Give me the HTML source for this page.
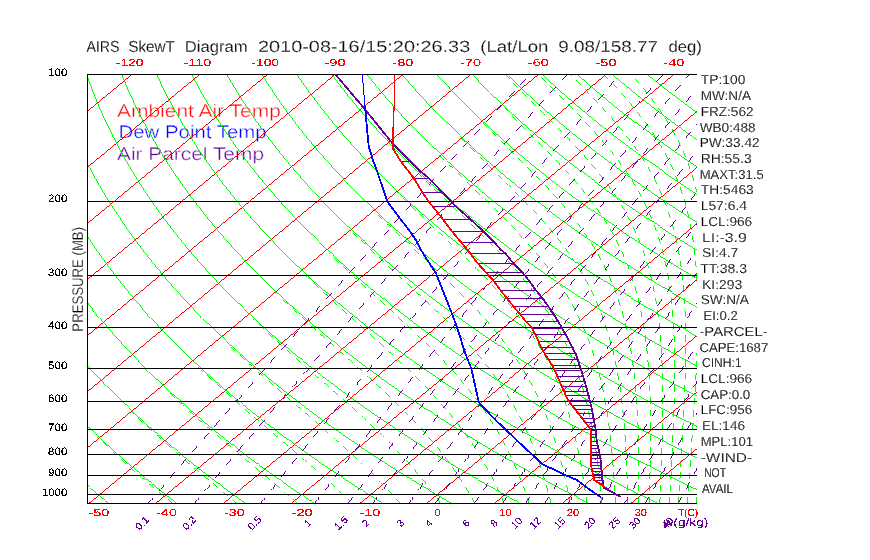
<!DOCTYPE html>
<html><head><meta charset="utf-8"><title>AIRS SkewT Diagram</title>
<style>html,body{margin:0;padding:0;background:#fff}svg{display:block}</style></head>
<body>
<svg width="870" height="560" viewBox="0 0 870 560" shape-rendering="crispEdges" text-rendering="geometricPrecision">
<rect width="870" height="560" fill="#fff"/>
<defs><clipPath id="c"><rect x="87.0" y="74.0" width="610.0" height="430.0"/></clipPath><filter id="t" filterUnits="userSpaceOnUse" x="0" y="0" width="870" height="560" color-interpolation-filters="sRGB"><feComponentTransfer><feFuncA type="discrete" tableValues="0 1"/></feComponentTransfer></filter><filter id="t2" filterUnits="userSpaceOnUse" x="0" y="0" width="870" height="560" color-interpolation-filters="sRGB"><feComponentTransfer><feFuncA type="discrete" tableValues="0 0 0 0 0 0 0 0 1 1 1 1 1 1 1 1 1 1 1 1"/></feComponentTransfer></filter></defs>
<g font-family="'Liberation Sans', sans-serif" shape-rendering="auto" filter="url(#t2)">
<text x="117.0" y="116.8" font-size="18.0" fill="#ff0000" text-anchor="start" textLength="163.8" lengthAdjust="spacingAndGlyphs" stroke="#fff" stroke-width="0.45">Ambient Air Temp</text>
<text x="118.5" y="137.9" font-size="18.0" fill="#0000ff" text-anchor="start" textLength="148.1" lengthAdjust="spacingAndGlyphs" stroke="#fff" stroke-width="0.45">Dew Point Temp</text>
<text x="117.0" y="159.9" font-size="18.0" fill="#64009a" text-anchor="start" textLength="147.0" lengthAdjust="spacingAndGlyphs" stroke="#fff" stroke-width="0.45">Air Parcel Temp</text>
</g>
<g clip-path="url(#c)" fill="none" stroke-width="0.75" filter="url(#t)">
<g stroke="#00ff00">
<path d="M108.7 503.8 L106.7 502.1 L104.6 500.3 L102.5 498.5 L100.4 496.7 L98.3 494.9 L96.1 493.1 L94.0 491.2 L91.8 489.3 L89.7 487.5 L87.5 485.5 L85.4 483.6 L83.2 481.7 L81.0 479.7 L78.8 477.7 L76.6 475.7 L74.4 473.6 L72.1 471.6 L69.9 469.5 L67.7 467.4 L65.4 465.3 L63.1 463.1 L60.9 460.9 L58.6 458.7 L56.3 456.5 L53.9 454.2 L51.6 451.9 L49.3 449.6 L47.0 447.2 L44.6 444.8 L42.2 442.4 L39.9 440.0 L37.5 437.5 L35.1 435.0 L32.7 432.4 L30.2 429.8 L27.8 427.2 L25.3 424.6 L22.9 421.9 L20.4 419.1 L17.9 416.3 L15.4 413.5 L12.9 410.6 L10.4 407.7 L7.9 404.7 L5.3 401.7 L2.7 398.7 L0.2 395.5 L-2.4 392.4 L-5.0 389.1 L-7.6 385.9 L-10.3 382.5 L-12.9 379.1 L-15.5 375.6 L-18.2 372.1 L-20.9 368.5 L-23.6 364.8 L-26.3 361.0 L-29.0 357.2 L-31.7 353.3 L-34.5 349.2 L-37.2 345.2 L-40.0 341.0 L-42.8 336.7 L-45.6 332.3 L-48.4 327.8 L-51.2 323.1 L-54.0 318.4 L-56.9 313.5 L-59.7 308.5 L-62.5 303.4 L-65.4 298.1 L-68.3 292.7 L-71.1 287.1 L-74.0 281.3 L-76.9 275.3 L-79.7 269.1 L-82.6 262.7 L-85.5 256.1 L-88.3 249.2 L-91.1 242.0 L-93.9 234.6 L-96.7 226.8 L-99.5 218.7 L-102.2 210.2 L-104.8 201.3 L-107.4 192.0 L-110.0 182.1 L-112.4 171.7 L-114.7 160.6 L-116.8 148.9 L-118.8 136.3 L-120.5 122.8 L-122.0 108.2 L-123.1 92.3 L-123.7 74.9"/>
<path d="M177.4 503.8 L175.2 502.1 L172.9 500.3 L170.6 498.5 L168.3 496.7 L166.0 494.9 L163.7 493.1 L161.4 491.2 L159.0 489.3 L156.7 487.5 L154.3 485.5 L151.9 483.6 L149.5 481.7 L147.2 479.7 L144.7 477.7 L142.3 475.7 L139.9 473.6 L137.5 471.6 L135.0 469.5 L132.5 467.4 L130.1 465.3 L127.6 463.1 L125.1 460.9 L122.6 458.7 L120.0 456.5 L117.5 454.2 L115.0 451.9 L112.4 449.6 L109.8 447.2 L107.2 444.8 L104.6 442.4 L102.0 440.0 L99.4 437.5 L96.7 435.0 L94.1 432.4 L91.4 429.8 L88.7 427.2 L86.0 424.6 L83.3 421.9 L80.6 419.1 L77.8 416.3 L75.1 413.5 L72.3 410.6 L69.5 407.7 L66.7 404.7 L63.9 401.7 L61.0 398.7 L58.2 395.5 L55.3 392.4 L52.4 389.1 L49.5 385.9 L46.6 382.5 L43.6 379.1 L40.7 375.6 L37.7 372.1 L34.7 368.5 L31.7 364.8 L28.6 361.0 L25.6 357.2 L22.5 353.3 L19.4 349.2 L16.3 345.2 L13.2 341.0 L10.1 336.7 L6.9 332.3 L3.7 327.8 L0.6 323.1 L-2.6 318.4 L-5.9 313.5 L-9.1 308.5 L-12.4 303.4 L-15.6 298.1 L-18.9 292.7 L-22.2 287.1 L-25.5 281.3 L-28.9 275.3 L-32.2 269.1 L-35.5 262.7 L-38.9 256.1 L-42.2 249.2 L-45.6 242.0 L-48.9 234.6 L-52.2 226.8 L-55.5 218.7 L-58.8 210.2 L-62.1 201.3 L-65.3 192.0 L-68.5 182.1 L-71.6 171.7 L-74.6 160.6 L-77.4 148.9 L-80.2 136.3 L-82.7 122.8 L-85.0 108.2 L-87.0 92.3 L-88.6 74.9"/>
<path d="M246.1 503.8 L243.7 502.1 L241.2 500.3 L238.7 498.5 L236.3 496.7 L233.8 494.9 L231.2 493.1 L228.7 491.2 L226.2 489.3 L223.6 487.5 L221.1 485.5 L218.5 483.6 L215.9 481.7 L213.3 479.7 L210.7 477.7 L208.1 475.7 L205.4 473.6 L202.8 471.6 L200.1 469.5 L197.4 467.4 L194.7 465.3 L192.0 463.1 L189.3 460.9 L186.6 458.7 L183.8 456.5 L181.1 454.2 L178.3 451.9 L175.5 449.6 L172.7 447.2 L169.9 444.8 L167.0 442.4 L164.2 440.0 L161.3 437.5 L158.4 435.0 L155.5 432.4 L152.6 429.8 L149.6 427.2 L146.7 424.6 L143.7 421.9 L140.7 419.1 L137.7 416.3 L134.7 413.5 L131.6 410.6 L128.6 407.7 L125.5 404.7 L122.4 401.7 L119.3 398.7 L116.1 395.5 L113.0 392.4 L109.8 389.1 L106.6 385.9 L103.4 382.5 L100.1 379.1 L96.8 375.6 L93.6 372.1 L90.2 368.5 L86.9 364.8 L83.6 361.0 L80.2 357.2 L76.8 353.3 L73.4 349.2 L69.9 345.2 L66.4 341.0 L62.9 336.7 L59.4 332.3 L55.9 327.8 L52.3 323.1 L48.7 318.4 L45.1 313.5 L41.5 308.5 L37.8 303.4 L34.1 298.1 L30.4 292.7 L26.7 287.1 L22.9 281.3 L19.2 275.3 L15.4 269.1 L11.5 262.7 L7.7 256.1 L3.9 249.2 L0.0 242.0 L-3.9 234.6 L-7.7 226.8 L-11.6 218.7 L-15.5 210.2 L-19.3 201.3 L-23.2 192.0 L-27.0 182.1 L-30.7 171.7 L-34.4 160.6 L-38.1 148.9 L-41.6 136.3 L-44.9 122.8 L-48.1 108.2 L-51.0 92.3 L-53.6 74.9"/>
<path d="M314.9 503.8 L312.2 502.1 L309.5 500.3 L306.9 498.5 L304.2 496.7 L301.5 494.9 L298.8 493.1 L296.1 491.2 L293.3 489.3 L290.6 487.5 L287.8 485.5 L285.1 483.6 L282.3 481.7 L279.5 479.7 L276.6 477.7 L273.8 475.7 L271.0 473.6 L268.1 471.6 L265.2 469.5 L262.3 467.4 L259.4 465.3 L256.5 463.1 L253.6 460.9 L250.6 458.7 L247.6 456.5 L244.6 454.2 L241.6 451.9 L238.6 449.6 L235.6 447.2 L232.5 444.8 L229.4 442.4 L226.3 440.0 L223.2 437.5 L220.1 435.0 L216.9 432.4 L213.8 429.8 L210.6 427.2 L207.4 424.6 L204.1 421.9 L200.9 419.1 L197.6 416.3 L194.3 413.5 L191.0 410.6 L187.7 407.7 L184.3 404.7 L180.9 401.7 L177.5 398.7 L174.1 395.5 L170.7 392.4 L167.2 389.1 L163.7 385.9 L160.2 382.5 L156.6 379.1 L153.0 375.6 L149.4 372.1 L145.8 368.5 L142.2 364.8 L138.5 361.0 L134.8 357.2 L131.0 353.3 L127.3 349.2 L123.5 345.2 L119.7 341.0 L115.8 336.7 L111.9 332.3 L108.0 327.8 L104.1 323.1 L100.1 318.4 L96.1 313.5 L92.1 308.5 L88.0 303.4 L83.9 298.1 L79.8 292.7 L75.6 287.1 L71.4 281.3 L67.2 275.3 L62.9 269.1 L58.6 262.7 L54.3 256.1 L50.0 249.2 L45.6 242.0 L41.2 234.6 L36.8 226.8 L32.3 218.7 L27.9 210.2 L23.4 201.3 L19.0 192.0 L14.5 182.1 L10.1 171.7 L5.7 160.6 L1.3 148.9 L-3.0 136.3 L-7.1 122.8 L-11.1 108.2 L-15.0 92.3 L-18.5 74.9"/>
<path d="M383.6 503.8 L380.7 502.1 L377.9 500.3 L375.0 498.5 L372.1 496.7 L369.3 494.9 L366.3 493.1 L363.4 491.2 L360.5 489.3 L357.6 487.5 L354.6 485.5 L351.6 483.6 L348.6 481.7 L345.6 479.7 L342.6 477.7 L339.5 475.7 L336.5 473.6 L333.4 471.6 L330.3 469.5 L327.2 467.4 L324.1 465.3 L320.9 463.1 L317.8 460.9 L314.6 458.7 L311.4 456.5 L308.2 454.2 L305.0 451.9 L301.7 449.6 L298.4 447.2 L295.1 444.8 L291.8 442.4 L288.5 440.0 L285.1 437.5 L281.8 435.0 L278.4 432.4 L274.9 429.8 L271.5 427.2 L268.0 424.6 L264.6 421.9 L261.0 419.1 L257.5 416.3 L254.0 413.5 L250.4 410.6 L246.8 407.7 L243.1 404.7 L239.5 401.7 L235.8 398.7 L232.1 395.5 L228.3 392.4 L224.6 389.1 L220.8 385.9 L217.0 382.5 L213.1 379.1 L209.2 375.6 L205.3 372.1 L201.4 368.5 L197.4 364.8 L193.4 361.0 L189.4 357.2 L185.3 353.3 L181.2 349.2 L177.1 345.2 L172.9 341.0 L168.7 336.7 L164.4 332.3 L160.1 327.8 L155.8 323.1 L151.5 318.4 L147.1 313.5 L142.6 308.5 L138.2 303.4 L133.6 298.1 L129.1 292.7 L124.5 287.1 L119.9 281.3 L115.2 275.3 L110.5 269.1 L105.7 262.7 L100.9 256.1 L96.0 249.2 L91.2 242.0 L86.2 234.6 L81.3 226.8 L76.3 218.7 L71.2 210.2 L66.2 201.3 L61.1 192.0 L56.0 182.1 L50.9 171.7 L45.8 160.6 L40.7 148.9 L35.7 136.3 L30.7 122.8 L25.8 108.2 L21.1 92.3 L16.6 74.9"/>
<path d="M452.3 503.8 L449.2 502.1 L446.2 500.3 L443.1 498.5 L440.1 496.7 L437.0 494.9 L433.9 493.1 L430.8 491.2 L427.7 489.3 L424.5 487.5 L421.4 485.5 L418.2 483.6 L415.0 481.7 L411.8 479.7 L408.5 477.7 L405.3 475.7 L402.0 473.6 L398.7 471.6 L395.4 469.5 L392.1 467.4 L388.8 465.3 L385.4 463.1 L382.0 460.9 L378.6 458.7 L375.2 456.5 L371.8 454.2 L368.3 451.9 L364.8 449.6 L361.3 447.2 L357.8 444.8 L354.2 442.4 L350.7 440.0 L347.1 437.5 L343.4 435.0 L339.8 432.4 L336.1 429.8 L332.4 427.2 L328.7 424.6 L325.0 421.9 L321.2 419.1 L317.4 416.3 L313.6 413.5 L309.7 410.6 L305.9 407.7 L302.0 404.7 L298.0 401.7 L294.1 398.7 L290.1 395.5 L286.0 392.4 L282.0 389.1 L277.9 385.9 L273.8 382.5 L269.6 379.1 L265.4 375.6 L261.2 372.1 L256.9 368.5 L252.7 364.8 L248.3 361.0 L244.0 357.2 L239.6 353.3 L235.1 349.2 L230.6 345.2 L226.1 341.0 L221.5 336.7 L216.9 332.3 L212.3 327.8 L207.6 323.1 L202.8 318.4 L198.1 313.5 L193.2 308.5 L188.3 303.4 L183.4 298.1 L178.4 292.7 L173.4 287.1 L168.3 281.3 L163.2 275.3 L158.0 269.1 L152.8 262.7 L147.5 256.1 L142.1 249.2 L136.7 242.0 L131.3 234.6 L125.8 226.8 L120.2 218.7 L114.6 210.2 L108.9 201.3 L103.2 192.0 L97.5 182.1 L91.7 171.7 L85.9 160.6 L80.1 148.9 L74.3 136.3 L68.5 122.8 L62.7 108.2 L57.1 92.3 L51.6 74.9"/>
<path d="M521.0 503.8 L517.7 502.1 L514.5 500.3 L511.3 498.5 L508.0 496.7 L504.8 494.9 L501.5 493.1 L498.2 491.2 L494.8 489.3 L491.5 487.5 L488.1 485.5 L484.7 483.6 L481.3 481.7 L477.9 479.7 L474.5 477.7 L471.0 475.7 L467.5 473.6 L464.0 471.6 L460.5 469.5 L457.0 467.4 L453.4 465.3 L449.9 463.1 L446.3 460.9 L442.6 458.7 L439.0 456.5 L435.3 454.2 L431.6 451.9 L427.9 449.6 L424.2 447.2 L420.4 444.8 L416.6 442.4 L412.8 440.0 L409.0 437.5 L405.1 435.0 L401.2 432.4 L397.3 429.8 L393.4 427.2 L389.4 424.6 L385.4 421.9 L381.4 419.1 L377.3 416.3 L373.2 413.5 L369.1 410.6 L364.9 407.7 L360.8 404.7 L356.6 401.7 L352.3 398.7 L348.0 395.5 L343.7 392.4 L339.4 389.1 L335.0 385.9 L330.6 382.5 L326.1 379.1 L321.6 375.6 L317.1 372.1 L312.5 368.5 L307.9 364.8 L303.2 361.0 L298.5 357.2 L293.8 353.3 L289.0 349.2 L284.2 345.2 L279.3 341.0 L274.4 336.7 L269.4 332.3 L264.4 327.8 L259.3 323.1 L254.2 318.4 L249.0 313.5 L243.8 308.5 L238.5 303.4 L233.2 298.1 L227.8 292.7 L222.3 287.1 L216.8 281.3 L211.2 275.3 L205.6 269.1 L199.8 262.7 L194.1 256.1 L188.2 249.2 L182.3 242.0 L176.3 234.6 L170.3 226.8 L164.1 218.7 L158.0 210.2 L151.7 201.3 L145.4 192.0 L139.0 182.1 L132.5 171.7 L126.0 160.6 L119.5 148.9 L112.9 136.3 L106.3 122.8 L99.7 108.2 L93.2 92.3 L86.7 74.9"/>
<path d="M589.7 503.8 L586.3 502.1 L582.8 500.3 L579.4 498.5 L576.0 496.7 L572.5 494.9 L569.0 493.1 L565.5 491.2 L562.0 489.3 L558.4 487.5 L554.9 485.5 L551.3 483.6 L547.7 481.7 L544.1 479.7 L540.4 477.7 L536.8 475.7 L533.1 473.6 L529.4 471.6 L525.6 469.5 L521.9 467.4 L518.1 465.3 L514.3 463.1 L510.5 460.9 L506.6 458.7 L502.8 456.5 L498.9 454.2 L495.0 451.9 L491.0 449.6 L487.0 447.2 L483.0 444.8 L479.0 442.4 L475.0 440.0 L470.9 437.5 L466.8 435.0 L462.6 432.4 L458.5 429.8 L454.3 427.2 L450.1 424.6 L445.8 421.9 L441.5 419.1 L437.2 416.3 L432.8 413.5 L428.5 410.6 L424.0 407.7 L419.6 404.7 L415.1 401.7 L410.6 398.7 L406.0 395.5 L401.4 392.4 L396.8 389.1 L392.1 385.9 L387.4 382.5 L382.6 379.1 L377.8 375.6 L373.0 372.1 L368.1 368.5 L363.1 364.8 L358.2 361.0 L353.1 357.2 L348.1 353.3 L342.9 349.2 L337.8 345.2 L332.5 341.0 L327.3 336.7 L321.9 332.3 L316.5 327.8 L311.1 323.1 L305.6 318.4 L300.0 313.5 L294.4 308.5 L288.7 303.4 L282.9 298.1 L277.1 292.7 L271.2 287.1 L265.3 281.3 L259.2 275.3 L253.1 269.1 L246.9 262.7 L240.7 256.1 L234.3 249.2 L227.9 242.0 L221.4 234.6 L214.8 226.8 L208.1 218.7 L201.3 210.2 L194.5 201.3 L187.5 192.0 L180.5 182.1 L173.3 171.7 L166.1 160.6 L158.8 148.9 L151.5 136.3 L144.1 122.8 L136.6 108.2 L129.2 92.3 L121.8 74.9"/>
<path d="M658.4 503.8 L654.8 502.1 L651.2 500.3 L647.6 498.5 L643.9 496.7 L640.3 494.9 L636.6 493.1 L632.9 491.2 L629.1 489.3 L625.4 487.5 L621.6 485.5 L617.9 483.6 L614.1 481.7 L610.2 479.7 L606.4 477.7 L602.5 475.7 L598.6 473.6 L594.7 471.6 L590.7 469.5 L586.8 467.4 L582.8 465.3 L578.8 463.1 L574.7 460.9 L570.7 458.7 L566.6 456.5 L562.4 454.2 L558.3 451.9 L554.1 449.6 L549.9 447.2 L545.7 444.8 L541.4 442.4 L537.1 440.0 L532.8 437.5 L528.5 435.0 L524.1 432.4 L519.7 429.8 L515.2 427.2 L510.7 424.6 L506.2 421.9 L501.7 419.1 L497.1 416.3 L492.5 413.5 L487.8 410.6 L483.1 407.7 L478.4 404.7 L473.6 401.7 L468.8 398.7 L464.0 395.5 L459.1 392.4 L454.2 389.1 L449.2 385.9 L444.2 382.5 L439.1 379.1 L434.0 375.6 L428.8 372.1 L423.6 368.5 L418.4 364.8 L413.1 361.0 L407.7 357.2 L402.3 353.3 L396.9 349.2 L391.3 345.2 L385.8 341.0 L380.1 336.7 L374.4 332.3 L368.7 327.8 L362.8 323.1 L357.0 318.4 L351.0 313.5 L345.0 308.5 L338.9 303.4 L332.7 298.1 L326.5 292.7 L320.1 287.1 L313.7 281.3 L307.2 275.3 L300.7 269.1 L294.0 262.7 L287.2 256.1 L280.4 249.2 L273.5 242.0 L266.4 234.6 L259.3 226.8 L252.0 218.7 L244.7 210.2 L237.2 201.3 L229.6 192.0 L221.9 182.1 L214.2 171.7 L206.2 160.6 L198.2 148.9 L190.1 136.3 L181.9 122.8 L173.6 108.2 L165.2 92.3 L156.9 74.9"/>
<path d="M727.1 503.8 L723.3 502.1 L719.5 500.3 L715.7 498.5 L711.9 496.7 L708.0 494.9 L704.1 493.1 L700.2 491.2 L696.3 489.3 L692.4 487.5 L688.4 485.5 L684.4 483.6 L680.4 481.7 L676.4 479.7 L672.3 477.7 L668.2 475.7 L664.1 473.6 L660.0 471.6 L655.8 469.5 L651.7 467.4 L647.5 465.3 L643.2 463.1 L639.0 460.9 L634.7 458.7 L630.3 456.5 L626.0 454.2 L621.6 451.9 L617.2 449.6 L612.8 447.2 L608.3 444.8 L603.8 442.4 L599.3 440.0 L594.7 437.5 L590.1 435.0 L585.5 432.4 L580.8 429.8 L576.1 427.2 L571.4 424.6 L566.6 421.9 L561.8 419.1 L557.0 416.3 L552.1 413.5 L547.2 410.6 L542.2 407.7 L537.2 404.7 L532.2 401.7 L527.1 398.7 L522.0 395.5 L516.8 392.4 L511.6 389.1 L506.3 385.9 L501.0 382.5 L495.6 379.1 L490.2 375.6 L484.7 372.1 L479.2 368.5 L473.6 364.8 L468.0 361.0 L462.3 357.2 L456.6 353.3 L450.8 349.2 L444.9 345.2 L439.0 341.0 L433.0 336.7 L426.9 332.3 L420.8 327.8 L414.6 323.1 L408.3 318.4 L402.0 313.5 L395.6 308.5 L389.1 303.4 L382.5 298.1 L375.8 292.7 L369.0 287.1 L362.2 281.3 L355.2 275.3 L348.2 269.1 L341.1 262.7 L333.8 256.1 L326.5 249.2 L319.0 242.0 L311.5 234.6 L303.8 226.8 L296.0 218.7 L288.0 210.2 L280.0 201.3 L271.8 192.0 L263.4 182.1 L255.0 171.7 L246.4 160.6 L237.6 148.9 L228.7 136.3 L219.7 122.8 L210.5 108.2 L201.3 92.3 L191.9 74.9"/>
<path d="M795.8 503.8 L791.8 502.1 L787.8 500.3 L783.8 498.5 L779.8 496.7 L775.8 494.9 L771.7 493.1 L767.6 491.2 L763.5 489.3 L759.3 487.5 L755.2 485.5 L751.0 483.6 L746.8 481.7 L742.5 479.7 L738.3 477.7 L734.0 475.7 L729.7 473.6 L725.3 471.6 L721.0 469.5 L716.6 467.4 L712.1 465.3 L707.7 463.1 L703.2 460.9 L698.7 458.7 L694.1 456.5 L689.6 454.2 L685.0 451.9 L680.3 449.6 L675.7 447.2 L671.0 444.8 L666.2 442.4 L661.5 440.0 L656.6 437.5 L651.8 435.0 L646.9 432.4 L642.0 429.8 L637.1 427.2 L632.1 424.6 L627.1 421.9 L622.0 419.1 L616.9 416.3 L611.7 413.5 L606.6 410.6 L601.3 407.7 L596.0 404.7 L590.7 401.7 L585.4 398.7 L579.9 395.5 L574.5 392.4 L569.0 389.1 L563.4 385.9 L557.8 382.5 L552.1 379.1 L546.4 375.6 L540.6 372.1 L534.8 368.5 L528.9 364.8 L522.9 361.0 L516.9 357.2 L510.8 353.3 L504.7 349.2 L498.5 345.2 L492.2 341.0 L485.9 336.7 L479.4 332.3 L472.9 327.8 L466.4 323.1 L459.7 318.4 L453.0 313.5 L446.1 308.5 L439.2 303.4 L432.2 298.1 L425.1 292.7 L417.9 287.1 L410.7 281.3 L403.3 275.3 L395.8 269.1 L388.2 262.7 L380.4 256.1 L372.6 249.2 L364.6 242.0 L356.5 234.6 L348.3 226.8 L339.9 218.7 L331.4 210.2 L322.7 201.3 L313.9 192.0 L304.9 182.1 L295.8 171.7 L286.5 160.6 L277.0 148.9 L267.3 136.3 L257.5 122.8 L247.5 108.2 L237.3 92.3 L227.0 74.9"/>
<path d="M864.5 503.8 L860.3 502.1 L856.2 500.3 L852.0 498.5 L847.7 496.7 L843.5 494.9 L839.2 493.1 L834.9 491.2 L830.6 489.3 L826.3 487.5 L821.9 485.5 L817.5 483.6 L813.1 481.7 L808.7 479.7 L804.2 477.7 L799.7 475.7 L795.2 473.6 L790.6 471.6 L786.1 469.5 L781.4 467.4 L776.8 465.3 L772.1 463.1 L767.4 460.9 L762.7 458.7 L757.9 456.5 L753.1 454.2 L748.3 451.9 L743.4 449.6 L738.5 447.2 L733.6 444.8 L728.6 442.4 L723.6 440.0 L718.6 437.5 L713.5 435.0 L708.4 432.4 L703.2 429.8 L698.0 427.2 L692.8 424.6 L687.5 421.9 L682.2 419.1 L676.8 416.3 L671.4 413.5 L665.9 410.6 L660.4 407.7 L654.9 404.7 L649.3 401.7 L643.6 398.7 L637.9 395.5 L632.2 392.4 L626.4 389.1 L620.5 385.9 L614.6 382.5 L608.6 379.1 L602.6 375.6 L596.5 372.1 L590.3 368.5 L584.1 364.8 L577.9 361.0 L571.5 357.2 L565.1 353.3 L558.6 349.2 L552.1 345.2 L545.4 341.0 L538.7 336.7 L531.9 332.3 L525.1 327.8 L518.1 323.1 L511.1 318.4 L503.9 313.5 L496.7 308.5 L489.4 303.4 L482.0 298.1 L474.5 292.7 L466.9 287.1 L459.1 281.3 L451.3 275.3 L443.3 269.1 L435.2 262.7 L427.0 256.1 L418.7 249.2 L410.2 242.0 L401.6 234.6 L392.8 226.8 L383.8 218.7 L374.7 210.2 L365.5 201.3 L356.0 192.0 L346.4 182.1 L336.6 171.7 L326.6 160.6 L316.4 148.9 L305.9 136.3 L295.3 122.8 L284.4 108.2 L273.3 92.3 L262.1 74.9"/>
<path d="M933.2 503.8 L928.8 502.1 L924.5 500.3 L920.1 498.5 L915.7 496.7 L911.3 494.9 L906.8 493.1 L902.3 491.2 L897.8 489.3 L893.3 487.5 L888.7 485.5 L884.1 483.6 L879.5 481.7 L874.8 479.7 L870.2 477.7 L865.5 475.7 L860.7 473.6 L856.0 471.6 L851.2 469.5 L846.3 467.4 L841.5 465.3 L836.6 463.1 L831.7 460.9 L826.7 458.7 L821.7 456.5 L816.7 454.2 L811.6 451.9 L806.5 449.6 L801.4 447.2 L796.2 444.8 L791.0 442.4 L785.8 440.0 L780.5 437.5 L775.2 435.0 L769.8 432.4 L764.4 429.8 L758.9 427.2 L753.4 424.6 L747.9 421.9 L742.3 419.1 L736.7 416.3 L731.0 413.5 L725.3 410.6 L719.5 407.7 L713.7 404.7 L707.8 401.7 L701.9 398.7 L695.9 395.5 L689.9 392.4 L683.8 389.1 L677.6 385.9 L671.4 382.5 L665.1 379.1 L658.8 375.6 L652.4 372.1 L645.9 368.5 L639.4 364.8 L632.8 361.0 L626.1 357.2 L619.4 353.3 L612.5 349.2 L605.6 345.2 L598.6 341.0 L591.6 336.7 L584.4 332.3 L577.2 327.8 L569.9 323.1 L562.4 318.4 L554.9 313.5 L547.3 308.5 L539.6 303.4 L531.8 298.1 L523.8 292.7 L515.8 287.1 L507.6 281.3 L499.3 275.3 L490.9 269.1 L482.3 262.7 L473.6 256.1 L464.8 249.2 L455.8 242.0 L446.6 234.6 L437.3 226.8 L427.8 218.7 L418.1 210.2 L408.2 201.3 L398.2 192.0 L387.9 182.1 L377.4 171.7 L366.7 160.6 L355.7 148.9 L344.5 136.3 L333.1 122.8 L321.4 108.2 L309.4 92.3 L297.1 74.9"/>
<path d="M1001.9 503.8 L997.3 502.1 L992.8 500.3 L988.2 498.5 L983.6 496.7 L979.0 494.9 L974.3 493.1 L969.7 491.2 L965.0 489.3 L960.2 487.5 L955.5 485.5 L950.7 483.6 L945.8 481.7 L941.0 479.7 L936.1 477.7 L931.2 475.7 L926.3 473.6 L921.3 471.6 L916.3 469.5 L911.2 467.4 L906.1 465.3 L901.0 463.1 L895.9 460.9 L890.7 458.7 L885.5 456.5 L880.2 454.2 L875.0 451.9 L869.6 449.6 L864.3 447.2 L858.9 444.8 L853.4 442.4 L847.9 440.0 L842.4 437.5 L836.8 435.0 L831.2 432.4 L825.6 429.8 L819.9 427.2 L814.1 424.6 L808.3 421.9 L802.5 419.1 L796.6 416.3 L790.6 413.5 L784.6 410.6 L778.6 407.7 L772.5 404.7 L766.3 401.7 L760.1 398.7 L753.9 395.5 L747.5 392.4 L741.2 389.1 L734.7 385.9 L728.2 382.5 L721.6 379.1 L715.0 375.6 L708.3 372.1 L701.5 368.5 L694.6 364.8 L687.7 361.0 L680.7 357.2 L673.6 353.3 L666.4 349.2 L659.2 345.2 L651.9 341.0 L644.4 336.7 L636.9 332.3 L629.3 327.8 L621.6 323.1 L613.8 318.4 L605.9 313.5 L597.9 308.5 L589.8 303.4 L581.5 298.1 L573.2 292.7 L564.7 287.1 L556.1 281.3 L547.3 275.3 L538.4 269.1 L529.4 262.7 L520.2 256.1 L510.8 249.2 L501.3 242.0 L491.6 234.6 L481.8 226.8 L471.7 218.7 L461.5 210.2 L451.0 201.3 L440.3 192.0 L429.4 182.1 L418.2 171.7 L406.8 160.6 L395.1 148.9 L383.1 136.3 L370.9 122.8 L358.3 108.2 L345.4 92.3 L332.2 74.9"/>
<path d="M1070.6 503.8 L1065.9 502.1 L1061.1 500.3 L1056.4 498.5 L1051.6 496.7 L1046.8 494.9 L1041.9 493.1 L1037.0 491.2 L1032.1 489.3 L1027.2 487.5 L1022.2 485.5 L1017.2 483.6 L1012.2 481.7 L1007.1 479.7 L1002.1 477.7 L996.9 475.7 L991.8 473.6 L986.6 471.6 L981.4 469.5 L976.1 467.4 L970.8 465.3 L965.5 463.1 L960.1 460.9 L954.7 458.7 L949.3 456.5 L943.8 454.2 L938.3 451.9 L932.7 449.6 L927.1 447.2 L921.5 444.8 L915.8 442.4 L910.1 440.0 L904.3 437.5 L898.5 435.0 L892.6 432.4 L886.7 429.8 L880.8 427.2 L874.8 424.6 L868.7 421.9 L862.6 419.1 L856.5 416.3 L850.3 413.5 L844.0 410.6 L837.7 407.7 L831.3 404.7 L824.9 401.7 L818.4 398.7 L811.8 395.5 L805.2 392.4 L798.6 389.1 L791.8 385.9 L785.0 382.5 L778.1 379.1 L771.2 375.6 L764.1 372.1 L757.0 368.5 L749.9 364.8 L742.6 361.0 L735.3 357.2 L727.9 353.3 L720.4 349.2 L712.8 345.2 L705.1 341.0 L697.3 336.7 L689.4 332.3 L681.5 327.8 L673.4 323.1 L665.2 318.4 L656.9 313.5 L648.5 308.5 L639.9 303.4 L631.3 298.1 L622.5 292.7 L613.6 287.1 L604.5 281.3 L595.3 275.3 L586.0 269.1 L576.5 262.7 L566.8 256.1 L556.9 249.2 L546.9 242.0 L536.7 234.6 L526.3 226.8 L515.7 218.7 L504.8 210.2 L493.7 201.3 L482.4 192.0 L470.9 182.1 L459.0 171.7 L446.9 160.6 L434.5 148.9 L421.8 136.3 L408.7 122.8 L395.3 108.2 L381.4 92.3 L367.3 74.9"/>
<path d="M1139.3 503.8 L1134.4 502.1 L1129.5 500.3 L1124.5 498.5 L1119.5 496.7 L1114.5 494.9 L1109.5 493.1 L1104.4 491.2 L1099.3 489.3 L1094.2 487.5 L1089.0 485.5 L1083.8 483.6 L1078.6 481.7 L1073.3 479.7 L1068.0 477.7 L1062.7 475.7 L1057.3 473.6 L1051.9 471.6 L1046.5 469.5 L1041.0 467.4 L1035.5 465.3 L1029.9 463.1 L1024.4 460.9 L1018.7 458.7 L1013.1 456.5 L1007.4 454.2 L1001.6 451.9 L995.8 449.6 L990.0 447.2 L984.1 444.8 L978.2 442.4 L972.2 440.0 L966.2 437.5 L960.2 435.0 L954.1 432.4 L947.9 429.8 L941.7 427.2 L935.5 424.6 L929.2 421.9 L922.8 419.1 L916.4 416.3 L909.9 413.5 L903.4 410.6 L896.8 407.7 L890.1 404.7 L883.4 401.7 L876.7 398.7 L869.8 395.5 L862.9 392.4 L855.9 389.1 L848.9 385.9 L841.8 382.5 L834.6 379.1 L827.4 375.6 L820.0 372.1 L812.6 368.5 L805.1 364.8 L797.5 361.0 L789.9 357.2 L782.1 353.3 L774.3 349.2 L766.3 345.2 L758.3 341.0 L750.2 336.7 L741.9 332.3 L733.6 327.8 L725.1 323.1 L716.6 318.4 L707.9 313.5 L699.1 308.5 L690.1 303.4 L681.0 298.1 L671.8 292.7 L662.5 287.1 L653.0 281.3 L643.3 275.3 L633.5 269.1 L623.5 262.7 L613.4 256.1 L603.0 249.2 L592.5 242.0 L581.7 234.6 L570.8 226.8 L559.6 218.7 L548.2 210.2 L536.5 201.3 L524.6 192.0 L512.4 182.1 L499.9 171.7 L487.0 160.6 L473.9 148.9 L460.4 136.3 L446.5 122.8 L432.2 108.2 L417.5 92.3 L402.3 74.9"/>
<path d="M1208.0 503.8 L1202.9 502.1 L1197.8 500.3 L1192.6 498.5 L1187.5 496.7 L1182.3 494.9 L1177.0 493.1 L1171.7 491.2 L1166.4 489.3 L1161.1 487.5 L1155.8 485.5 L1150.4 483.6 L1144.9 481.7 L1139.5 479.7 L1134.0 477.7 L1128.4 475.7 L1122.8 473.6 L1117.2 471.6 L1111.6 469.5 L1105.9 467.4 L1100.2 465.3 L1094.4 463.1 L1088.6 460.9 L1082.7 458.7 L1076.9 456.5 L1070.9 454.2 L1065.0 451.9 L1058.9 449.6 L1052.9 447.2 L1046.8 444.8 L1040.6 442.4 L1034.4 440.0 L1028.2 437.5 L1021.9 435.0 L1015.5 432.4 L1009.1 429.8 L1002.6 427.2 L996.1 424.6 L989.6 421.9 L982.9 419.1 L976.3 416.3 L969.5 413.5 L962.7 410.6 L955.9 407.7 L949.0 404.7 L942.0 401.7 L934.9 398.7 L927.8 395.5 L920.6 392.4 L913.3 389.1 L906.0 385.9 L898.6 382.5 L891.1 379.1 L883.6 375.6 L875.9 372.1 L868.2 368.5 L860.4 364.8 L852.5 361.0 L844.5 357.2 L836.4 353.3 L828.2 349.2 L819.9 345.2 L811.5 341.0 L803.0 336.7 L794.4 332.3 L785.7 327.8 L776.9 323.1 L767.9 318.4 L758.9 313.5 L749.6 308.5 L740.3 303.4 L730.8 298.1 L721.2 292.7 L711.4 287.1 L701.5 281.3 L691.3 275.3 L681.1 269.1 L670.6 262.7 L660.0 256.1 L649.1 249.2 L638.1 242.0 L626.8 234.6 L615.3 226.8 L603.5 218.7 L591.5 210.2 L579.3 201.3 L566.7 192.0 L553.8 182.1 L540.7 171.7 L527.1 160.6 L513.3 148.9 L499.0 136.3 L484.3 122.8 L469.1 108.2 L453.5 92.3 L437.4 74.9"/>
<path d="M1276.7 503.8 L1271.4 502.1 L1266.1 500.3 L1260.8 498.5 L1255.4 496.7 L1250.0 494.9 L1244.6 493.1 L1239.1 491.2 L1233.6 489.3 L1228.1 487.5 L1222.5 485.5 L1216.9 483.6 L1211.3 481.7 L1205.6 479.7 L1199.9 477.7 L1194.2 475.7 L1188.4 473.6 L1182.5 471.6 L1176.7 469.5 L1170.8 467.4 L1164.8 465.3 L1158.9 463.1 L1152.8 460.9 L1146.8 458.7 L1140.6 456.5 L1134.5 454.2 L1128.3 451.9 L1122.0 449.6 L1115.7 447.2 L1109.4 444.8 L1103.0 442.4 L1096.6 440.0 L1090.1 437.5 L1083.5 435.0 L1076.9 432.4 L1070.3 429.8 L1063.6 427.2 L1056.8 424.6 L1050.0 421.9 L1043.1 419.1 L1036.2 416.3 L1029.2 413.5 L1022.1 410.6 L1015.0 407.7 L1007.8 404.7 L1000.5 401.7 L993.2 398.7 L985.8 395.5 L978.3 392.4 L970.7 389.1 L963.1 385.9 L955.4 382.5 L947.6 379.1 L939.7 375.6 L931.8 372.1 L923.7 368.5 L915.6 364.8 L907.4 361.0 L899.1 357.2 L890.6 353.3 L882.1 349.2 L873.5 345.2 L864.7 341.0 L855.9 336.7 L846.9 332.3 L837.9 327.8 L828.6 323.1 L819.3 318.4 L809.8 313.5 L800.2 308.5 L790.5 303.4 L780.6 298.1 L770.5 292.7 L760.3 287.1 L749.9 281.3 L739.4 275.3 L728.6 269.1 L717.7 262.7 L706.5 256.1 L695.2 249.2 L683.6 242.0 L671.8 234.6 L659.8 226.8 L647.5 218.7 L634.9 210.2 L622.0 201.3 L608.8 192.0 L595.3 182.1 L581.5 171.7 L567.3 160.6 L552.6 148.9 L537.6 136.3 L522.1 122.8 L506.1 108.2 L489.6 92.3 L472.5 74.9"/>
<path d="M1345.4 503.8 L1339.9 502.1 L1334.4 500.3 L1328.9 498.5 L1323.3 496.7 L1317.8 494.9 L1312.1 493.1 L1306.5 491.2 L1300.8 489.3 L1295.0 487.5 L1289.3 485.5 L1283.5 483.6 L1277.6 481.7 L1271.8 479.7 L1265.8 477.7 L1259.9 475.7 L1253.9 473.6 L1247.9 471.6 L1241.8 469.5 L1235.7 467.4 L1229.5 465.3 L1223.3 463.1 L1217.1 460.9 L1210.8 458.7 L1204.4 456.5 L1198.1 454.2 L1191.6 451.9 L1185.1 449.6 L1178.6 447.2 L1172.0 444.8 L1165.4 442.4 L1158.7 440.0 L1152.0 437.5 L1145.2 435.0 L1138.4 432.4 L1131.5 429.8 L1124.5 427.2 L1117.5 424.6 L1110.4 421.9 L1103.3 419.1 L1096.1 416.3 L1088.8 413.5 L1081.5 410.6 L1074.1 407.7 L1066.6 404.7 L1059.0 401.7 L1051.4 398.7 L1043.7 395.5 L1036.0 392.4 L1028.1 389.1 L1020.2 385.9 L1012.2 382.5 L1004.1 379.1 L995.9 375.6 L987.7 372.1 L979.3 368.5 L970.9 364.8 L962.3 361.0 L953.7 357.2 L944.9 353.3 L936.0 349.2 L927.1 345.2 L918.0 341.0 L908.8 336.7 L899.4 332.3 L890.0 327.8 L880.4 323.1 L870.7 318.4 L860.8 313.5 L850.8 308.5 L840.7 303.4 L830.3 298.1 L819.9 292.7 L809.2 287.1 L798.4 281.3 L787.4 275.3 L776.2 269.1 L764.8 262.7 L753.1 256.1 L741.3 249.2 L729.2 242.0 L716.9 234.6 L704.3 226.8 L691.4 218.7 L678.2 210.2 L664.8 201.3 L651.0 192.0 L636.8 182.1 L622.3 171.7 L607.4 160.6 L592.0 148.9 L576.2 136.3 L559.9 122.8 L543.0 108.2 L525.6 92.3 L507.5 74.9"/>
<path d="M1414.1 503.8 L1408.4 502.1 L1402.8 500.3 L1397.0 498.5 L1391.3 496.7 L1385.5 494.9 L1379.7 493.1 L1373.8 491.2 L1367.9 489.3 L1362.0 487.5 L1356.0 485.5 L1350.0 483.6 L1344.0 481.7 L1337.9 479.7 L1331.8 477.7 L1325.6 475.7 L1319.4 473.6 L1313.2 471.6 L1306.9 469.5 L1300.6 467.4 L1294.2 465.3 L1287.8 463.1 L1281.3 460.9 L1274.8 458.7 L1268.2 456.5 L1261.6 454.2 L1255.0 451.9 L1248.2 449.6 L1241.5 447.2 L1234.7 444.8 L1227.8 442.4 L1220.9 440.0 L1213.9 437.5 L1206.9 435.0 L1199.8 432.4 L1192.6 429.8 L1185.4 427.2 L1178.2 424.6 L1170.8 421.9 L1163.4 419.1 L1156.0 416.3 L1148.4 413.5 L1140.8 410.6 L1133.2 407.7 L1125.4 404.7 L1117.6 401.7 L1109.7 398.7 L1101.7 395.5 L1093.7 392.4 L1085.5 389.1 L1077.3 385.9 L1069.0 382.5 L1060.6 379.1 L1052.1 375.6 L1043.6 372.1 L1034.9 368.5 L1026.1 364.8 L1017.2 361.0 L1008.2 357.2 L999.2 353.3 L989.9 349.2 L980.6 345.2 L971.2 341.0 L961.6 336.7 L951.9 332.3 L942.1 327.8 L932.2 323.1 L922.0 318.4 L911.8 313.5 L901.4 308.5 L890.8 303.4 L880.1 298.1 L869.2 292.7 L858.1 287.1 L846.9 281.3 L835.4 275.3 L823.7 269.1 L811.8 262.7 L799.7 256.1 L787.4 249.2 L774.8 242.0 L761.9 234.6 L748.8 226.8 L735.3 218.7 L721.6 210.2 L707.5 201.3 L693.1 192.0 L678.3 182.1 L663.1 171.7 L647.5 160.6 L631.4 148.9 L614.8 136.3 L597.7 122.8 L580.0 108.2 L561.6 92.3 L542.6 74.9"/>
<path d="M1482.8 503.8 L1476.9 502.1 L1471.1 500.3 L1465.2 498.5 L1459.2 496.7 L1453.3 494.9 L1447.2 493.1 L1441.2 491.2 L1435.1 489.3 L1429.0 487.5 L1422.8 485.5 L1416.6 483.6 L1410.4 481.7 L1404.1 479.7 L1397.7 477.7 L1391.4 475.7 L1385.0 473.6 L1378.5 471.6 L1372.0 469.5 L1365.5 467.4 L1358.9 465.3 L1352.2 463.1 L1345.5 460.9 L1338.8 458.7 L1332.0 456.5 L1325.2 454.2 L1318.3 451.9 L1311.4 449.6 L1304.4 447.2 L1297.3 444.8 L1290.2 442.4 L1283.0 440.0 L1275.8 437.5 L1268.6 435.0 L1261.2 432.4 L1253.8 429.8 L1246.4 427.2 L1238.8 424.6 L1231.2 421.9 L1223.6 419.1 L1215.9 416.3 L1208.1 413.5 L1200.2 410.6 L1192.2 407.7 L1184.2 404.7 L1176.1 401.7 L1168.0 398.7 L1159.7 395.5 L1151.4 392.4 L1142.9 389.1 L1134.4 385.9 L1125.8 382.5 L1117.1 379.1 L1108.3 375.6 L1099.4 372.1 L1090.4 368.5 L1081.4 364.8 L1072.1 361.0 L1062.8 357.2 L1053.4 353.3 L1043.9 349.2 L1034.2 345.2 L1024.4 341.0 L1014.5 336.7 L1004.4 332.3 L994.2 327.8 L983.9 323.1 L973.4 318.4 L962.8 313.5 L952.0 308.5 L941.0 303.4 L929.9 298.1 L918.5 292.7 L907.0 287.1 L895.3 281.3 L883.4 275.3 L871.3 269.1 L858.9 262.7 L846.3 256.1 L833.5 249.2 L820.3 242.0 L807.0 234.6 L793.3 226.8 L779.3 218.7 L765.0 210.2 L750.3 201.3 L735.2 192.0 L719.8 182.1 L703.9 171.7 L687.6 160.6 L670.8 148.9 L653.4 136.3 L635.5 122.8 L616.9 108.2 L597.7 92.3 L577.7 74.9"/>
<path d="M1551.5 503.8 L1545.5 502.1 L1539.4 500.3 L1533.3 498.5 L1527.2 496.7 L1521.0 494.9 L1514.8 493.1 L1508.5 491.2 L1502.3 489.3 L1495.9 487.5 L1489.6 485.5 L1483.2 483.6 L1476.7 481.7 L1470.2 479.7 L1463.7 477.7 L1457.1 475.7 L1450.5 473.6 L1443.8 471.6 L1437.1 469.5 L1430.3 467.4 L1423.5 465.3 L1416.7 463.1 L1409.8 460.9 L1402.8 458.7 L1395.8 456.5 L1388.7 454.2 L1381.6 451.9 L1374.5 449.6 L1367.2 447.2 L1359.9 444.8 L1352.6 442.4 L1345.2 440.0 L1337.7 437.5 L1330.2 435.0 L1322.6 432.4 L1315.0 429.8 L1307.3 427.2 L1299.5 424.6 L1291.7 421.9 L1283.7 419.1 L1275.8 416.3 L1267.7 413.5 L1259.6 410.6 L1251.3 407.7 L1243.0 404.7 L1234.7 401.7 L1226.2 398.7 L1217.7 395.5 L1209.0 392.4 L1200.3 389.1 L1191.5 385.9 L1182.6 382.5 L1173.6 379.1 L1164.5 375.6 L1155.3 372.1 L1146.0 368.5 L1136.6 364.8 L1127.1 361.0 L1117.4 357.2 L1107.7 353.3 L1097.8 349.2 L1087.8 345.2 L1077.6 341.0 L1067.4 336.7 L1056.9 332.3 L1046.4 327.8 L1035.7 323.1 L1024.8 318.4 L1013.8 313.5 L1002.6 308.5 L991.2 303.4 L979.6 298.1 L967.9 292.7 L955.9 287.1 L943.8 281.3 L931.4 275.3 L918.8 269.1 L906.0 262.7 L892.9 256.1 L879.5 249.2 L865.9 242.0 L852.0 234.6 L837.8 226.8 L823.2 218.7 L808.3 210.2 L793.0 201.3 L777.4 192.0 L761.3 182.1 L744.7 171.7 L727.7 160.6 L710.2 148.9 L692.0 136.3 L673.3 122.8 L653.9 108.2 L633.7 92.3 L612.7 74.9"/>
<path d="M1620.2 503.8 L1614.0 502.1 L1607.7 500.3 L1601.4 498.5 L1595.1 496.7 L1588.8 494.9 L1582.3 493.1 L1575.9 491.2 L1569.4 489.3 L1562.9 487.5 L1556.3 485.5 L1549.7 483.6 L1543.1 481.7 L1536.4 479.7 L1529.6 477.7 L1522.8 475.7 L1516.0 473.6 L1509.1 471.6 L1502.2 469.5 L1495.2 467.4 L1488.2 465.3 L1481.1 463.1 L1474.0 460.9 L1466.8 458.7 L1459.6 456.5 L1452.3 454.2 L1445.0 451.9 L1437.6 449.6 L1430.1 447.2 L1422.6 444.8 L1415.0 442.4 L1407.4 440.0 L1399.7 437.5 L1391.9 435.0 L1384.1 432.4 L1376.2 429.8 L1368.2 427.2 L1360.2 424.6 L1352.1 421.9 L1343.9 419.1 L1335.7 416.3 L1327.3 413.5 L1318.9 410.6 L1310.4 407.7 L1301.9 404.7 L1293.2 401.7 L1284.5 398.7 L1275.7 395.5 L1266.7 392.4 L1257.7 389.1 L1248.6 385.9 L1239.4 382.5 L1230.1 379.1 L1220.7 375.6 L1211.2 372.1 L1201.6 368.5 L1191.8 364.8 L1182.0 361.0 L1172.0 357.2 L1161.9 353.3 L1151.7 349.2 L1141.3 345.2 L1130.9 341.0 L1120.2 336.7 L1109.4 332.3 L1098.5 327.8 L1087.4 323.1 L1076.2 318.4 L1064.7 313.5 L1053.1 308.5 L1041.4 303.4 L1029.4 298.1 L1017.2 292.7 L1004.8 287.1 L992.3 281.3 L979.4 275.3 L966.4 269.1 L953.1 262.7 L939.5 256.1 L925.6 249.2 L911.5 242.0 L897.0 234.6 L882.3 226.8 L867.2 218.7 L851.7 210.2 L835.8 201.3 L819.5 192.0 L802.8 182.1 L785.6 171.7 L767.8 160.6 L749.5 148.9 L730.6 136.3 L711.1 122.8 L690.8 108.2 L669.7 92.3 L647.8 74.9"/>
</g>
<g stroke="#00ff00" stroke-dasharray="6.5 6">
<path d="M173.1 503.8 L172.6 503.4 L172.1 502.9 L171.5 502.5 L171.0 502.1 L170.5 501.6 L170.0 501.2 L169.4 500.7 L168.9 500.3 L168.3 499.8 L167.8 499.4 L167.3 499.0 L166.7 498.5 L166.2 498.1 L165.7 497.6 L165.1 497.2 L164.6 496.7 L164.0 496.3 L163.5 495.8 L162.9 495.4 L162.4 494.9 L161.8 494.4 L161.3 494.0 L160.8 493.5 L160.2 493.1 L159.7 492.6 L159.1 492.1 L158.5 491.7 L158.0 491.2 L157.4 490.7 L156.9 490.3 L156.3 489.8 L155.8 489.3 L155.2 488.9 L154.7 488.4 L154.1 487.9 L153.5 487.5 L153.0 487.0 L152.4 486.5 L151.8 486.0 L151.3 485.5 L150.7 485.1 L150.1 484.6 L149.6 484.1 L149.0 483.6 L148.4 483.1 L147.9 482.6 L147.3 482.2 L146.7 481.7 L146.2 481.2 L145.6 480.7 L145.0 480.2 L144.4 479.7 L143.9 479.2 L143.3 478.7 L142.7 478.2 L142.1 477.7 L141.5 477.2 L141.0 476.7 L140.4 476.2 L139.8 475.7 L139.2 475.2 L138.6 474.7 L138.0 474.2 L137.4 473.6 L136.9 473.1 L136.3 472.6 L135.7 472.1 L135.1 471.6 L134.5 471.1 L133.9 470.5 L133.3 470.0 L132.7 469.5 L132.1 469.0 L131.5 468.4 L130.9 467.9 L130.3 467.4 L129.7 466.9 L129.1 466.3 L128.5 465.8 L127.9 465.3 L127.3 464.7 L126.7 464.2 L126.1 463.6 L125.5 463.1 L124.9 462.6 L124.3 462.0 L123.7 461.5 L123.1 460.9 L122.5 460.4 L121.8 459.8 L121.2 459.3 L120.6 458.7 L120.0 458.1 L119.4 457.6 L118.8 457.0 L118.1 456.5 L117.5 455.9 L116.9 455.3 L116.3 454.8 L115.7 454.2 L115.0 453.6 L114.4 453.1 L113.8 452.5 L113.2 451.9 L112.5 451.3 L111.9 450.7 L111.3 450.2 L110.7 449.6 L110.0 449.0 L109.4 448.4 L108.8 447.8 L108.1 447.2 L107.5 446.6 L106.9 446.0 L106.2 445.4 L105.6 444.8 L105.0 444.2 L104.3 443.6 L103.7 443.0 L103.0 442.4 L102.4 441.8 L101.7 441.2 L101.1 440.6 L100.5 440.0 L99.8 439.4 L99.2 438.7 L98.5 438.1 L97.9 437.5 L97.2 436.9"/>
<path d="M237.7 503.8 L237.1 503.4 L236.6 502.9 L236.1 502.5 L235.6 502.1 L235.0 501.6 L234.5 501.2 L233.9 500.7 L233.4 500.3 L232.9 499.8 L232.3 499.4 L231.8 499.0 L231.2 498.5 L230.7 498.1 L230.1 497.6 L229.6 497.2 L229.0 496.7 L228.5 496.3 L227.9 495.8 L227.4 495.4 L226.8 494.9 L226.3 494.4 L225.7 494.0 L225.2 493.5 L224.6 493.1 L224.0 492.6 L223.5 492.1 L222.9 491.7 L222.4 491.2 L221.8 490.7 L221.2 490.3 L220.7 489.8 L220.1 489.3 L219.5 488.9 L218.9 488.4 L218.4 487.9 L217.8 487.5 L217.2 487.0 L216.6 486.5 L216.1 486.0 L215.5 485.5 L214.9 485.1 L214.3 484.6 L213.7 484.1 L213.1 483.6 L212.5 483.1 L212.0 482.6 L211.4 482.2 L210.8 481.7 L210.2 481.2 L209.6 480.7 L209.0 480.2 L208.4 479.7 L207.8 479.2 L207.2 478.7 L206.6 478.2 L206.0 477.7 L205.4 477.2 L204.8 476.7 L204.2 476.2 L203.6 475.7 L203.0 475.2 L202.4 474.7 L201.7 474.2 L201.1 473.6 L200.5 473.1 L199.9 472.6 L199.3 472.1 L198.7 471.6 L198.0 471.1 L197.4 470.5 L196.8 470.0 L196.2 469.5 L195.6 469.0 L194.9 468.4 L194.3 467.9 L193.7 467.4 L193.0 466.9 L192.4 466.3 L191.8 465.8 L191.1 465.3 L190.5 464.7 L189.9 464.2 L189.2 463.6 L188.6 463.1 L188.0 462.6 L187.3 462.0 L186.7 461.5 L186.0 460.9 L185.4 460.4 L184.7 459.8 L184.1 459.3 L183.4 458.7 L182.8 458.1 L182.1 457.6 L181.5 457.0 L180.8 456.5 L180.2 455.9 L179.5 455.3 L178.8 454.8 L178.2 454.2 L177.5 453.6 L176.9 453.1 L176.2 452.5 L175.5 451.9 L174.9 451.3 L174.2 450.7 L173.5 450.2 L172.9 449.6 L172.2 449.0 L171.5 448.4 L170.8 447.8 L170.2 447.2 L169.5 446.6 L168.8 446.0 L168.1 445.4 L167.4 444.8 L166.8 444.2 L166.1 443.6 L165.4 443.0 L164.7 442.4 L164.0 441.8 L163.3 441.2 L162.6 440.6 L161.9 440.0 L161.2 439.4 L160.5 438.7 L159.9 438.1 L159.2 437.5 L158.5 436.9 L157.8 436.2 L157.1 435.6 L156.4 435.0 L155.6 434.3 L154.9 433.7 L154.2 433.1 L153.5 432.4 L152.8 431.8 L152.1 431.1 L151.4 430.5 L150.7 429.8 L150.0 429.2 L149.3 428.5 L148.5 427.9 L147.8 427.2 L147.1 426.6 L146.4 425.9 L145.7 425.2 L144.9 424.6 L144.2 423.9 L143.5 423.2 L142.8 422.5 L142.0 421.9 L141.3 421.2 L140.6 420.5 L139.8 419.8 L139.1 419.1 L138.4 418.4 L137.6 417.7 L136.9 417.0 L136.1 416.3 L135.4 415.6 L134.7 414.9 L133.9 414.2 L133.2 413.5 L132.4 412.8"/>
<path d="M298.1 503.8 L297.6 503.4 L297.1 502.9 L296.6 502.5 L296.1 502.1 L295.6 501.6 L295.1 501.2 L294.6 500.7 L294.1 500.3 L293.5 499.8 L293.0 499.4 L292.5 499.0 L292.0 498.5 L291.5 498.1 L290.9 497.6 L290.4 497.2 L289.9 496.7 L289.4 496.3 L288.8 495.8 L288.3 495.4 L287.8 494.9 L287.2 494.4 L286.7 494.0 L286.2 493.5 L285.6 493.1 L285.1 492.6 L284.5 492.1 L284.0 491.7 L283.5 491.2 L282.9 490.7 L282.4 490.3 L281.8 489.8 L281.2 489.3 L280.7 488.9 L280.1 488.4 L279.6 487.9 L279.0 487.5 L278.5 487.0 L277.9 486.5 L277.3 486.0 L276.8 485.5 L276.2 485.1 L275.6 484.6 L275.0 484.1 L274.5 483.6 L273.9 483.1 L273.3 482.6 L272.7 482.2 L272.1 481.7 L271.6 481.2 L271.0 480.7 L270.4 480.2 L269.8 479.7 L269.2 479.2 L268.6 478.7 L268.0 478.2 L267.4 477.7 L266.8 477.2 L266.2 476.7 L265.6 476.2 L265.0 475.7 L264.4 475.2 L263.8 474.7 L263.2 474.2 L262.6 473.6 L262.0 473.1 L261.3 472.6 L260.7 472.1 L260.1 471.6 L259.5 471.1 L258.9 470.5 L258.2 470.0 L257.6 469.5 L257.0 469.0 L256.3 468.4 L255.7 467.9 L255.1 467.4 L254.4 466.9 L253.8 466.3 L253.2 465.8 L252.5 465.3 L251.9 464.7 L251.2 464.2 L250.6 463.6 L249.9 463.1 L249.3 462.6 L248.6 462.0 L248.0 461.5 L247.3 460.9 L246.7 460.4 L246.0 459.8 L245.3 459.3 L244.7 458.7 L244.0 458.1 L243.4 457.6 L242.7 457.0 L242.0 456.5 L241.3 455.9 L240.7 455.3 L240.0 454.8 L239.3 454.2 L238.6 453.6 L237.9 453.1 L237.3 452.5 L236.6 451.9 L235.9 451.3 L235.2 450.7 L234.5 450.2 L233.8 449.6 L233.1 449.0 L232.4 448.4 L231.7 447.8 L231.0 447.2 L230.3 446.6 L229.6 446.0 L228.9 445.4 L228.2 444.8 L227.5 444.2 L226.8 443.6 L226.1 443.0 L225.4 442.4 L224.6 441.8 L223.9 441.2 L223.2 440.6 L222.5 440.0 L221.7 439.4 L221.0 438.7 L220.3 438.1 L219.6 437.5 L218.8 436.9 L218.1 436.2 L217.4 435.6 L216.6 435.0 L215.9 434.3 L215.1 433.7 L214.4 433.1 L213.7 432.4 L212.9 431.8 L212.2 431.1 L211.4 430.5 L210.7 429.8 L209.9 429.2 L209.2 428.5 L208.4 427.9 L207.6 427.2 L206.9 426.6 L206.1 425.9 L205.3 425.2 L204.6 424.6 L203.8 423.9 L203.0 423.2 L202.3 422.5 L201.5 421.9 L200.7 421.2 L199.9 420.5 L199.2 419.8 L198.4 419.1 L197.6 418.4 L196.8 417.7 L196.0 417.0 L195.2 416.3 L194.5 415.6 L193.7 414.9 L192.9 414.2 L192.1 413.5 L191.3 412.8 L190.5 412.1 L189.7 411.3 L188.9 410.6 L188.1 409.9 L187.3 409.2 L186.5 408.4 L185.6 407.7 L184.8 407.0 L184.0 406.2 L183.2 405.5 L182.4 404.7 L181.6 404.0 L180.7 403.2 L179.9 402.5 L179.1 401.7 L178.3 401.0 L177.4 400.2 L176.6 399.4 L175.8 398.7 L175.0 397.9 L174.1 397.1 L173.3 396.3 L172.4 395.5 L171.6 394.8 L170.8 394.0 L169.9 393.2 L169.1 392.4 L168.2 391.6 L167.4 390.8 L166.5 390.0 L165.7 389.1"/>
<path d="M352.6 503.8 L352.2 503.4 L351.7 502.9 L351.3 502.5 L350.8 502.1 L350.4 501.6 L349.9 501.2 L349.5 500.7 L349.0 500.3 L348.5 499.8 L348.1 499.4 L347.6 499.0 L347.2 498.5 L346.7 498.1 L346.2 497.6 L345.8 497.2 L345.3 496.7 L344.8 496.3 L344.3 495.8 L343.9 495.4 L343.4 494.9 L342.9 494.4 L342.4 494.0 L341.9 493.5 L341.4 493.1 L340.9 492.6 L340.5 492.1 L340.0 491.7 L339.5 491.2 L339.0 490.7 L338.5 490.3 L338.0 489.8 L337.5 489.3 L336.9 488.9 L336.4 488.4 L335.9 487.9 L335.4 487.5 L334.9 487.0 L334.4 486.5 L333.9 486.0 L333.3 485.5 L332.8 485.1 L332.3 484.6 L331.8 484.1 L331.2 483.6 L330.7 483.1 L330.2 482.6 L329.6 482.2 L329.1 481.7 L328.5 481.2 L328.0 480.7 L327.4 480.2 L326.9 479.7 L326.3 479.2 L325.8 478.7 L325.2 478.2 L324.7 477.7 L324.1 477.2 L323.6 476.7 L323.0 476.2 L322.4 475.7 L321.9 475.2 L321.3 474.7 L320.7 474.2 L320.1 473.6 L319.6 473.1 L319.0 472.6 L318.4 472.1 L317.8 471.6 L317.2 471.1 L316.6 470.5 L316.0 470.0 L315.4 469.5 L314.8 469.0 L314.2 468.4 L313.6 467.9 L313.0 467.4 L312.4 466.9 L311.8 466.3 L311.2 465.8 L310.6 465.3 L310.0 464.7 L309.3 464.2 L308.7 463.6 L308.1 463.1 L307.5 462.6 L306.8 462.0 L306.2 461.5 L305.6 460.9 L304.9 460.4 L304.3 459.8 L303.7 459.3 L303.0 458.7 L302.4 458.1 L301.7 457.6 L301.1 457.0 L300.4 456.5 L299.8 455.9 L299.1 455.3 L298.4 454.8 L297.8 454.2 L297.1 453.6 L296.4 453.1 L295.8 452.5 L295.1 451.9 L294.4 451.3 L293.7 450.7 L293.0 450.2 L292.4 449.6 L291.7 449.0 L291.0 448.4 L290.3 447.8 L289.6 447.2 L288.9 446.6 L288.2 446.0 L287.5 445.4 L286.8 444.8 L286.1 444.2 L285.4 443.6 L284.7 443.0 L284.0 442.4 L283.2 441.8 L282.5 441.2 L281.8 440.6 L281.1 440.0 L280.3 439.4 L279.6 438.7 L278.9 438.1 L278.1 437.5 L277.4 436.9 L276.7 436.2 L275.9 435.6 L275.2 435.0 L274.4 434.3 L273.7 433.7 L272.9 433.1 L272.2 432.4 L271.4 431.8 L270.7 431.1 L269.9 430.5 L269.1 429.8 L268.4 429.2 L267.6 428.5 L266.8 427.9 L266.0 427.2 L265.3 426.6 L264.5 425.9 L263.7 425.2 L262.9 424.6 L262.1 423.9 L261.3 423.2 L260.5 422.5 L259.7 421.9 L258.9 421.2 L258.1 420.5 L257.3 419.8 L256.5 419.1 L255.7 418.4 L254.9 417.7 L254.1 417.0 L253.3 416.3 L252.5 415.6 L251.6 414.9 L250.8 414.2 L250.0 413.5 L249.2 412.8 L248.3 412.1 L247.5 411.3 L246.7 410.6 L245.8 409.9 L245.0 409.2 L244.1 408.4 L243.3 407.7 L242.4 407.0 L241.6 406.2 L240.7 405.5 L239.9 404.7 L239.0 404.0 L238.2 403.2 L237.3 402.5 L236.4 401.7 L235.6 401.0 L234.7 400.2 L233.8 399.4 L232.9 398.7 L232.1 397.9 L231.2 397.1 L230.3 396.3 L229.4 395.5 L228.5 394.8 L227.6 394.0 L226.7 393.2 L225.9 392.4 L225.0 391.6 L224.1 390.8 L223.2 390.0 L222.2 389.1 L221.3 388.3 L220.4 387.5 L219.5 386.7 L218.6 385.9 L217.7 385.0 L216.8 384.2 L215.8 383.3 L214.9 382.5 L214.0 381.7 L213.1 380.8 L212.1 380.0 L211.2 379.1 L210.3 378.2 L209.3 377.4 L208.4 376.5 L207.4 375.6 L206.5 374.7 L205.5 373.9 L204.6 373.0 L203.6 372.1 L202.7 371.2 L201.7 370.3 L200.7 369.4 L199.8 368.5 L198.8 367.6 L197.8 366.6 L196.9 365.7 L195.9 364.8"/>
<path d="M400.1 503.8 L399.7 503.4 L399.4 502.9 L399.0 502.5 L398.6 502.1 L398.2 501.6 L397.8 501.2 L397.5 500.7 L397.1 500.3 L396.7 499.8 L396.3 499.4 L395.9 499.0 L395.5 498.5 L395.1 498.1 L394.7 497.6 L394.3 497.2 L393.9 496.7 L393.5 496.3 L393.1 495.8 L392.7 495.4 L392.3 494.9 L391.9 494.4 L391.5 494.0 L391.1 493.5 L390.7 493.1 L390.3 492.6 L389.8 492.1 L389.4 491.7 L389.0 491.2 L388.6 490.7 L388.1 490.3 L387.7 489.8 L387.3 489.3 L386.8 488.9 L386.4 488.4 L386.0 487.9 L385.5 487.5 L385.1 487.0 L384.6 486.5 L384.2 486.0 L383.7 485.5 L383.3 485.1 L382.8 484.6 L382.4 484.1 L381.9 483.6 L381.4 483.1 L381.0 482.6 L380.5 482.2 L380.0 481.7 L379.6 481.2 L379.1 480.7 L378.6 480.2 L378.1 479.7 L377.6 479.2 L377.2 478.7 L376.7 478.2 L376.2 477.7 L375.7 477.2 L375.2 476.7 L374.7 476.2 L374.2 475.7 L373.7 475.2 L373.2 474.7 L372.7 474.2 L372.2 473.6 L371.7 473.1 L371.1 472.6 L370.6 472.1 L370.1 471.6 L369.6 471.1 L369.1 470.5 L368.5 470.0 L368.0 469.5 L367.5 469.0 L366.9 468.4 L366.4 467.9 L365.8 467.4 L365.3 466.9 L364.7 466.3 L364.2 465.8 L363.6 465.3 L363.1 464.7 L362.5 464.2 L362.0 463.6 L361.4 463.1 L360.8 462.6 L360.3 462.0 L359.7 461.5 L359.1 460.9 L358.5 460.4 L357.9 459.8 L357.4 459.3 L356.8 458.7 L356.2 458.1 L355.6 457.6 L355.0 457.0 L354.4 456.5 L353.8 455.9 L353.2 455.3 L352.6 454.8 L352.0 454.2 L351.3 453.6 L350.7 453.1 L350.1 452.5 L349.5 451.9 L348.8 451.3 L348.2 450.7 L347.6 450.2 L346.9 449.6 L346.3 449.0 L345.7 448.4 L345.0 447.8 L344.4 447.2 L343.7 446.6 L343.0 446.0 L342.4 445.4 L341.7 444.8 L341.1 444.2 L340.4 443.6 L339.7 443.0 L339.0 442.4 L338.4 441.8 L337.7 441.2 L337.0 440.6 L336.3 440.0 L335.6 439.4 L334.9 438.7 L334.2 438.1 L333.5 437.5 L332.8 436.9 L332.1 436.2 L331.4 435.6 L330.7 435.0 L330.0 434.3 L329.2 433.7 L328.5 433.1 L327.8 432.4 L327.1 431.8 L326.3 431.1 L325.6 430.5 L324.8 429.8 L324.1 429.2 L323.3 428.5 L322.6 427.9 L321.8 427.2 L321.1 426.6 L320.3 425.9 L319.5 425.2 L318.8 424.6 L318.0 423.9 L317.2 423.2 L316.4 422.5 L315.7 421.9 L314.9 421.2 L314.1 420.5 L313.3 419.8 L312.5 419.1 L311.7 418.4 L310.9 417.7 L310.1 417.0 L309.3 416.3 L308.5 415.6 L307.6 414.9 L306.8 414.2 L306.0 413.5 L305.2 412.8 L304.3 412.1 L303.5 411.3 L302.7 410.6 L301.8 409.9 L301.0 409.2 L300.1 408.4 L299.3 407.7 L298.4 407.0 L297.6 406.2 L296.7 405.5 L295.8 404.7 L295.0 404.0 L294.1 403.2 L293.2 402.5 L292.3 401.7 L291.5 401.0 L290.6 400.2 L289.7 399.4 L288.8 398.7 L287.9 397.9 L287.0 397.1 L286.1 396.3 L285.2 395.5 L284.3 394.8 L283.4 394.0 L282.4 393.2 L281.5 392.4 L280.6 391.6 L279.7 390.8 L278.7 390.0 L277.8 389.1 L276.9 388.3 L275.9 387.5 L275.0 386.7 L274.0 385.9 L273.1 385.0 L272.1 384.2 L271.2 383.3 L270.2 382.5 L269.2 381.7 L268.3 380.8 L267.3 380.0 L266.3 379.1 L265.3 378.2 L264.4 377.4 L263.4 376.5 L262.4 375.6 L261.4 374.7 L260.4 373.9 L259.4 373.0 L258.4 372.1 L257.4 371.2 L256.4 370.3 L255.4 369.4 L254.4 368.5 L253.3 367.6 L252.3 366.6 L251.3 365.7 L250.3 364.8 L249.2 363.8 L248.2 362.9 L247.2 362.0 L246.1 361.0 L245.1 360.1 L244.0 359.1 L243.0 358.1 L241.9 357.2 L240.9 356.2 L239.8 355.2 L238.7 354.2 L237.7 353.3 L236.6 352.3 L235.5 351.3 L234.4 350.3 L233.4 349.2 L232.3 348.2 L231.2 347.2 L230.1 346.2 L229.0 345.2 L227.9 344.1 L226.8 343.1 L225.7 342.0"/>
<path d="M440.7 503.8 L440.4 503.4 L440.1 502.9 L439.8 502.5 L439.5 502.1 L439.1 501.6 L438.8 501.2 L438.5 500.7 L438.2 500.3 L437.9 499.8 L437.6 499.4 L437.3 499.0 L437.0 498.5 L436.6 498.1 L436.3 497.6 L436.0 497.2 L435.7 496.7 L435.4 496.3 L435.0 495.8 L434.7 495.4 L434.4 494.9 L434.0 494.4 L433.7 494.0 L433.4 493.5 L433.0 493.1 L432.7 492.6 L432.3 492.1 L432.0 491.7 L431.6 491.2 L431.3 490.7 L430.9 490.3 L430.6 489.8 L430.2 489.3 L429.9 488.9 L429.5 488.4 L429.2 487.9 L428.8 487.5 L428.4 487.0 L428.1 486.5 L427.7 486.0 L427.3 485.5 L427.0 485.1 L426.6 484.6 L426.2 484.1 L425.8 483.6 L425.4 483.1 L425.1 482.6 L424.7 482.2 L424.3 481.7 L423.9 481.2 L423.5 480.7 L423.1 480.2 L422.7 479.7 L422.3 479.2 L421.9 478.7 L421.5 478.2 L421.1 477.7 L420.7 477.2 L420.3 476.7 L419.8 476.2 L419.4 475.7 L419.0 475.2 L418.6 474.7 L418.2 474.2 L417.7 473.6 L417.3 473.1 L416.9 472.6 L416.4 472.1 L416.0 471.6 L415.5 471.1 L415.1 470.5 L414.7 470.0 L414.2 469.5 L413.8 469.0 L413.3 468.4 L412.8 467.9 L412.4 467.4 L411.9 466.9 L411.5 466.3 L411.0 465.8 L410.5 465.3 L410.0 464.7 L409.6 464.2 L409.1 463.6 L408.6 463.1 L408.1 462.6 L407.6 462.0 L407.1 461.5 L406.6 460.9 L406.1 460.4 L405.6 459.8 L405.1 459.3 L404.6 458.7 L404.1 458.1 L403.6 457.6 L403.1 457.0 L402.6 456.5 L402.1 455.9 L401.5 455.3 L401.0 454.8 L400.5 454.2 L399.9 453.6 L399.4 453.1 L398.9 452.5 L398.3 451.9 L397.8 451.3 L397.2 450.7 L396.7 450.2 L396.1 449.6 L395.5 449.0 L395.0 448.4 L394.4 447.8 L393.8 447.2 L393.2 446.6 L392.7 446.0 L392.1 445.4 L391.5 444.8 L390.9 444.2 L390.3 443.6 L389.7 443.0 L389.1 442.4 L388.5 441.8 L387.9 441.2 L387.3 440.6 L386.7 440.0 L386.1 439.4 L385.4 438.7 L384.8 438.1 L384.2 437.5 L383.5 436.9 L382.9 436.2 L382.3 435.6 L381.6 435.0 L381.0 434.3 L380.3 433.7 L379.6 433.1 L379.0 432.4 L378.3 431.8 L377.6 431.1 L377.0 430.5 L376.3 429.8 L375.6 429.2 L374.9 428.5 L374.2 427.9 L373.5 427.2 L372.8 426.6 L372.1 425.9 L371.4 425.2 L370.7 424.6 L370.0 423.9 L369.3 423.2 L368.6 422.5 L367.8 421.9 L367.1 421.2 L366.4 420.5 L365.6 419.8 L364.9 419.1 L364.1 418.4 L363.4 417.7 L362.6 417.0 L361.8 416.3 L361.1 415.6 L360.3 414.9 L359.5 414.2 L358.7 413.5 L358.0 412.8 L357.2 412.1 L356.4 411.3 L355.6 410.6 L354.8 409.9 L354.0 409.2 L353.2 408.4 L352.3 407.7 L351.5 407.0 L350.7 406.2 L349.9 405.5 L349.0 404.7 L348.2 404.0 L347.4 403.2 L346.5 402.5 L345.7 401.7 L344.8 401.0 L343.9 400.2 L343.1 399.4 L342.2 398.7 L341.3 397.9 L340.4 397.1 L339.6 396.3 L338.7 395.5 L337.8 394.8 L336.9 394.0 L336.0 393.2 L335.1 392.4 L334.2 391.6 L333.2 390.8 L332.3 390.0 L331.4 389.1 L330.5 388.3 L329.5 387.5 L328.6 386.7 L327.6 385.9 L326.7 385.0 L325.7 384.2 L324.8 383.3 L323.8 382.5 L322.8 381.7 L321.9 380.8 L320.9 380.0 L319.9 379.1 L318.9 378.2 L317.9 377.4 L316.9 376.5 L315.9 375.6 L314.9 374.7 L313.9 373.9 L312.9 373.0 L311.9 372.1 L310.9 371.2 L309.8 370.3 L308.8 369.4 L307.8 368.5 L306.7 367.6 L305.7 366.6 L304.6 365.7 L303.6 364.8 L302.5 363.8 L301.5 362.9 L300.4 362.0 L299.3 361.0 L298.2 360.1 L297.1 359.1 L296.1 358.1 L295.0 357.2 L293.9 356.2 L292.8 355.2 L291.7 354.2 L290.6 353.3 L289.4 352.3 L288.3 351.3 L287.2 350.3 L286.1 349.2 L284.9 348.2 L283.8 347.2 L282.7 346.2 L281.5 345.2 L280.4 344.1 L279.2 343.1 L278.1 342.0 L276.9 341.0 L275.7 339.9 L274.5 338.8 L273.4 337.7 L272.2 336.7 L271.0 335.6 L269.8 334.5 L268.6 333.4 L267.4 332.3 L266.2 331.2 L265.0 330.0 L263.8 328.9 L262.6 327.8 L261.4 326.6 L260.1 325.5 L258.9 324.3 L257.7 323.1 L256.4 322.0 L255.2 320.8 L254.0 319.6 L252.7 318.4"/>
<path d="M475.0 503.8 L474.8 503.4 L474.6 502.9 L474.3 502.5 L474.1 502.1 L473.8 501.6 L473.6 501.2 L473.4 500.7 L473.1 500.3 L472.9 499.8 L472.6 499.4 L472.4 499.0 L472.1 498.5 L471.9 498.1 L471.6 497.6 L471.4 497.2 L471.1 496.7 L470.9 496.3 L470.6 495.8 L470.3 495.4 L470.1 494.9 L469.8 494.4 L469.5 494.0 L469.3 493.5 L469.0 493.1 L468.7 492.6 L468.5 492.1 L468.2 491.7 L467.9 491.2 L467.6 490.7 L467.4 490.3 L467.1 489.8 L466.8 489.3 L466.5 488.9 L466.2 488.4 L465.9 487.9 L465.7 487.5 L465.4 487.0 L465.1 486.5 L464.8 486.0 L464.5 485.5 L464.2 485.1 L463.9 484.6 L463.6 484.1 L463.3 483.6 L463.0 483.1 L462.7 482.6 L462.4 482.2 L462.0 481.7 L461.7 481.2 L461.4 480.7 L461.1 480.2 L460.8 479.7 L460.5 479.2 L460.1 478.7 L459.8 478.2 L459.5 477.7 L459.2 477.2 L458.8 476.7 L458.5 476.2 L458.2 475.7 L457.8 475.2 L457.5 474.7 L457.1 474.2 L456.8 473.6 L456.4 473.1 L456.1 472.6 L455.7 472.1 L455.4 471.6 L455.0 471.1 L454.7 470.5 L454.3 470.0 L453.9 469.5 L453.6 469.0 L453.2 468.4 L452.8 467.9 L452.5 467.4 L452.1 466.9 L451.7 466.3 L451.3 465.8 L451.0 465.3 L450.6 464.7 L450.2 464.2 L449.8 463.6 L449.4 463.1 L449.0 462.6 L448.6 462.0 L448.2 461.5 L447.8 460.9 L447.4 460.4 L447.0 459.8 L446.6 459.3 L446.1 458.7 L445.7 458.1 L445.3 457.6 L444.9 457.0 L444.4 456.5 L444.0 455.9 L443.6 455.3 L443.1 454.8 L442.7 454.2 L442.3 453.6 L441.8 453.1 L441.4 452.5 L440.9 451.9 L440.5 451.3 L440.0 450.7 L439.5 450.2 L439.1 449.6 L438.6 449.0 L438.1 448.4 L437.7 447.8 L437.2 447.2 L436.7 446.6 L436.2 446.0 L435.7 445.4 L435.2 444.8 L434.7 444.2 L434.2 443.6 L433.7 443.0 L433.2 442.4 L432.7 441.8 L432.2 441.2 L431.7 440.6 L431.2 440.0 L430.6 439.4 L430.1 438.7 L429.6 438.1 L429.0 437.5 L428.5 436.9 L427.9 436.2 L427.4 435.6 L426.8 435.0 L426.3 434.3 L425.7 433.7 L425.2 433.1 L424.6 432.4 L424.0 431.8 L423.4 431.1 L422.9 430.5 L422.3 429.8 L421.7 429.2 L421.1 428.5 L420.5 427.9 L419.9 427.2 L419.3 426.6 L418.7 425.9 L418.1 425.2 L417.4 424.6 L416.8 423.9 L416.2 423.2 L415.5 422.5 L414.9 421.9 L414.3 421.2 L413.6 420.5 L413.0 419.8 L412.3 419.1 L411.6 418.4 L411.0 417.7 L410.3 417.0 L409.6 416.3 L408.9 415.6 L408.3 414.9 L407.6 414.2 L406.9 413.5 L406.2 412.8 L405.5 412.1 L404.7 411.3 L404.0 410.6 L403.3 409.9 L402.6 409.2 L401.8 408.4 L401.1 407.7 L400.4 407.0 L399.6 406.2 L398.9 405.5 L398.1 404.7 L397.3 404.0 L396.6 403.2 L395.8 402.5 L395.0 401.7 L394.2 401.0 L393.4 400.2 L392.6 399.4 L391.8 398.7 L391.0 397.9 L390.2 397.1 L389.4 396.3 L388.6 395.5 L387.7 394.8 L386.9 394.0 L386.1 393.2 L385.2 392.4 L384.4 391.6 L383.5 390.8 L382.6 390.0 L381.8 389.1 L380.9 388.3 L380.0 387.5 L379.1 386.7 L378.2 385.9 L377.3 385.0 L376.4 384.2 L375.5 383.3 L374.6 382.5 L373.7 381.7 L372.7 380.8 L371.8 380.0 L370.8 379.1 L369.9 378.2 L368.9 377.4 L368.0 376.5 L367.0 375.6 L366.0 374.7 L365.1 373.9 L364.1 373.0 L363.1 372.1 L362.1 371.2 L361.1 370.3 L360.1 369.4 L359.1 368.5 L358.0 367.6 L357.0 366.6 L356.0 365.7 L354.9 364.8 L353.9 363.8 L352.8 362.9 L351.8 362.0 L350.7 361.0 L349.6 360.1 L348.6 359.1 L347.5 358.1 L346.4 357.2 L345.3 356.2 L344.2 355.2 L343.1 354.2 L342.0 353.3 L340.8 352.3 L339.7 351.3 L338.6 350.3 L337.4 349.2 L336.3 348.2 L335.1 347.2 L334.0 346.2 L332.8 345.2 L331.6 344.1 L330.5 343.1 L329.3 342.0 L328.1 341.0 L326.9 339.9 L325.7 338.8 L324.5 337.7 L323.3 336.7 L322.1 335.6 L320.8 334.5 L319.6 333.4 L318.4 332.3 L317.1 331.2 L315.9 330.0 L314.6 328.9 L313.4 327.8 L312.1 326.6 L310.8 325.5 L309.5 324.3 L308.3 323.1 L307.0 322.0 L305.7 320.8 L304.4 319.6 L303.1 318.4 L301.8 317.2 L300.4 316.0 L299.1 314.8 L297.8 313.5 L296.4 312.3 L295.1 311.1 L293.8 309.8 L292.4 308.5 L291.0 307.3 L289.7 306.0 L288.3 304.7 L286.9 303.4 L285.5 302.1 L284.2 300.8 L282.8 299.5 L281.4 298.1 L280.0 296.8"/>
<path d="M504.3 503.8 L504.1 503.4 L503.9 502.9 L503.7 502.5 L503.5 502.1 L503.3 501.6 L503.2 501.2 L503.0 500.7 L502.8 500.3 L502.6 499.8 L502.4 499.4 L502.2 499.0 L502.0 498.5 L501.8 498.1 L501.6 497.6 L501.4 497.2 L501.2 496.7 L501.0 496.3 L500.8 495.8 L500.6 495.4 L500.4 494.9 L500.2 494.4 L500.0 494.0 L499.8 493.5 L499.6 493.1 L499.4 492.6 L499.2 492.1 L499.0 491.7 L498.7 491.2 L498.5 490.7 L498.3 490.3 L498.1 489.8 L497.9 489.3 L497.7 488.9 L497.4 488.4 L497.2 487.9 L497.0 487.5 L496.8 487.0 L496.5 486.5 L496.3 486.0 L496.1 485.5 L495.8 485.1 L495.6 484.6 L495.4 484.1 L495.1 483.6 L494.9 483.1 L494.6 482.6 L494.4 482.2 L494.2 481.7 L493.9 481.2 L493.7 480.7 L493.4 480.2 L493.2 479.7 L492.9 479.2 L492.7 478.7 L492.4 478.2 L492.2 477.7 L491.9 477.2 L491.6 476.7 L491.4 476.2 L491.1 475.7 L490.8 475.2 L490.6 474.7 L490.3 474.2 L490.0 473.6 L489.8 473.1 L489.5 472.6 L489.2 472.1 L488.9 471.6 L488.7 471.1 L488.4 470.5 L488.1 470.0 L487.8 469.5 L487.5 469.0 L487.2 468.4 L486.9 467.9 L486.6 467.4 L486.3 466.9 L486.0 466.3 L485.7 465.8 L485.4 465.3 L485.1 464.7 L484.8 464.2 L484.5 463.6 L484.2 463.1 L483.9 462.6 L483.6 462.0 L483.3 461.5 L482.9 460.9 L482.6 460.4 L482.3 459.8 L482.0 459.3 L481.6 458.7 L481.3 458.1 L481.0 457.6 L480.6 457.0 L480.3 456.5 L479.9 455.9 L479.6 455.3 L479.2 454.8 L478.9 454.2 L478.5 453.6 L478.2 453.1 L477.8 452.5 L477.5 451.9 L477.1 451.3 L476.7 450.7 L476.3 450.2 L476.0 449.6 L475.6 449.0 L475.2 448.4 L474.8 447.8 L474.5 447.2 L474.1 446.6 L473.7 446.0 L473.3 445.4 L472.9 444.8 L472.5 444.2 L472.1 443.6 L471.7 443.0 L471.3 442.4 L470.8 441.8 L470.4 441.2 L470.0 440.6 L469.6 440.0 L469.2 439.4 L468.7 438.7 L468.3 438.1 L467.9 437.5 L467.4 436.9 L467.0 436.2 L466.5 435.6 L466.1 435.0 L465.6 434.3 L465.2 433.7 L464.7 433.1 L464.2 432.4 L463.8 431.8 L463.3 431.1 L462.8 430.5 L462.3 429.8 L461.8 429.2 L461.3 428.5 L460.9 427.9 L460.4 427.2 L459.8 426.6 L459.3 425.9 L458.8 425.2 L458.3 424.6 L457.8 423.9 L457.3 423.2 L456.7 422.5 L456.2 421.9 L455.7 421.2 L455.1 420.5 L454.6 419.8 L454.0 419.1 L453.5 418.4 L452.9 417.7 L452.4 417.0 L451.8 416.3 L451.2 415.6 L450.6 414.9 L450.0 414.2 L449.5 413.5 L448.9 412.8 L448.3 412.1 L447.7 411.3 L447.0 410.6 L446.4 409.9 L445.8 409.2 L445.2 408.4 L444.6 407.7 L443.9 407.0 L443.3 406.2 L442.6 405.5 L442.0 404.7 L441.3 404.0 L440.7 403.2 L440.0 402.5 L439.3 401.7 L438.6 401.0 L437.9 400.2 L437.2 399.4 L436.5 398.7 L435.8 397.9 L435.1 397.1 L434.4 396.3 L433.7 395.5 L433.0 394.8 L432.2 394.0 L431.5 393.2 L430.7 392.4 L430.0 391.6 L429.2 390.8 L428.4 390.0 L427.7 389.1 L426.9 388.3 L426.1 387.5 L425.3 386.7 L424.5 385.9 L423.7 385.0 L422.9 384.2 L422.1 383.3 L421.2 382.5 L420.4 381.7 L419.6 380.8 L418.7 380.0 L417.8 379.1 L417.0 378.2 L416.1 377.4 L415.2 376.5 L414.3 375.6 L413.5 374.7 L412.6 373.9 L411.6 373.0 L410.7 372.1 L409.8 371.2 L408.9 370.3 L407.9 369.4 L407.0 368.5 L406.0 367.6 L405.1 366.6 L404.1 365.7 L403.1 364.8 L402.2 363.8 L401.2 362.9 L400.2 362.0 L399.2 361.0 L398.2 360.1 L397.1 359.1 L396.1 358.1 L395.1 357.2 L394.0 356.2 L393.0 355.2 L391.9 354.2 L390.8 353.3 L389.8 352.3 L388.7 351.3 L387.6 350.3 L386.5 349.2 L385.4 348.2 L384.2 347.2 L383.1 346.2 L382.0 345.2 L380.8 344.1 L379.7 343.1 L378.5 342.0 L377.4 341.0 L376.2 339.9 L375.0 338.8 L373.8 337.7 L372.6 336.7 L371.4 335.6 L370.2 334.5 L369.0 333.4 L367.7 332.3 L366.5 331.2 L365.2 330.0 L364.0 328.9 L362.7 327.8 L361.5 326.6 L360.2 325.5 L358.9 324.3 L357.6 323.1 L356.3 322.0 L355.0 320.8 L353.7 319.6 L352.3 318.4 L351.0 317.2 L349.6 316.0 L348.3 314.8 L346.9 313.5 L345.6 312.3 L344.2 311.1 L342.8 309.8 L341.4 308.5 L340.0 307.3 L338.6 306.0 L337.2 304.7 L335.8 303.4 L334.3 302.1 L332.9 300.8 L331.4 299.5 L330.0 298.1 L328.5 296.8 L327.1 295.4 L325.6 294.1 L324.1 292.7 L322.6 291.3 L321.1 289.9 L319.6 288.5 L318.1 287.1 L316.6 285.6 L315.0 284.2 L313.5 282.7 L311.9 281.3 L310.4 279.8 L308.8 278.3 L307.3 276.8 L305.7 275.3"/>
<path d="M529.3 503.8 L529.2 503.4 L529.1 502.9 L528.9 502.5 L528.8 502.1 L528.6 501.6 L528.5 501.2 L528.3 500.7 L528.2 500.3 L528.1 499.8 L527.9 499.4 L527.8 499.0 L527.6 498.5 L527.5 498.1 L527.3 497.6 L527.2 497.2 L527.0 496.7 L526.9 496.3 L526.7 495.8 L526.5 495.4 L526.4 494.9 L526.2 494.4 L526.1 494.0 L525.9 493.5 L525.8 493.1 L525.6 492.6 L525.4 492.1 L525.3 491.7 L525.1 491.2 L524.9 490.7 L524.8 490.3 L524.6 489.8 L524.4 489.3 L524.3 488.9 L524.1 488.4 L523.9 487.9 L523.8 487.5 L523.6 487.0 L523.4 486.5 L523.2 486.0 L523.0 485.5 L522.9 485.1 L522.7 484.6 L522.5 484.1 L522.3 483.6 L522.1 483.1 L522.0 482.6 L521.8 482.2 L521.6 481.7 L521.4 481.2 L521.2 480.7 L521.0 480.2 L520.8 479.7 L520.6 479.2 L520.4 478.7 L520.2 478.2 L520.0 477.7 L519.8 477.2 L519.6 476.7 L519.4 476.2 L519.2 475.7 L519.0 475.2 L518.8 474.7 L518.6 474.2 L518.4 473.6 L518.2 473.1 L518.0 472.6 L517.8 472.1 L517.6 471.6 L517.3 471.1 L517.1 470.5 L516.9 470.0 L516.7 469.5 L516.5 469.0 L516.2 468.4 L516.0 467.9 L515.8 467.4 L515.6 466.9 L515.3 466.3 L515.1 465.8 L514.9 465.3 L514.6 464.7 L514.4 464.2 L514.1 463.6 L513.9 463.1 L513.7 462.6 L513.4 462.0 L513.2 461.5 L512.9 460.9 L512.7 460.4 L512.4 459.8 L512.1 459.3 L511.9 458.7 L511.6 458.1 L511.4 457.6 L511.1 457.0 L510.8 456.5 L510.6 455.9 L510.3 455.3 L510.0 454.8 L509.8 454.2 L509.5 453.6 L509.2 453.1 L508.9 452.5 L508.6 451.9 L508.4 451.3 L508.1 450.7 L507.8 450.2 L507.5 449.6 L507.2 449.0 L506.9 448.4 L506.6 447.8 L506.3 447.2 L506.0 446.6 L505.7 446.0 L505.4 445.4 L505.1 444.8 L504.7 444.2 L504.4 443.6 L504.1 443.0 L503.8 442.4 L503.5 441.8 L503.1 441.2 L502.8 440.6 L502.5 440.0 L502.1 439.4 L501.8 438.7 L501.4 438.1 L501.1 437.5 L500.8 436.9 L500.4 436.2 L500.0 435.6 L499.7 435.0 L499.3 434.3 L499.0 433.7 L498.6 433.1 L498.2 432.4 L497.9 431.8 L497.5 431.1 L497.1 430.5 L496.7 429.8 L496.3 429.2 L495.9 428.5 L495.5 427.9 L495.1 427.2 L494.7 426.6 L494.3 425.9 L493.9 425.2 L493.5 424.6 L493.1 423.9 L492.7 423.2 L492.3 422.5 L491.8 421.9 L491.4 421.2 L491.0 420.5 L490.5 419.8 L490.1 419.1 L489.6 418.4 L489.2 417.7 L488.7 417.0 L488.3 416.3 L487.8 415.6 L487.3 414.9 L486.8 414.2 L486.4 413.5 L485.9 412.8 L485.4 412.1 L484.9 411.3 L484.4 410.6 L483.9 409.9 L483.4 409.2 L482.9 408.4 L482.4 407.7 L481.8 407.0 L481.3 406.2 L480.8 405.5 L480.3 404.7 L479.7 404.0 L479.2 403.2 L478.6 402.5 L478.0 401.7 L477.5 401.0 L476.9 400.2 L476.3 399.4 L475.8 398.7 L475.2 397.9 L474.6 397.1 L474.0 396.3 L473.4 395.5 L472.8 394.8 L472.2 394.0 L471.5 393.2 L470.9 392.4 L470.3 391.6 L469.6 390.8 L469.0 390.0 L468.3 389.1 L467.7 388.3 L467.0 387.5 L466.3 386.7 L465.6 385.9 L465.0 385.0 L464.3 384.2 L463.6 383.3 L462.9 382.5 L462.1 381.7 L461.4 380.8 L460.7 380.0 L460.0 379.1 L459.2 378.2 L458.5 377.4 L457.7 376.5 L456.9 375.6 L456.2 374.7 L455.4 373.9 L454.6 373.0 L453.8 372.1 L453.0 371.2 L452.2 370.3 L451.3 369.4 L450.5 368.5 L449.7 367.6 L448.8 366.6 L448.0 365.7 L447.1 364.8 L446.2 363.8 L445.3 362.9 L444.5 362.0 L443.6 361.0 L442.6 360.1 L441.7 359.1 L440.8 358.1 L439.9 357.2 L438.9 356.2 L438.0 355.2 L437.0 354.2 L436.0 353.3 L435.0 352.3 L434.1 351.3 L433.1 350.3 L432.0 349.2 L431.0 348.2 L430.0 347.2 L429.0 346.2 L427.9 345.2 L426.8 344.1 L425.8 343.1 L424.7 342.0 L423.6 341.0 L422.5 339.9 L421.4 338.8 L420.3 337.7 L419.1 336.7 L418.0 335.6 L416.9 334.5 L415.7 333.4 L414.5 332.3 L413.3 331.2 L412.1 330.0 L410.9 328.9 L409.7 327.8 L408.5 326.6 L407.3 325.5 L406.0 324.3 L404.8 323.1 L403.5 322.0 L402.2 320.8 L400.9 319.6 L399.6 318.4 L398.3 317.2 L397.0 316.0 L395.7 314.8 L394.3 313.5 L393.0 312.3 L391.6 311.1 L390.3 309.8 L388.9 308.5 L387.5 307.3 L386.1 306.0 L384.7 304.7 L383.2 303.4 L381.8 302.1 L380.4 300.8 L378.9 299.5 L377.4 298.1 L375.9 296.8 L374.5 295.4 L373.0 294.1 L371.4 292.7 L369.9 291.3 L368.4 289.9 L366.9 288.5 L365.3 287.1 L363.7 285.6 L362.2 284.2 L360.6 282.7 L359.0 281.3 L357.4 279.8 L355.8 278.3 L354.2 276.8 L352.5 275.3 L350.9 273.8 L349.2 272.2 L347.6 270.7 L345.9 269.1 L344.2 267.5 L342.5 265.9 L340.8 264.3 L339.1 262.7 L337.4 261.1 L335.7 259.4 L333.9 257.8 L332.2 256.1 L330.4 254.4 L328.7 252.7"/>
<path d="M551.0 503.8 L550.9 503.4 L550.8 502.9 L550.7 502.5 L550.6 502.1 L550.5 501.6 L550.4 501.2 L550.3 500.7 L550.2 500.3 L550.1 499.8 L550.0 499.4 L549.9 499.0 L549.7 498.5 L549.6 498.1 L549.5 497.6 L549.4 497.2 L549.3 496.7 L549.2 496.3 L549.1 495.8 L548.9 495.4 L548.8 494.9 L548.7 494.4 L548.6 494.0 L548.5 493.5 L548.4 493.1 L548.2 492.6 L548.1 492.1 L548.0 491.7 L547.9 491.2 L547.7 490.7 L547.6 490.3 L547.5 489.8 L547.4 489.3 L547.2 488.9 L547.1 488.4 L547.0 487.9 L546.8 487.5 L546.7 487.0 L546.6 486.5 L546.4 486.0 L546.3 485.5 L546.2 485.1 L546.0 484.6 L545.9 484.1 L545.8 483.6 L545.6 483.1 L545.5 482.6 L545.3 482.2 L545.2 481.7 L545.1 481.2 L544.9 480.7 L544.8 480.2 L544.6 479.7 L544.5 479.2 L544.3 478.7 L544.2 478.2 L544.0 477.7 L543.9 477.2 L543.7 476.7 L543.6 476.2 L543.4 475.7 L543.3 475.2 L543.1 474.7 L543.0 474.2 L542.8 473.6 L542.6 473.1 L542.5 472.6 L542.3 472.1 L542.2 471.6 L542.0 471.1 L541.8 470.5 L541.7 470.0 L541.5 469.5 L541.3 469.0 L541.1 468.4 L541.0 467.9 L540.8 467.4 L540.6 466.9 L540.4 466.3 L540.3 465.8 L540.1 465.3 L539.9 464.7 L539.7 464.2 L539.5 463.6 L539.4 463.1 L539.2 462.6 L539.0 462.0 L538.8 461.5 L538.6 460.9 L538.4 460.4 L538.2 459.8 L538.0 459.3 L537.8 458.7 L537.6 458.1 L537.4 457.6 L537.2 457.0 L537.0 456.5 L536.8 455.9 L536.6 455.3 L536.4 454.8 L536.2 454.2 L536.0 453.6 L535.8 453.1 L535.6 452.5 L535.3 451.9 L535.1 451.3 L534.9 450.7 L534.7 450.2 L534.5 449.6 L534.2 449.0 L534.0 448.4 L533.8 447.8 L533.5 447.2 L533.3 446.6 L533.1 446.0 L532.8 445.4 L532.6 444.8 L532.4 444.2 L532.1 443.6 L531.9 443.0 L531.6 442.4 L531.4 441.8 L531.1 441.2 L530.9 440.6 L530.6 440.0 L530.3 439.4 L530.1 438.7 L529.8 438.1 L529.5 437.5 L529.3 436.9 L529.0 436.2 L528.7 435.6 L528.5 435.0 L528.2 434.3 L527.9 433.7 L527.6 433.1 L527.3 432.4 L527.0 431.8 L526.7 431.1 L526.4 430.5 L526.1 429.8 L525.8 429.2 L525.5 428.5 L525.2 427.9 L524.9 427.2 L524.6 426.6 L524.3 425.9 L524.0 425.2 L523.7 424.6 L523.3 423.9 L523.0 423.2 L522.7 422.5 L522.3 421.9 L522.0 421.2 L521.7 420.5 L521.3 419.8 L521.0 419.1 L520.6 418.4 L520.3 417.7 L519.9 417.0 L519.5 416.3 L519.2 415.6 L518.8 414.9 L518.4 414.2 L518.1 413.5 L517.7 412.8 L517.3 412.1 L516.9 411.3 L516.5 410.6 L516.1 409.9 L515.7 409.2 L515.3 408.4 L514.9 407.7 L514.5 407.0 L514.1 406.2 L513.6 405.5 L513.2 404.7 L512.8 404.0 L512.3 403.2 L511.9 402.5 L511.5 401.7 L511.0 401.0 L510.6 400.2 L510.1 399.4 L509.6 398.7 L509.2 397.9 L508.7 397.1 L508.2 396.3 L507.7 395.5 L507.2 394.8 L506.7 394.0 L506.2 393.2 L505.7 392.4 L505.2 391.6 L504.7 390.8 L504.2 390.0 L503.6 389.1 L503.1 388.3 L502.6 387.5 L502.0 386.7 L501.5 385.9 L500.9 385.0 L500.3 384.2 L499.8 383.3 L499.2 382.5 L498.6 381.7 L498.0 380.8 L497.4 380.0 L496.8 379.1 L496.2 378.2 L495.6 377.4 L494.9 376.5 L494.3 375.6 L493.7 374.7 L493.0 373.9 L492.4 373.0 L491.7 372.1 L491.0 371.2 L490.3 370.3 L489.7 369.4 L489.0 368.5 L488.3 367.6 L487.5 366.6 L486.8 365.7 L486.1 364.8 L485.4 363.8 L484.6 362.9 L483.8 362.0 L483.1 361.0 L482.3 360.1 L481.5 359.1 L480.7 358.1 L479.9 357.2 L479.1 356.2 L478.3 355.2 L477.5 354.2 L476.6 353.3 L475.8 352.3 L474.9 351.3 L474.1 350.3 L473.2 349.2 L472.3 348.2 L471.4 347.2 L470.5 346.2 L469.6 345.2 L468.6 344.1 L467.7 343.1 L466.7 342.0 L465.8 341.0 L464.8 339.9 L463.8 338.8 L462.8 337.7 L461.8 336.7 L460.8 335.6 L459.7 334.5 L458.7 333.4 L457.6 332.3 L456.6 331.2 L455.5 330.0 L454.4 328.9 L453.3 327.8 L452.2 326.6 L451.0 325.5 L449.9 324.3 L448.7 323.1 L447.6 322.0 L446.4 320.8 L445.2 319.6 L444.0 318.4 L442.8 317.2 L441.5 316.0 L440.3 314.8 L439.0 313.5 L437.8 312.3 L436.5 311.1 L435.2 309.8 L433.9 308.5 L432.5 307.3 L431.2 306.0 L429.8 304.7 L428.5 303.4 L427.1 302.1 L425.7 300.8 L424.3 299.5 L422.9 298.1 L421.4 296.8 L420.0 295.4 L418.5 294.1 L417.0 292.7 L415.5 291.3 L414.0 289.9 L412.5 288.5 L411.0 287.1 L409.4 285.6 L407.9 284.2 L406.3 282.7 L404.7 281.3 L403.1 279.8 L401.5 278.3 L399.9 276.8 L398.2 275.3 L396.6 273.8 L394.9 272.2 L393.2 270.7 L391.5 269.1 L389.8 267.5 L388.1 265.9 L386.4 264.3 L384.6 262.7 L382.9 261.1 L381.1 259.4 L379.3 257.8 L377.5 256.1 L375.7 254.4 L373.8 252.7 L372.0 250.9 L370.2 249.2 L368.3 247.4 L366.4 245.6 L364.5 243.8 L362.6 242.0 L360.7 240.2 L358.8 238.3 L356.8 236.5 L354.9 234.6 L352.9 232.7"/>
<path d="M570.1 503.8 L570.0 503.4 L569.9 502.9 L569.8 502.5 L569.7 502.1 L569.7 501.6 L569.6 501.2 L569.5 500.7 L569.4 500.3 L569.4 499.8 L569.3 499.4 L569.2 499.0 L569.1 498.5 L569.0 498.1 L568.9 497.6 L568.9 497.2 L568.8 496.7 L568.7 496.3 L568.6 495.8 L568.5 495.4 L568.4 494.9 L568.3 494.4 L568.3 494.0 L568.2 493.5 L568.1 493.1 L568.0 492.6 L567.9 492.1 L567.8 491.7 L567.7 491.2 L567.6 490.7 L567.5 490.3 L567.4 489.8 L567.3 489.3 L567.2 488.9 L567.2 488.4 L567.1 487.9 L567.0 487.5 L566.9 487.0 L566.8 486.5 L566.7 486.0 L566.6 485.5 L566.5 485.1 L566.4 484.6 L566.3 484.1 L566.2 483.6 L566.1 483.1 L566.0 482.6 L565.9 482.2 L565.8 481.7 L565.6 481.2 L565.5 480.7 L565.4 480.2 L565.3 479.7 L565.2 479.2 L565.1 478.7 L565.0 478.2 L564.9 477.7 L564.8 477.2 L564.7 476.7 L564.5 476.2 L564.4 475.7 L564.3 475.2 L564.2 474.7 L564.1 474.2 L564.0 473.6 L563.8 473.1 L563.7 472.6 L563.6 472.1 L563.5 471.6 L563.4 471.1 L563.2 470.5 L563.1 470.0 L563.0 469.5 L562.9 469.0 L562.7 468.4 L562.6 467.9 L562.5 467.4 L562.4 466.9 L562.2 466.3 L562.1 465.8 L562.0 465.3 L561.8 464.7 L561.7 464.2 L561.5 463.6 L561.4 463.1 L561.3 462.6 L561.1 462.0 L561.0 461.5 L560.8 460.9 L560.7 460.4 L560.6 459.8 L560.4 459.3 L560.3 458.7 L560.1 458.1 L560.0 457.6 L559.8 457.0 L559.7 456.5 L559.5 455.9 L559.4 455.3 L559.2 454.8 L559.0 454.2 L558.9 453.6 L558.7 453.1 L558.6 452.5 L558.4 451.9 L558.2 451.3 L558.1 450.7 L557.9 450.2 L557.7 449.6 L557.6 449.0 L557.4 448.4 L557.2 447.8 L557.0 447.2 L556.9 446.6 L556.7 446.0 L556.5 445.4 L556.3 444.8 L556.2 444.2 L556.0 443.6 L555.8 443.0 L555.6 442.4 L555.4 441.8 L555.2 441.2 L555.0 440.6 L554.8 440.0 L554.6 439.4 L554.4 438.7 L554.2 438.1 L554.0 437.5 L553.8 436.9 L553.6 436.2 L553.4 435.6 L553.2 435.0 L553.0 434.3 L552.8 433.7 L552.6 433.1 L552.3 432.4 L552.1 431.8 L551.9 431.1 L551.7 430.5 L551.5 429.8 L551.2 429.2 L551.0 428.5 L550.8 427.9 L550.5 427.2 L550.3 426.6 L550.0 425.9 L549.8 425.2 L549.6 424.6 L549.3 423.9 L549.1 423.2 L548.8 422.5 L548.5 421.9 L548.3 421.2 L548.0 420.5 L547.8 419.8 L547.5 419.1 L547.2 418.4 L547.0 417.7 L546.7 417.0 L546.4 416.3 L546.1 415.6 L545.8 414.9 L545.6 414.2 L545.3 413.5 L545.0 412.8 L544.7 412.1 L544.4 411.3 L544.1 410.6 L543.8 409.9 L543.5 409.2 L543.1 408.4 L542.8 407.7 L542.5 407.0 L542.2 406.2 L541.9 405.5 L541.5 404.7 L541.2 404.0 L540.9 403.2 L540.5 402.5 L540.2 401.7 L539.8 401.0 L539.5 400.2 L539.1 399.4 L538.7 398.7 L538.4 397.9 L538.0 397.1 L537.6 396.3 L537.3 395.5 L536.9 394.8 L536.5 394.0 L536.1 393.2 L535.7 392.4 L535.3 391.6 L534.9 390.8 L534.5 390.0 L534.1 389.1 L533.6 388.3 L533.2 387.5 L532.8 386.7 L532.3 385.9 L531.9 385.0 L531.5 384.2 L531.0 383.3 L530.5 382.5 L530.1 381.7 L529.6 380.8 L529.1 380.0 L528.6 379.1 L528.2 378.2 L527.7 377.4 L527.2 376.5 L526.7 375.6 L526.1 374.7 L525.6 373.9 L525.1 373.0 L524.6 372.1 L524.0 371.2 L523.5 370.3 L522.9 369.4 L522.4 368.5 L521.8 367.6 L521.2 366.6 L520.6 365.7 L520.0 364.8 L519.4 363.8 L518.8 362.9 L518.2 362.0 L517.6 361.0 L517.0 360.1 L516.3 359.1 L515.7 358.1 L515.0 357.2 L514.4 356.2 L513.7 355.2 L513.0 354.2 L512.3 353.3 L511.6 352.3 L510.9 351.3 L510.2 350.3 L509.5 349.2 L508.7 348.2 L508.0 347.2 L507.2 346.2 L506.4 345.2 L505.7 344.1 L504.9 343.1 L504.1 342.0 L503.3 341.0 L502.4 339.9 L501.6 338.8 L500.7 337.7 L499.9 336.7 L499.0 335.6 L498.1 334.5 L497.2 333.4 L496.3 332.3 L495.4 331.2 L494.5 330.0 L493.5 328.9 L492.6 327.8 L491.6 326.6 L490.6 325.5 L489.6 324.3 L488.6 323.1 L487.6 322.0 L486.6 320.8 L485.5 319.6 L484.4 318.4 L483.4 317.2 L482.3 316.0 L481.2 314.8 L480.0 313.5 L478.9 312.3 L477.7 311.1 L476.6 309.8 L475.4 308.5 L474.2 307.3 L473.0 306.0 L471.7 304.7 L470.5 303.4 L469.2 302.1 L468.0 300.8 L466.7 299.5 L465.3 298.1 L464.0 296.8 L462.7 295.4 L461.3 294.1 L459.9 292.7 L458.5 291.3 L457.1 289.9 L455.7 288.5 L454.2 287.1 L452.8 285.6 L451.3 284.2 L449.8 282.7 L448.3 281.3 L446.7 279.8 L445.2 278.3 L443.6 276.8 L442.0 275.3 L440.4 273.8 L438.8 272.2 L437.1 270.7 L435.5 269.1 L433.8 267.5 L432.1 265.9 L430.4 264.3 L428.7 262.7 L426.9 261.1 L425.2 259.4 L423.4 257.8 L421.6 256.1 L419.8 254.4 L417.9 252.7 L416.1 250.9 L414.2 249.2 L412.3 247.4 L410.4 245.6 L408.5 243.8 L406.5 242.0 L404.6 240.2 L402.6 238.3 L400.6 236.5 L398.6 234.6 L396.6 232.7 L394.6 230.7 L392.5 228.8 L390.4 226.8 L388.3 224.8 L386.2 222.8 L384.1 220.8 L382.0 218.7 L379.8 216.6 L377.7 214.5 L375.5 212.4"/>
<path d="M586.9 503.8 L586.8 503.4 L586.8 502.9 L586.7 502.5 L586.7 502.1 L586.6 501.6 L586.5 501.2 L586.5 500.7 L586.4 500.3 L586.4 499.8 L586.3 499.4 L586.3 499.0 L586.2 498.5 L586.1 498.1 L586.1 497.6 L586.0 497.2 L586.0 496.7 L585.9 496.3 L585.8 495.8 L585.8 495.4 L585.7 494.9 L585.7 494.4 L585.6 494.0 L585.5 493.5 L585.5 493.1 L585.4 492.6 L585.3 492.1 L585.3 491.7 L585.2 491.2 L585.1 490.7 L585.1 490.3 L585.0 489.8 L584.9 489.3 L584.9 488.9 L584.8 488.4 L584.7 487.9 L584.7 487.5 L584.6 487.0 L584.5 486.5 L584.5 486.0 L584.4 485.5 L584.3 485.1 L584.3 484.6 L584.2 484.1 L584.1 483.6 L584.0 483.1 L584.0 482.6 L583.9 482.2 L583.8 481.7 L583.7 481.2 L583.7 480.7 L583.6 480.2 L583.5 479.7 L583.4 479.2 L583.3 478.7 L583.3 478.2 L583.2 477.7 L583.1 477.2 L583.0 476.7 L582.9 476.2 L582.9 475.7 L582.8 475.2 L582.7 474.7 L582.6 474.2 L582.5 473.6 L582.4 473.1 L582.4 472.6 L582.3 472.1 L582.2 471.6 L582.1 471.1 L582.0 470.5 L581.9 470.0 L581.8 469.5 L581.7 469.0 L581.6 468.4 L581.5 467.9 L581.5 467.4 L581.4 466.9 L581.3 466.3 L581.2 465.8 L581.1 465.3 L581.0 464.7 L580.9 464.2 L580.8 463.6 L580.7 463.1 L580.6 462.6 L580.5 462.0 L580.4 461.5 L580.3 460.9 L580.2 460.4 L580.1 459.8 L580.0 459.3 L579.9 458.7 L579.7 458.1 L579.6 457.6 L579.5 457.0 L579.4 456.5 L579.3 455.9 L579.2 455.3 L579.1 454.8 L579.0 454.2 L578.8 453.6 L578.7 453.1 L578.6 452.5 L578.5 451.9 L578.4 451.3 L578.3 450.7 L578.1 450.2 L578.0 449.6 L577.9 449.0 L577.8 448.4 L577.6 447.8 L577.5 447.2 L577.4 446.6 L577.2 446.0 L577.1 445.4 L577.0 444.8 L576.8 444.2 L576.7 443.6 L576.6 443.0 L576.4 442.4 L576.3 441.8 L576.2 441.2 L576.0 440.6 L575.9 440.0 L575.7 439.4 L575.6 438.7 L575.4 438.1 L575.3 437.5 L575.1 436.9 L575.0 436.2 L574.8 435.6 L574.7 435.0 L574.5 434.3 L574.4 433.7 L574.2 433.1 L574.0 432.4 L573.9 431.8 L573.7 431.1 L573.5 430.5 L573.4 429.8 L573.2 429.2 L573.0 428.5 L572.9 427.9 L572.7 427.2 L572.5 426.6 L572.3 425.9 L572.1 425.2 L572.0 424.6 L571.8 423.9 L571.6 423.2 L571.4 422.5 L571.2 421.9 L571.0 421.2 L570.8 420.5 L570.6 419.8 L570.4 419.1 L570.2 418.4 L570.0 417.7 L569.8 417.0 L569.6 416.3 L569.4 415.6 L569.2 414.9 L569.0 414.2 L568.8 413.5 L568.5 412.8 L568.3 412.1 L568.1 411.3 L567.9 410.6 L567.6 409.9 L567.4 409.2 L567.2 408.4 L566.9 407.7 L566.7 407.0 L566.4 406.2 L566.2 405.5 L565.9 404.7 L565.7 404.0 L565.4 403.2 L565.2 402.5 L564.9 401.7 L564.6 401.0 L564.4 400.2 L564.1 399.4 L563.8 398.7 L563.6 397.9 L563.3 397.1 L563.0 396.3 L562.7 395.5 L562.4 394.8 L562.1 394.0 L561.8 393.2 L561.5 392.4 L561.2 391.6 L560.9 390.8 L560.6 390.0 L560.3 389.1 L559.9 388.3 L559.6 387.5 L559.3 386.7 L558.9 385.9 L558.6 385.0 L558.2 384.2 L557.9 383.3 L557.5 382.5 L557.2 381.7 L556.8 380.8 L556.5 380.0 L556.1 379.1 L555.7 378.2 L555.3 377.4 L554.9 376.5 L554.5 375.6 L554.1 374.7 L553.7 373.9 L553.3 373.0 L552.9 372.1 L552.5 371.2 L552.1 370.3 L551.6 369.4 L551.2 368.5 L550.8 367.6 L550.3 366.6 L549.8 365.7 L549.4 364.8 L548.9 363.8 L548.4 362.9 L548.0 362.0 L547.5 361.0 L547.0 360.1 L546.5 359.1 L545.9 358.1 L545.4 357.2 L544.9 356.2 L544.4 355.2 L543.8 354.2 L543.3 353.3 L542.7 352.3 L542.1 351.3 L541.6 350.3 L541.0 349.2 L540.4 348.2 L539.8 347.2 L539.2 346.2 L538.6 345.2 L537.9 344.1 L537.3 343.1 L536.6 342.0 L536.0 341.0 L535.3 339.9 L534.6 338.8 L533.9 337.7 L533.2 336.7 L532.5 335.6 L531.8 334.5 L531.1 333.4 L530.3 332.3 L529.6 331.2 L528.8 330.0 L528.0 328.9 L527.2 327.8 L526.4 326.6 L525.6 325.5 L524.8 324.3 L524.0 323.1 L523.1 322.0 L522.2 320.8 L521.3 319.6 L520.4 318.4 L519.5 317.2 L518.6 316.0 L517.7 314.8 L516.7 313.5 L515.7 312.3 L514.8 311.1 L513.8 309.8 L512.7 308.5 L511.7 307.3 L510.7 306.0 L509.6 304.7 L508.5 303.4 L507.4 302.1 L506.3 300.8 L505.2 299.5 L504.0 298.1 L502.8 296.8 L501.7 295.4 L500.4 294.1 L499.2 292.7 L498.0 291.3 L496.7 289.9 L495.4 288.5 L494.1 287.1 L492.8 285.6 L491.5 284.2 L490.1 282.7 L488.7 281.3 L487.3 279.8 L485.9 278.3 L484.4 276.8 L483.0 275.3 L481.5 273.8 L480.0 272.2 L478.5 270.7 L476.9 269.1 L475.3 267.5 L473.7 265.9 L472.1 264.3 L470.5 262.7 L468.8 261.1 L467.1 259.4 L465.4 257.8 L463.7 256.1 L461.9 254.4 L460.2 252.7 L458.4 250.9 L456.5 249.2 L454.7 247.4 L452.8 245.6 L450.9 243.8 L449.0 242.0 L447.1 240.2 L445.1 238.3 L443.2 236.5 L441.2 234.6 L439.1 232.7 L437.1 230.7 L435.0 228.8 L432.9 226.8 L430.8 224.8 L428.7 222.8 L426.5 220.8 L424.4 218.7 L422.2 216.6 L420.0 214.5 L417.7 212.4 L415.5 210.2 L413.2 208.0 L410.9 205.8 L408.6 203.6 L406.2 201.3 L403.8 199.0 L401.5 196.7 L399.1 194.4 L396.6 192.0"/>
<path d="M601.9 503.8 L601.8 503.4 L601.8 502.9 L601.8 502.5 L601.7 502.1 L601.7 501.6 L601.7 501.2 L601.6 500.7 L601.6 500.3 L601.5 499.8 L601.5 499.4 L601.5 499.0 L601.4 498.5 L601.4 498.1 L601.4 497.6 L601.3 497.2 L601.3 496.7 L601.2 496.3 L601.2 495.8 L601.2 495.4 L601.1 494.9 L601.1 494.4 L601.0 494.0 L601.0 493.5 L600.9 493.1 L600.9 492.6 L600.9 492.1 L600.8 491.7 L600.8 491.2 L600.7 490.7 L600.7 490.3 L600.6 489.8 L600.6 489.3 L600.6 488.9 L600.5 488.4 L600.5 487.9 L600.4 487.5 L600.4 487.0 L600.3 486.5 L600.3 486.0 L600.2 485.5 L600.2 485.1 L600.1 484.6 L600.1 484.1 L600.0 483.6 L600.0 483.1 L599.9 482.6 L599.9 482.2 L599.8 481.7 L599.8 481.2 L599.7 480.7 L599.7 480.2 L599.6 479.7 L599.6 479.2 L599.5 478.7 L599.5 478.2 L599.4 477.7 L599.4 477.2 L599.3 476.7 L599.2 476.2 L599.2 475.7 L599.1 475.2 L599.1 474.7 L599.0 474.2 L599.0 473.6 L598.9 473.1 L598.8 472.6 L598.8 472.1 L598.7 471.6 L598.7 471.1 L598.6 470.5 L598.5 470.0 L598.5 469.5 L598.4 469.0 L598.4 468.4 L598.3 467.9 L598.2 467.4 L598.2 466.9 L598.1 466.3 L598.0 465.8 L598.0 465.3 L597.9 464.7 L597.8 464.2 L597.8 463.6 L597.7 463.1 L597.6 462.6 L597.6 462.0 L597.5 461.5 L597.4 460.9 L597.3 460.4 L597.3 459.8 L597.2 459.3 L597.1 458.7 L597.0 458.1 L597.0 457.6 L596.9 457.0 L596.8 456.5 L596.7 455.9 L596.7 455.3 L596.6 454.8 L596.5 454.2 L596.4 453.6 L596.3 453.1 L596.3 452.5 L596.2 451.9 L596.1 451.3 L596.0 450.7 L595.9 450.2 L595.8 449.6 L595.7 449.0 L595.7 448.4 L595.6 447.8 L595.5 447.2 L595.4 446.6 L595.3 446.0 L595.2 445.4 L595.1 444.8 L595.0 444.2 L594.9 443.6 L594.8 443.0 L594.7 442.4 L594.6 441.8 L594.5 441.2 L594.4 440.6 L594.3 440.0 L594.2 439.4 L594.1 438.7 L594.0 438.1 L593.9 437.5 L593.8 436.9 L593.7 436.2 L593.6 435.6 L593.5 435.0 L593.4 434.3 L593.3 433.7 L593.1 433.1 L593.0 432.4 L592.9 431.8 L592.8 431.1 L592.7 430.5 L592.5 429.8 L592.4 429.2 L592.3 428.5 L592.2 427.9 L592.1 427.2 L591.9 426.6 L591.8 425.9 L591.7 425.2 L591.5 424.6 L591.4 423.9 L591.3 423.2 L591.1 422.5 L591.0 421.9 L590.9 421.2 L590.7 420.5 L590.6 419.8 L590.4 419.1 L590.3 418.4 L590.1 417.7 L590.0 417.0 L589.8 416.3 L589.7 415.6 L589.5 414.9 L589.4 414.2 L589.2 413.5 L589.0 412.8 L588.9 412.1 L588.7 411.3 L588.6 410.6 L588.4 409.9 L588.2 409.2 L588.0 408.4 L587.9 407.7 L587.7 407.0 L587.5 406.2 L587.3 405.5 L587.1 404.7 L587.0 404.0 L586.8 403.2 L586.6 402.5 L586.4 401.7 L586.2 401.0 L586.0 400.2 L585.8 399.4 L585.6 398.7 L585.4 397.9 L585.2 397.1 L585.0 396.3 L584.8 395.5 L584.5 394.8 L584.3 394.0 L584.1 393.2 L583.9 392.4 L583.6 391.6 L583.4 390.8 L583.2 390.0 L582.9 389.1 L582.7 388.3 L582.5 387.5 L582.2 386.7 L582.0 385.9 L581.7 385.0 L581.4 384.2 L581.2 383.3 L580.9 382.5 L580.6 381.7 L580.4 380.8 L580.1 380.0 L579.8 379.1 L579.5 378.2 L579.2 377.4 L578.9 376.5 L578.6 375.6 L578.3 374.7 L578.0 373.9 L577.7 373.0 L577.4 372.1 L577.1 371.2 L576.8 370.3 L576.4 369.4 L576.1 368.5 L575.8 367.6 L575.4 366.6 L575.1 365.7 L574.7 364.8 L574.4 363.8 L574.0 362.9 L573.6 362.0 L573.3 361.0 L572.9 360.1 L572.5 359.1 L572.1 358.1 L571.7 357.2 L571.3 356.2 L570.9 355.2 L570.5 354.2 L570.0 353.3 L569.6 352.3 L569.2 351.3 L568.7 350.3 L568.3 349.2 L567.8 348.2 L567.3 347.2 L566.9 346.2 L566.4 345.2 L565.9 344.1 L565.4 343.1 L564.9 342.0 L564.4 341.0 L563.8 339.9 L563.3 338.8 L562.7 337.7 L562.2 336.7 L561.6 335.6 L561.1 334.5 L560.5 333.4 L559.9 332.3 L559.3 331.2 L558.7 330.0 L558.1 328.9 L557.4 327.8 L556.8 326.6 L556.1 325.5 L555.5 324.3 L554.8 323.1 L554.1 322.0 L553.4 320.8 L552.7 319.6 L552.0 318.4 L551.2 317.2 L550.5 316.0 L549.7 314.8 L548.9 313.5 L548.1 312.3 L547.3 311.1 L546.5 309.8 L545.7 308.5 L544.8 307.3 L544.0 306.0 L543.1 304.7 L542.2 303.4 L541.3 302.1 L540.3 300.8 L539.4 299.5 L538.4 298.1 L537.4 296.8 L536.4 295.4 L535.4 294.1 L534.4 292.7 L533.3 291.3 L532.2 289.9 L531.1 288.5 L530.0 287.1 L528.9 285.6 L527.7 284.2 L526.6 282.7 L525.4 281.3 L524.1 279.8 L522.9 278.3 L521.6 276.8 L520.3 275.3 L519.0 273.8 L517.7 272.2 L516.3 270.7 L515.0 269.1 L513.6 267.5 L512.1 265.9 L510.7 264.3 L509.2 262.7 L507.7 261.1 L506.1 259.4 L504.6 257.8 L503.0 256.1 L501.4 254.4 L499.8 252.7 L498.1 250.9 L496.4 249.2 L494.7 247.4 L492.9 245.6 L491.1 243.8 L489.3 242.0 L487.5 240.2 L485.6 238.3 L483.8 236.5 L481.8 234.6 L479.9 232.7 L477.9 230.7 L475.9 228.8 L473.9 226.8 L471.8 224.8 L469.7 222.8 L467.6 220.8 L465.5 218.7 L463.3 216.6 L461.1 214.5 L458.8 212.4 L456.6 210.2 L454.3 208.0 L452.0 205.8 L449.6 203.6 L447.3 201.3 L444.9 199.0 L442.4 196.7 L440.0 194.4 L437.5 192.0 L435.0 189.6 L432.5 187.1 L429.9 184.6 L427.3 182.1 L424.7 179.6 L422.1 177.0 L419.4 174.4"/>
<path d="M615.4 503.8 L615.4 503.4 L615.4 502.9 L615.3 502.5 L615.3 502.1 L615.3 501.6 L615.3 501.2 L615.2 500.7 L615.2 500.3 L615.2 499.8 L615.2 499.4 L615.2 499.0 L615.1 498.5 L615.1 498.1 L615.1 497.6 L615.1 497.2 L615.0 496.7 L615.0 496.3 L615.0 495.8 L615.0 495.4 L614.9 494.9 L614.9 494.4 L614.9 494.0 L614.9 493.5 L614.8 493.1 L614.8 492.6 L614.8 492.1 L614.8 491.7 L614.7 491.2 L614.7 490.7 L614.7 490.3 L614.7 489.8 L614.6 489.3 L614.6 488.9 L614.6 488.4 L614.6 487.9 L614.5 487.5 L614.5 487.0 L614.5 486.5 L614.4 486.0 L614.4 485.5 L614.4 485.1 L614.4 484.6 L614.3 484.1 L614.3 483.6 L614.3 483.1 L614.2 482.6 L614.2 482.2 L614.2 481.7 L614.2 481.2 L614.1 480.7 L614.1 480.2 L614.1 479.7 L614.0 479.2 L614.0 478.7 L614.0 478.2 L613.9 477.7 L613.9 477.2 L613.9 476.7 L613.8 476.2 L613.8 475.7 L613.8 475.2 L613.7 474.7 L613.7 474.2 L613.6 473.6 L613.6 473.1 L613.6 472.6 L613.5 472.1 L613.5 471.6 L613.5 471.1 L613.4 470.5 L613.4 470.0 L613.4 469.5 L613.3 469.0 L613.3 468.4 L613.2 467.9 L613.2 467.4 L613.2 466.9 L613.1 466.3 L613.1 465.8 L613.0 465.3 L613.0 464.7 L612.9 464.2 L612.9 463.6 L612.9 463.1 L612.8 462.6 L612.8 462.0 L612.7 461.5 L612.7 460.9 L612.6 460.4 L612.6 459.8 L612.5 459.3 L612.5 458.7 L612.4 458.1 L612.4 457.6 L612.3 457.0 L612.3 456.5 L612.2 455.9 L612.2 455.3 L612.1 454.8 L612.1 454.2 L612.0 453.6 L612.0 453.1 L611.9 452.5 L611.9 451.9 L611.8 451.3 L611.8 450.7 L611.7 450.2 L611.7 449.6 L611.6 449.0 L611.5 448.4 L611.5 447.8 L611.4 447.2 L611.4 446.6 L611.3 446.0 L611.3 445.4 L611.2 444.8 L611.1 444.2 L611.1 443.6 L611.0 443.0 L610.9 442.4 L610.9 441.8 L610.8 441.2 L610.7 440.6 L610.7 440.0 L610.6 439.4 L610.5 438.7 L610.5 438.1 L610.4 437.5 L610.3 436.9 L610.2 436.2 L610.2 435.6 L610.1 435.0 L610.0 434.3 L610.0 433.7 L609.9 433.1 L609.8 432.4 L609.7 431.8 L609.6 431.1 L609.6 430.5 L609.5 429.8 L609.4 429.2 L609.3 428.5 L609.2 427.9 L609.1 427.2 L609.1 426.6 L609.0 425.9 L608.9 425.2 L608.8 424.6 L608.7 423.9 L608.6 423.2 L608.5 422.5 L608.4 421.9 L608.3 421.2 L608.2 420.5 L608.1 419.8 L608.0 419.1 L607.9 418.4 L607.8 417.7 L607.7 417.0 L607.6 416.3 L607.5 415.6 L607.4 414.9 L607.3 414.2 L607.2 413.5 L607.1 412.8 L607.0 412.1 L606.8 411.3 L606.7 410.6 L606.6 409.9 L606.5 409.2 L606.4 408.4 L606.3 407.7 L606.1 407.0 L606.0 406.2 L605.9 405.5 L605.7 404.7 L605.6 404.0 L605.5 403.2 L605.3 402.5 L605.2 401.7 L605.1 401.0 L604.9 400.2 L604.8 399.4 L604.6 398.7 L604.5 397.9 L604.3 397.1 L604.2 396.3 L604.0 395.5 L603.9 394.8 L603.7 394.0 L603.6 393.2 L603.4 392.4 L603.2 391.6 L603.1 390.8 L602.9 390.0 L602.7 389.1 L602.6 388.3 L602.4 387.5 L602.2 386.7 L602.0 385.9 L601.8 385.0 L601.7 384.2 L601.5 383.3 L601.3 382.5 L601.1 381.7 L600.9 380.8 L600.7 380.0 L600.5 379.1 L600.3 378.2 L600.1 377.4 L599.8 376.5 L599.6 375.6 L599.4 374.7 L599.2 373.9 L599.0 373.0 L598.7 372.1 L598.5 371.2 L598.3 370.3 L598.0 369.4 L597.8 368.5 L597.5 367.6 L597.3 366.6 L597.0 365.7 L596.7 364.8 L596.5 363.8 L596.2 362.9 L595.9 362.0 L595.6 361.0 L595.4 360.1 L595.1 359.1 L594.8 358.1 L594.5 357.2 L594.2 356.2 L593.9 355.2 L593.5 354.2 L593.2 353.3 L592.9 352.3 L592.6 351.3 L592.2 350.3 L591.9 349.2 L591.5 348.2 L591.2 347.2 L590.8 346.2 L590.5 345.2 L590.1 344.1 L589.7 343.1 L589.3 342.0 L588.9 341.0 L588.5 339.9 L588.1 338.8 L587.7 337.7 L587.3 336.7 L586.9 335.6 L586.4 334.5 L586.0 333.4 L585.5 332.3 L585.1 331.2 L584.6 330.0 L584.1 328.9 L583.6 327.8 L583.1 326.6 L582.6 325.5 L582.1 324.3 L581.6 323.1 L581.0 322.0 L580.5 320.8 L579.9 319.6 L579.4 318.4 L578.8 317.2 L578.2 316.0 L577.6 314.8 L577.0 313.5 L576.3 312.3 L575.7 311.1 L575.1 309.8 L574.4 308.5 L573.7 307.3 L573.0 306.0 L572.3 304.7 L571.6 303.4 L570.9 302.1 L570.1 300.8 L569.4 299.5 L568.6 298.1 L567.8 296.8 L567.0 295.4 L566.2 294.1 L565.3 292.7 L564.4 291.3 L563.6 289.9 L562.7 288.5 L561.8 287.1 L560.8 285.6 L559.9 284.2 L558.9 282.7 L557.9 281.3 L556.9 279.8 L555.8 278.3 L554.8 276.8 L553.7 275.3 L552.6 273.8 L551.5 272.2 L550.3 270.7 L549.1 269.1 L547.9 267.5 L546.7 265.9 L545.5 264.3 L544.2 262.7 L542.9 261.1 L541.6 259.4 L540.2 257.8 L538.8 256.1 L537.4 254.4 L536.0 252.7 L534.5 250.9 L533.0 249.2 L531.5 247.4 L529.9 245.6 L528.3 243.8 L526.7 242.0 L525.0 240.2 L523.3 238.3 L521.6 236.5 L519.8 234.6 L518.1 232.7 L516.2 230.7 L514.4 228.8 L512.5 226.8 L510.5 224.8 L508.6 222.8 L506.6 220.8 L504.5 218.7 L502.5 216.6 L500.4 214.5 L498.2 212.4 L496.0 210.2 L493.8 208.0 L491.6 205.8 L489.3 203.6 L487.0 201.3 L484.6 199.0 L482.2 196.7 L479.8 194.4 L477.3 192.0 L474.8 189.6 L472.3 187.1 L469.7 184.6 L467.1 182.1 L464.5 179.6 L461.8 177.0 L459.1 174.4 L456.3 171.7 L453.6 169.0 L450.7 166.2 L447.9 163.5 L445.0 160.6 L442.1 157.8 L439.2 154.8"/>
<path d="M627.6 503.8 L627.6 503.4 L627.6 502.9 L627.6 502.5 L627.6 502.1 L627.6 501.6 L627.6 501.2 L627.6 500.7 L627.6 500.3 L627.6 499.8 L627.6 499.4 L627.6 499.0 L627.5 498.5 L627.5 498.1 L627.5 497.6 L627.5 497.2 L627.5 496.7 L627.5 496.3 L627.5 495.8 L627.5 495.4 L627.5 494.9 L627.5 494.4 L627.5 494.0 L627.4 493.5 L627.4 493.1 L627.4 492.6 L627.4 492.1 L627.4 491.7 L627.4 491.2 L627.4 490.7 L627.4 490.3 L627.4 489.8 L627.3 489.3 L627.3 488.9 L627.3 488.4 L627.3 487.9 L627.3 487.5 L627.3 487.0 L627.3 486.5 L627.3 486.0 L627.2 485.5 L627.2 485.1 L627.2 484.6 L627.2 484.1 L627.2 483.6 L627.2 483.1 L627.2 482.6 L627.2 482.2 L627.1 481.7 L627.1 481.2 L627.1 480.7 L627.1 480.2 L627.1 479.7 L627.1 479.2 L627.0 478.7 L627.0 478.2 L627.0 477.7 L627.0 477.2 L627.0 476.7 L627.0 476.2 L627.0 475.7 L626.9 475.2 L626.9 474.7 L626.9 474.2 L626.9 473.6 L626.9 473.1 L626.8 472.6 L626.8 472.1 L626.8 471.6 L626.8 471.1 L626.8 470.5 L626.8 470.0 L626.7 469.5 L626.7 469.0 L626.7 468.4 L626.7 467.9 L626.7 467.4 L626.6 466.9 L626.6 466.3 L626.6 465.8 L626.6 465.3 L626.6 464.7 L626.5 464.2 L626.5 463.6 L626.5 463.1 L626.5 462.6 L626.4 462.0 L626.4 461.5 L626.4 460.9 L626.4 460.4 L626.3 459.8 L626.3 459.3 L626.3 458.7 L626.3 458.1 L626.2 457.6 L626.2 457.0 L626.2 456.5 L626.2 455.9 L626.1 455.3 L626.1 454.8 L626.1 454.2 L626.1 453.6 L626.0 453.1 L626.0 452.5 L626.0 451.9 L625.9 451.3 L625.9 450.7 L625.9 450.2 L625.8 449.6 L625.8 449.0 L625.8 448.4 L625.7 447.8 L625.7 447.2 L625.7 446.6 L625.6 446.0 L625.6 445.4 L625.6 444.8 L625.5 444.2 L625.5 443.6 L625.5 443.0 L625.4 442.4 L625.4 441.8 L625.4 441.2 L625.3 440.6 L625.3 440.0 L625.2 439.4 L625.2 438.7 L625.2 438.1 L625.1 437.5 L625.1 436.9 L625.0 436.2 L625.0 435.6 L624.9 435.0 L624.9 434.3 L624.9 433.7 L624.8 433.1 L624.8 432.4 L624.7 431.8 L624.7 431.1 L624.6 430.5 L624.6 429.8 L624.5 429.2 L624.5 428.5 L624.4 427.9 L624.4 427.2 L624.3 426.6 L624.3 425.9 L624.2 425.2 L624.1 424.6 L624.1 423.9 L624.0 423.2 L624.0 422.5 L623.9 421.9 L623.9 421.2 L623.8 420.5 L623.7 419.8 L623.7 419.1 L623.6 418.4 L623.5 417.7 L623.5 417.0 L623.4 416.3 L623.3 415.6 L623.3 414.9 L623.2 414.2 L623.1 413.5 L623.1 412.8 L623.0 412.1 L622.9 411.3 L622.8 410.6 L622.8 409.9 L622.7 409.2 L622.6 408.4 L622.5 407.7 L622.5 407.0 L622.4 406.2 L622.3 405.5 L622.2 404.7 L622.1 404.0 L622.0 403.2 L621.9 402.5 L621.8 401.7 L621.8 401.0 L621.7 400.2 L621.6 399.4 L621.5 398.7 L621.4 397.9 L621.3 397.1 L621.2 396.3 L621.1 395.5 L621.0 394.8 L620.9 394.0 L620.8 393.2 L620.6 392.4 L620.5 391.6 L620.4 390.8 L620.3 390.0 L620.2 389.1 L620.1 388.3 L620.0 387.5 L619.8 386.7 L619.7 385.9 L619.6 385.0 L619.5 384.2 L619.3 383.3 L619.2 382.5 L619.1 381.7 L618.9 380.8 L618.8 380.0 L618.6 379.1 L618.5 378.2 L618.3 377.4 L618.2 376.5 L618.0 375.6 L617.9 374.7 L617.7 373.9 L617.6 373.0 L617.4 372.1 L617.2 371.2 L617.1 370.3 L616.9 369.4 L616.7 368.5 L616.6 367.6 L616.4 366.6 L616.2 365.7 L616.0 364.8 L615.8 363.8 L615.6 362.9 L615.4 362.0 L615.2 361.0 L615.0 360.1 L614.8 359.1 L614.6 358.1 L614.4 357.2 L614.2 356.2 L613.9 355.2 L613.7 354.2 L613.5 353.3 L613.3 352.3 L613.0 351.3 L612.8 350.3 L612.5 349.2 L612.3 348.2 L612.0 347.2 L611.7 346.2 L611.5 345.2 L611.2 344.1 L610.9 343.1 L610.6 342.0 L610.3 341.0 L610.1 339.9 L609.8 338.8 L609.4 337.7 L609.1 336.7 L608.8 335.6 L608.5 334.5 L608.2 333.4 L607.8 332.3 L607.5 331.2 L607.1 330.0 L606.8 328.9 L606.4 327.8 L606.0 326.6 L605.6 325.5 L605.2 324.3 L604.8 323.1 L604.4 322.0 L604.0 320.8 L603.6 319.6 L603.2 318.4 L602.7 317.2 L602.3 316.0 L601.8 314.8 L601.4 313.5 L600.9 312.3 L600.4 311.1 L599.9 309.8 L599.4 308.5 L598.9 307.3 L598.3 306.0 L597.8 304.7 L597.2 303.4 L596.7 302.1 L596.1 300.8 L595.5 299.5 L594.9 298.1 L594.3 296.8 L593.6 295.4 L593.0 294.1 L592.3 292.7 L591.6 291.3 L590.9 289.9 L590.2 288.5 L589.5 287.1 L588.8 285.6 L588.0 284.2 L587.2 282.7 L586.4 281.3 L585.6 279.8 L584.8 278.3 L583.9 276.8 L583.1 275.3 L582.2 273.8 L581.2 272.2 L580.3 270.7 L579.3 269.1 L578.4 267.5 L577.4 265.9 L576.3 264.3 L575.3 262.7 L574.2 261.1 L573.1 259.4 L572.0 257.8 L570.8 256.1 L569.6 254.4 L568.4 252.7 L567.2 250.9 L565.9 249.2 L564.6 247.4 L563.3 245.6 L561.9 243.8 L560.5 242.0 L559.1 240.2 L557.6 238.3 L556.1 236.5 L554.6 234.6 L553.0 232.7 L551.4 230.7 L549.7 228.8 L548.0 226.8 L546.3 224.8 L544.6 222.8 L542.8 220.8 L540.9 218.7 L539.0 216.6 L537.1 214.5 L535.1 212.4 L533.1 210.2 L531.1 208.0 L529.0 205.8 L526.8 203.6 L524.6 201.3 L522.4 199.0 L520.1 196.7 L517.8 194.4 L515.4 192.0 L513.0 189.6 L510.6 187.1 L508.1 184.6 L505.5 182.1 L502.9 179.6 L500.3 177.0 L497.6 174.4 L494.9 171.7 L492.1 169.0 L489.3 166.2 L486.5 163.5 L483.6 160.6 L480.6 157.8 L477.6 154.8 L474.6 151.9 L471.6 148.9 L468.4 145.8 L465.3 142.7 L462.1 139.5"/>
<path d="M638.9 503.8 L638.9 503.4 L638.9 502.9 L638.9 502.5 L638.9 502.1 L638.9 501.6 L638.9 501.2 L638.9 500.7 L638.9 500.3 L638.9 499.8 L638.9 499.4 L638.9 499.0 L638.9 498.5 L638.9 498.1 L638.9 497.6 L638.9 497.2 L638.9 496.7 L638.9 496.3 L638.9 495.8 L638.9 495.4 L638.9 494.9 L638.9 494.4 L638.9 494.0 L638.9 493.5 L638.9 493.1 L638.9 492.6 L638.9 492.1 L638.9 491.7 L638.9 491.2 L638.9 490.7 L638.9 490.3 L638.9 489.8 L638.9 489.3 L638.9 488.9 L638.9 488.4 L638.9 487.9 L638.9 487.5 L638.9 487.0 L638.9 486.5 L638.9 486.0 L638.9 485.5 L638.9 485.1 L638.9 484.6 L638.9 484.1 L638.9 483.6 L638.9 483.1 L638.9 482.6 L638.9 482.2 L638.9 481.7 L638.9 481.2 L638.9 480.7 L638.9 480.2 L638.9 479.7 L638.9 479.2 L638.9 478.7 L638.9 478.2 L638.9 477.7 L638.9 477.2 L638.9 476.7 L638.9 476.2 L638.9 475.7 L638.9 475.2 L638.9 474.7 L638.9 474.2 L638.9 473.6 L638.9 473.1 L638.9 472.6 L638.9 472.1 L638.9 471.6 L638.9 471.1 L638.9 470.5 L638.9 470.0 L638.9 469.5 L638.9 469.0 L638.9 468.4 L638.9 467.9 L638.9 467.4 L638.9 466.9 L638.9 466.3 L638.9 465.8 L638.9 465.3 L638.9 464.7 L638.9 464.2 L638.8 463.6 L638.8 463.1 L638.8 462.6 L638.8 462.0 L638.8 461.5 L638.8 460.9 L638.8 460.4 L638.8 459.8 L638.8 459.3 L638.8 458.7 L638.8 458.1 L638.8 457.6 L638.8 457.0 L638.8 456.5 L638.8 455.9 L638.8 455.3 L638.7 454.8 L638.7 454.2 L638.7 453.6 L638.7 453.1 L638.7 452.5 L638.7 451.9 L638.7 451.3 L638.7 450.7 L638.7 450.2 L638.7 449.6 L638.6 449.0 L638.6 448.4 L638.6 447.8 L638.6 447.2 L638.6 446.6 L638.6 446.0 L638.6 445.4 L638.6 444.8 L638.5 444.2 L638.5 443.6 L638.5 443.0 L638.5 442.4 L638.5 441.8 L638.5 441.2 L638.5 440.6 L638.4 440.0 L638.4 439.4 L638.4 438.7 L638.4 438.1 L638.4 437.5 L638.4 436.9 L638.3 436.2 L638.3 435.6 L638.3 435.0 L638.3 434.3 L638.3 433.7 L638.2 433.1 L638.2 432.4 L638.2 431.8 L638.2 431.1 L638.2 430.5 L638.1 429.8 L638.1 429.2 L638.1 428.5 L638.1 427.9 L638.0 427.2 L638.0 426.6 L638.0 425.9 L638.0 425.2 L637.9 424.6 L637.9 423.9 L637.9 423.2 L637.9 422.5 L637.8 421.9 L637.8 421.2 L637.8 420.5 L637.7 419.8 L637.7 419.1 L637.7 418.4 L637.6 417.7 L637.6 417.0 L637.6 416.3 L637.5 415.6 L637.5 414.9 L637.5 414.2 L637.4 413.5 L637.4 412.8 L637.3 412.1 L637.3 411.3 L637.3 410.6 L637.2 409.9 L637.2 409.2 L637.1 408.4 L637.1 407.7 L637.0 407.0 L637.0 406.2 L637.0 405.5 L636.9 404.7 L636.9 404.0 L636.8 403.2 L636.8 402.5 L636.7 401.7 L636.7 401.0 L636.6 400.2 L636.5 399.4 L636.5 398.7 L636.4 397.9 L636.4 397.1 L636.3 396.3 L636.3 395.5 L636.2 394.8 L636.1 394.0 L636.1 393.2 L636.0 392.4 L635.9 391.6 L635.9 390.8 L635.8 390.0 L635.7 389.1 L635.7 388.3 L635.6 387.5 L635.5 386.7 L635.4 385.9 L635.3 385.0 L635.3 384.2 L635.2 383.3 L635.1 382.5 L635.0 381.7 L634.9 380.8 L634.8 380.0 L634.8 379.1 L634.7 378.2 L634.6 377.4 L634.5 376.5 L634.4 375.6 L634.3 374.7 L634.2 373.9 L634.1 373.0 L634.0 372.1 L633.9 371.2 L633.7 370.3 L633.6 369.4 L633.5 368.5 L633.4 367.6 L633.3 366.6 L633.2 365.7 L633.0 364.8 L632.9 363.8 L632.8 362.9 L632.7 362.0 L632.5 361.0 L632.4 360.1 L632.2 359.1 L632.1 358.1 L632.0 357.2 L631.8 356.2 L631.6 355.2 L631.5 354.2 L631.3 353.3 L631.2 352.3 L631.0 351.3 L630.8 350.3 L630.7 349.2 L630.5 348.2 L630.3 347.2 L630.1 346.2 L629.9 345.2 L629.8 344.1 L629.6 343.1 L629.4 342.0 L629.2 341.0 L628.9 339.9 L628.7 338.8 L628.5 337.7 L628.3 336.7 L628.1 335.6 L627.8 334.5 L627.6 333.4 L627.4 332.3 L627.1 331.2 L626.9 330.0 L626.6 328.9 L626.3 327.8 L626.1 326.6 L625.8 325.5 L625.5 324.3 L625.2 323.1 L624.9 322.0 L624.6 320.8 L624.3 319.6 L624.0 318.4 L623.7 317.2 L623.3 316.0 L623.0 314.8 L622.7 313.5 L622.3 312.3 L621.9 311.1 L621.6 309.8 L621.2 308.5 L620.8 307.3 L620.4 306.0 L620.0 304.7 L619.6 303.4 L619.2 302.1 L618.7 300.8 L618.3 299.5 L617.8 298.1 L617.3 296.8 L616.9 295.4 L616.4 294.1 L615.9 292.7 L615.3 291.3 L614.8 289.9 L614.3 288.5 L613.7 287.1 L613.1 285.6 L612.6 284.2 L612.0 282.7 L611.3 281.3 L610.7 279.8 L610.1 278.3 L609.4 276.8 L608.7 275.3 L608.0 273.8 L607.3 272.2 L606.6 270.7 L605.8 269.1 L605.0 267.5 L604.3 265.9 L603.4 264.3 L602.6 262.7 L601.7 261.1 L600.9 259.4 L600.0 257.8 L599.0 256.1 L598.1 254.4 L597.1 252.7 L596.1 250.9 L595.0 249.2 L594.0 247.4 L592.9 245.6 L591.8 243.8 L590.6 242.0 L589.4 240.2 L588.2 238.3 L586.9 236.5 L585.7 234.6 L584.3 232.7 L583.0 230.7 L581.6 228.8 L580.2 226.8 L578.7 224.8 L577.2 222.8 L575.6 220.8 L574.0 218.7 L572.4 216.6 L570.7 214.5 L569.0 212.4 L567.2 210.2 L565.4 208.0 L563.5 205.8 L561.6 203.6 L559.6 201.3 L557.6 199.0 L555.6 196.7 L553.4 194.4 L551.3 192.0 L549.0 189.6 L546.8 187.1 L544.4 184.6 L542.0 182.1 L539.6 179.6 L537.1 177.0 L534.5 174.4 L531.9 171.7 L529.3 169.0 L526.5 166.2 L523.8 163.5 L520.9 160.6 L518.0 157.8 L515.1 154.8 L512.1 151.9 L509.0 148.9 L505.9 145.8 L502.7 142.7 L499.5 139.5 L496.3 136.3 L492.9 133.0 L489.6 129.6 L486.1 126.2 L482.7 122.8"/>
<path d="M649.2 503.8 L649.2 503.4 L649.2 502.9 L649.2 502.5 L649.2 502.1 L649.2 501.6 L649.2 501.2 L649.3 500.7 L649.3 500.3 L649.3 499.8 L649.3 499.4 L649.3 499.0 L649.3 498.5 L649.3 498.1 L649.3 497.6 L649.4 497.2 L649.4 496.7 L649.4 496.3 L649.4 495.8 L649.4 495.4 L649.4 494.9 L649.4 494.4 L649.4 494.0 L649.5 493.5 L649.5 493.1 L649.5 492.6 L649.5 492.1 L649.5 491.7 L649.5 491.2 L649.5 490.7 L649.5 490.3 L649.5 489.8 L649.6 489.3 L649.6 488.9 L649.6 488.4 L649.6 487.9 L649.6 487.5 L649.6 487.0 L649.6 486.5 L649.6 486.0 L649.7 485.5 L649.7 485.1 L649.7 484.6 L649.7 484.1 L649.7 483.6 L649.7 483.1 L649.7 482.6 L649.7 482.2 L649.7 481.7 L649.8 481.2 L649.8 480.7 L649.8 480.2 L649.8 479.7 L649.8 479.2 L649.8 478.7 L649.8 478.2 L649.8 477.7 L649.9 477.2 L649.9 476.7 L649.9 476.2 L649.9 475.7 L649.9 475.2 L649.9 474.7 L649.9 474.2 L649.9 473.6 L649.9 473.1 L650.0 472.6 L650.0 472.1 L650.0 471.6 L650.0 471.1 L650.0 470.5 L650.0 470.0 L650.0 469.5 L650.0 469.0 L650.0 468.4 L650.1 467.9 L650.1 467.4 L650.1 466.9 L650.1 466.3 L650.1 465.8 L650.1 465.3 L650.1 464.7 L650.1 464.2 L650.1 463.6 L650.1 463.1 L650.2 462.6 L650.2 462.0 L650.2 461.5 L650.2 460.9 L650.2 460.4 L650.2 459.8 L650.2 459.3 L650.2 458.7 L650.2 458.1 L650.2 457.6 L650.2 457.0 L650.3 456.5 L650.3 455.9 L650.3 455.3 L650.3 454.8 L650.3 454.2 L650.3 453.6 L650.3 453.1 L650.3 452.5 L650.3 451.9 L650.3 451.3 L650.3 450.7 L650.3 450.2 L650.3 449.6 L650.4 449.0 L650.4 448.4 L650.4 447.8 L650.4 447.2 L650.4 446.6 L650.4 446.0 L650.4 445.4 L650.4 444.8 L650.4 444.2 L650.4 443.6 L650.4 443.0 L650.4 442.4 L650.4 441.8 L650.4 441.2 L650.4 440.6 L650.4 440.0 L650.4 439.4 L650.4 438.7 L650.4 438.1 L650.4 437.5 L650.4 436.9 L650.5 436.2 L650.5 435.6 L650.5 435.0 L650.5 434.3 L650.5 433.7 L650.5 433.1 L650.5 432.4 L650.5 431.8 L650.5 431.1 L650.5 430.5 L650.5 429.8 L650.5 429.2 L650.5 428.5 L650.5 427.9 L650.5 427.2 L650.5 426.6 L650.5 425.9 L650.5 425.2 L650.4 424.6 L650.4 423.9 L650.4 423.2 L650.4 422.5 L650.4 421.9 L650.4 421.2 L650.4 420.5 L650.4 419.8 L650.4 419.1 L650.4 418.4 L650.4 417.7 L650.4 417.0 L650.4 416.3 L650.4 415.6 L650.4 414.9 L650.4 414.2 L650.3 413.5 L650.3 412.8 L650.3 412.1 L650.3 411.3 L650.3 410.6 L650.3 409.9 L650.3 409.2 L650.3 408.4 L650.2 407.7 L650.2 407.0 L650.2 406.2 L650.2 405.5 L650.2 404.7 L650.2 404.0 L650.1 403.2 L650.1 402.5 L650.1 401.7 L650.1 401.0 L650.1 400.2 L650.0 399.4 L650.0 398.7 L650.0 397.9 L650.0 397.1 L649.9 396.3 L649.9 395.5 L649.9 394.8 L649.9 394.0 L649.8 393.2 L649.8 392.4 L649.8 391.6 L649.7 390.8 L649.7 390.0 L649.7 389.1 L649.6 388.3 L649.6 387.5 L649.6 386.7 L649.5 385.9 L649.5 385.0 L649.5 384.2 L649.4 383.3 L649.4 382.5 L649.3 381.7 L649.3 380.8 L649.2 380.0 L649.2 379.1 L649.1 378.2 L649.1 377.4 L649.0 376.5 L649.0 375.6 L648.9 374.7 L648.9 373.9 L648.8 373.0 L648.8 372.1 L648.7 371.2 L648.6 370.3 L648.6 369.4 L648.5 368.5 L648.5 367.6 L648.4 366.6 L648.3 365.7 L648.2 364.8 L648.2 363.8 L648.1 362.9 L648.0 362.0 L647.9 361.0 L647.9 360.1 L647.8 359.1 L647.7 358.1 L647.6 357.2 L647.5 356.2 L647.4 355.2 L647.3 354.2 L647.2 353.3 L647.1 352.3 L647.0 351.3 L646.9 350.3 L646.8 349.2 L646.7 348.2 L646.6 347.2 L646.5 346.2 L646.3 345.2 L646.2 344.1 L646.1 343.1 L646.0 342.0 L645.8 341.0 L645.7 339.9 L645.6 338.8 L645.4 337.7 L645.3 336.7 L645.1 335.6 L645.0 334.5 L644.8 333.4 L644.6 332.3 L644.5 331.2 L644.3 330.0 L644.1 328.9 L644.0 327.8 L643.8 326.6 L643.6 325.5 L643.4 324.3 L643.2 323.1 L643.0 322.0 L642.8 320.8 L642.6 319.6 L642.3 318.4 L642.1 317.2 L641.9 316.0 L641.7 314.8 L641.4 313.5 L641.2 312.3 L640.9 311.1 L640.6 309.8 L640.4 308.5 L640.1 307.3 L639.8 306.0 L639.5 304.7 L639.2 303.4 L638.9 302.1 L638.6 300.8 L638.3 299.5 L638.0 298.1 L637.6 296.8 L637.3 295.4 L636.9 294.1 L636.5 292.7 L636.2 291.3 L635.8 289.9 L635.4 288.5 L635.0 287.1 L634.5 285.6 L634.1 284.2 L633.7 282.7 L633.2 281.3 L632.7 279.8 L632.2 278.3 L631.7 276.8 L631.2 275.3 L630.7 273.8 L630.2 272.2 L629.6 270.7 L629.0 269.1 L628.4 267.5 L627.8 265.9 L627.2 264.3 L626.6 262.7 L625.9 261.1 L625.2 259.4 L624.5 257.8 L623.8 256.1 L623.0 254.4 L622.3 252.7 L621.5 250.9 L620.7 249.2 L619.8 247.4 L619.0 245.6 L618.1 243.8 L617.2 242.0 L616.2 240.2 L615.3 238.3 L614.3 236.5 L613.2 234.6 L612.2 232.7 L611.1 230.7 L609.9 228.8 L608.8 226.8 L607.5 224.8 L606.3 222.8 L605.0 220.8 L603.7 218.7 L602.3 216.6 L600.9 214.5 L599.5 212.4 L598.0 210.2 L596.4 208.0 L594.9 205.8 L593.2 203.6 L591.5 201.3 L589.8 199.0 L588.0 196.7 L586.1 194.4 L584.2 192.0 L582.3 189.6 L580.3 187.1 L578.2 184.6 L576.0 182.1 L573.8 179.6 L571.6 177.0 L569.2 174.4 L566.8 171.7 L564.4 169.0 L561.8 166.2 L559.2 163.5 L556.6 160.6 L553.8 157.8 L551.0 154.8 L548.1 151.9 L545.2 148.9 L542.2 145.8 L539.1 142.7 L535.9 139.5 L532.7 136.3 L529.4 133.0 L526.1 129.6 L522.6 126.2 L519.1 122.8 L515.6 119.2 L512.0 115.6 L508.3 111.9 L504.5 108.2"/>
<path d="M659.8 503.8 L659.8 503.4 L659.8 502.9 L659.8 502.5 L659.9 502.1 L659.9 501.6 L659.9 501.2 L659.9 500.7 L659.9 500.3 L659.9 499.8 L660.0 499.4 L660.0 499.0 L660.0 498.5 L660.0 498.1 L660.1 497.6 L660.1 497.2 L660.1 496.7 L660.1 496.3 L660.1 495.8 L660.2 495.4 L660.2 494.9 L660.2 494.4 L660.2 494.0 L660.2 493.5 L660.2 493.1 L660.3 492.6 L660.3 492.1 L660.3 491.7 L660.3 491.2 L660.3 490.7 L660.3 490.3 L660.4 489.8 L660.4 489.3 L660.4 488.9 L660.4 488.4 L660.4 487.9 L660.5 487.5 L660.5 487.0 L660.5 486.5 L660.5 486.0 L660.5 485.5 L660.5 485.1 L660.6 484.6 L660.6 484.1 L660.6 483.6 L660.6 483.1 L660.6 482.6 L660.7 482.2 L660.7 481.7 L660.7 481.2 L660.7 480.7 L660.7 480.2 L660.7 479.7 L660.8 479.2 L660.8 478.7 L660.8 478.2 L660.8 477.7 L660.8 477.2 L660.9 476.7 L660.9 476.2 L660.9 475.7 L660.9 475.2 L660.9 474.7 L661.0 474.2 L661.0 473.6 L661.0 473.1 L661.0 472.6 L661.0 472.1 L661.0 471.6 L661.1 471.1 L661.1 470.5 L661.1 470.0 L661.1 469.5 L661.1 469.0 L661.2 468.4 L661.2 467.9 L661.2 467.4 L661.2 466.9 L661.2 466.3 L661.3 465.8 L661.3 465.3 L661.3 464.7 L661.3 464.2 L661.3 463.6 L661.3 463.1 L661.4 462.6 L661.4 462.0 L661.4 461.5 L661.4 460.9 L661.4 460.4 L661.5 459.8 L661.5 459.3 L661.5 458.7 L661.5 458.1 L661.5 457.6 L661.5 457.0 L661.6 456.5 L661.6 455.9 L661.6 455.3 L661.6 454.8 L661.6 454.2 L661.7 453.6 L661.7 453.1 L661.7 452.5 L661.7 451.9 L661.7 451.3 L661.7 450.7 L661.8 450.2 L661.8 449.6 L661.8 449.0 L661.8 448.4 L661.8 447.8 L661.9 447.2 L661.9 446.6 L661.9 446.0 L661.9 445.4 L661.9 444.8 L661.9 444.2 L662.0 443.6 L662.0 443.0 L662.0 442.4 L662.0 441.8 L662.0 441.2 L662.0 440.6 L662.1 440.0 L662.1 439.4 L662.1 438.7 L662.1 438.1 L662.1 437.5 L662.1 436.9 L662.1 436.2 L662.2 435.6 L662.2 435.0 L662.2 434.3 L662.2 433.7 L662.2 433.1 L662.2 432.4 L662.3 431.8 L662.3 431.1 L662.3 430.5 L662.3 429.8 L662.3 429.2 L662.3 428.5 L662.3 427.9 L662.4 427.2 L662.4 426.6 L662.4 425.9 L662.4 425.2 L662.4 424.6 L662.4 423.9 L662.4 423.2 L662.4 422.5 L662.5 421.9 L662.5 421.2 L662.5 420.5 L662.5 419.8 L662.5 419.1 L662.5 418.4 L662.5 417.7 L662.5 417.0 L662.5 416.3 L662.5 415.6 L662.6 414.9 L662.6 414.2 L662.6 413.5 L662.6 412.8 L662.6 412.1 L662.6 411.3 L662.6 410.6 L662.6 409.9 L662.6 409.2 L662.6 408.4 L662.6 407.7 L662.6 407.0 L662.6 406.2 L662.6 405.5 L662.6 404.7 L662.6 404.0 L662.6 403.2 L662.6 402.5 L662.7 401.7 L662.7 401.0 L662.7 400.2 L662.7 399.4 L662.7 398.7 L662.7 397.9 L662.7 397.1 L662.7 396.3 L662.6 395.5 L662.6 394.8 L662.6 394.0 L662.6 393.2 L662.6 392.4 L662.6 391.6 L662.6 390.8 L662.6 390.0 L662.6 389.1 L662.6 388.3 L662.6 387.5 L662.6 386.7 L662.6 385.9 L662.6 385.0 L662.5 384.2 L662.5 383.3 L662.5 382.5 L662.5 381.7 L662.5 380.8 L662.5 380.0 L662.5 379.1 L662.4 378.2 L662.4 377.4 L662.4 376.5 L662.4 375.6 L662.4 374.7 L662.3 373.9 L662.3 373.0 L662.3 372.1 L662.3 371.2 L662.2 370.3 L662.2 369.4 L662.2 368.5 L662.1 367.6 L662.1 366.6 L662.1 365.7 L662.0 364.8 L662.0 363.8 L662.0 362.9 L661.9 362.0 L661.9 361.0 L661.8 360.1 L661.8 359.1 L661.8 358.1 L661.7 357.2 L661.7 356.2 L661.6 355.2 L661.6 354.2 L661.5 353.3 L661.4 352.3 L661.4 351.3 L661.3 350.3 L661.3 349.2 L661.2 348.2 L661.1 347.2 L661.1 346.2 L661.0 345.2 L660.9 344.1 L660.8 343.1 L660.8 342.0 L660.7 341.0 L660.6 339.9 L660.5 338.8 L660.4 337.7 L660.3 336.7 L660.3 335.6 L660.2 334.5 L660.1 333.4 L660.0 332.3 L659.8 331.2 L659.7 330.0 L659.6 328.9 L659.5 327.8 L659.4 326.6 L659.3 325.5 L659.1 324.3 L659.0 323.1 L658.9 322.0 L658.7 320.8 L658.6 319.6 L658.5 318.4 L658.3 317.2 L658.1 316.0 L658.0 314.8 L657.8 313.5 L657.6 312.3 L657.5 311.1 L657.3 309.8 L657.1 308.5 L656.9 307.3 L656.7 306.0 L656.5 304.7 L656.3 303.4 L656.1 302.1 L655.9 300.8 L655.6 299.5 L655.4 298.1 L655.2 296.8 L654.9 295.4 L654.7 294.1 L654.4 292.7 L654.1 291.3 L653.8 289.9 L653.6 288.5 L653.3 287.1 L652.9 285.6 L652.6 284.2 L652.3 282.7 L652.0 281.3 L651.6 279.8 L651.3 278.3 L650.9 276.8 L650.5 275.3 L650.1 273.8 L649.7 272.2 L649.3 270.7 L648.9 269.1 L648.4 267.5 L648.0 265.9 L647.5 264.3 L647.0 262.7 L646.5 261.1 L646.0 259.4 L645.5 257.8 L644.9 256.1 L644.3 254.4 L643.8 252.7 L643.2 250.9 L642.5 249.2 L641.9 247.4 L641.2 245.6 L640.5 243.8 L639.8 242.0 L639.1 240.2 L638.3 238.3 L637.5 236.5 L636.7 234.6 L635.9 232.7 L635.0 230.7 L634.1 228.8 L633.2 226.8 L632.2 224.8 L631.2 222.8 L630.2 220.8 L629.1 218.7 L628.0 216.6 L626.8 214.5 L625.7 212.4 L624.4 210.2 L623.2 208.0 L621.9 205.8 L620.5 203.6 L619.1 201.3 L617.6 199.0 L616.1 196.7 L614.6 194.4 L613.0 192.0 L611.3 189.6 L609.5 187.1 L607.8 184.6 L605.9 182.1 L604.0 179.6 L602.0 177.0 L599.9 174.4 L597.8 171.7 L595.6 169.0 L593.3 166.2 L591.0 163.5 L588.6 160.6 L586.1 157.8 L583.5 154.8 L580.8 151.9 L578.1 148.9 L575.3 145.8 L572.3 142.7 L569.3 139.5 L566.3 136.3 L563.1 133.0 L559.8 129.6 L556.5 126.2 L553.1 122.8 L549.5 119.2 L545.9 115.6 L542.3 111.9 L538.5 108.2 L534.7 104.3 L530.7 100.4 L526.7 96.4 L522.6 92.3 L518.5 88.1 L514.2 83.8 L509.9 79.4 L505.5 74.9"/>
<path d="M669.5 503.8 L669.5 503.4 L669.5 502.9 L669.6 502.5 L669.6 502.1 L669.6 501.6 L669.6 501.2 L669.7 500.7 L669.7 500.3 L669.7 499.8 L669.8 499.4 L669.8 499.0 L669.8 498.5 L669.8 498.1 L669.9 497.6 L669.9 497.2 L669.9 496.7 L669.9 496.3 L670.0 495.8 L670.0 495.4 L670.0 494.9 L670.1 494.4 L670.1 494.0 L670.1 493.5 L670.1 493.1 L670.1 492.6 L670.2 492.1 L670.2 491.7 L670.2 491.2 L670.2 490.7 L670.3 490.3 L670.3 489.8 L670.3 489.3 L670.3 488.9 L670.4 488.4 L670.4 487.9 L670.4 487.5 L670.4 487.0 L670.4 486.5 L670.5 486.0 L670.5 485.5 L670.5 485.1 L670.5 484.6 L670.6 484.1 L670.6 483.6 L670.6 483.1 L670.6 482.6 L670.7 482.2 L670.7 481.7 L670.7 481.2 L670.7 480.7 L670.8 480.2 L670.8 479.7 L670.8 479.2 L670.8 478.7 L670.9 478.2 L670.9 477.7 L670.9 477.2 L670.9 476.7 L671.0 476.2 L671.0 475.7 L671.0 475.2 L671.0 474.7 L671.1 474.2 L671.1 473.6 L671.1 473.1 L671.1 472.6 L671.2 472.1 L671.2 471.6 L671.2 471.1 L671.2 470.5 L671.3 470.0 L671.3 469.5 L671.3 469.0 L671.3 468.4 L671.4 467.9 L671.4 467.4 L671.4 466.9 L671.5 466.3 L671.5 465.8 L671.5 465.3 L671.5 464.7 L671.6 464.2 L671.6 463.6 L671.6 463.1 L671.6 462.6 L671.7 462.0 L671.7 461.5 L671.7 460.9 L671.7 460.4 L671.8 459.8 L671.8 459.3 L671.8 458.7 L671.9 458.1 L671.9 457.6 L671.9 457.0 L671.9 456.5 L672.0 455.9 L672.0 455.3 L672.0 454.8 L672.0 454.2 L672.1 453.6 L672.1 453.1 L672.1 452.5 L672.2 451.9 L672.2 451.3 L672.2 450.7 L672.2 450.2 L672.3 449.6 L672.3 449.0 L672.3 448.4 L672.3 447.8 L672.4 447.2 L672.4 446.6 L672.4 446.0 L672.5 445.4 L672.5 444.8 L672.5 444.2 L672.5 443.6 L672.6 443.0 L672.6 442.4 L672.6 441.8 L672.6 441.2 L672.7 440.6 L672.7 440.0 L672.7 439.4 L672.8 438.7 L672.8 438.1 L672.8 437.5 L672.8 436.9 L672.9 436.2 L672.9 435.6 L672.9 435.0 L673.0 434.3 L673.0 433.7 L673.0 433.1 L673.0 432.4 L673.1 431.8 L673.1 431.1 L673.1 430.5 L673.1 429.8 L673.2 429.2 L673.2 428.5 L673.2 427.9 L673.2 427.2 L673.3 426.6 L673.3 425.9 L673.3 425.2 L673.4 424.6 L673.4 423.9 L673.4 423.2 L673.4 422.5 L673.5 421.9 L673.5 421.2 L673.5 420.5 L673.5 419.8 L673.6 419.1 L673.6 418.4 L673.6 417.7 L673.6 417.0 L673.7 416.3 L673.7 415.6 L673.7 414.9 L673.7 414.2 L673.8 413.5 L673.8 412.8 L673.8 412.1 L673.8 411.3 L673.9 410.6 L673.9 409.9 L673.9 409.2 L673.9 408.4 L674.0 407.7 L674.0 407.0 L674.0 406.2 L674.0 405.5 L674.0 404.7 L674.1 404.0 L674.1 403.2 L674.1 402.5 L674.1 401.7 L674.1 401.0 L674.2 400.2 L674.2 399.4 L674.2 398.7 L674.2 397.9 L674.2 397.1 L674.3 396.3 L674.3 395.5 L674.3 394.8 L674.3 394.0 L674.3 393.2 L674.4 392.4 L674.4 391.6 L674.4 390.8 L674.4 390.0 L674.4 389.1 L674.4 388.3 L674.4 387.5 L674.5 386.7 L674.5 385.9 L674.5 385.0 L674.5 384.2 L674.5 383.3 L674.5 382.5 L674.5 381.7 L674.5 380.8 L674.6 380.0 L674.6 379.1 L674.6 378.2 L674.6 377.4 L674.6 376.5 L674.6 375.6 L674.6 374.7 L674.6 373.9 L674.6 373.0 L674.6 372.1 L674.6 371.2 L674.6 370.3 L674.6 369.4 L674.6 368.5 L674.6 367.6 L674.6 366.6 L674.6 365.7 L674.6 364.8 L674.6 363.8 L674.6 362.9 L674.6 362.0 L674.6 361.0 L674.6 360.1 L674.6 359.1 L674.6 358.1 L674.6 357.2 L674.5 356.2 L674.5 355.2 L674.5 354.2 L674.5 353.3 L674.5 352.3 L674.5 351.3 L674.4 350.3 L674.4 349.2 L674.4 348.2 L674.4 347.2 L674.3 346.2 L674.3 345.2 L674.3 344.1 L674.3 343.1 L674.2 342.0 L674.2 341.0 L674.1 339.9 L674.1 338.8 L674.1 337.7 L674.0 336.7 L674.0 335.6 L673.9 334.5 L673.9 333.4 L673.8 332.3 L673.8 331.2 L673.7 330.0 L673.7 328.9 L673.6 327.8 L673.5 326.6 L673.5 325.5 L673.4 324.3 L673.3 323.1 L673.3 322.0 L673.2 320.8 L673.1 319.6 L673.0 318.4 L672.9 317.2 L672.8 316.0 L672.7 314.8 L672.6 313.5 L672.5 312.3 L672.4 311.1 L672.3 309.8 L672.2 308.5 L672.1 307.3 L672.0 306.0 L671.8 304.7 L671.7 303.4 L671.6 302.1 L671.4 300.8 L671.3 299.5 L671.1 298.1 L671.0 296.8 L670.8 295.4 L670.6 294.1 L670.5 292.7 L670.3 291.3 L670.1 289.9 L669.9 288.5 L669.7 287.1 L669.5 285.6 L669.3 284.2 L669.0 282.7 L668.8 281.3 L668.6 279.8 L668.3 278.3 L668.1 276.8 L667.8 275.3 L667.5 273.8 L667.2 272.2 L666.9 270.7 L666.6 269.1 L666.3 267.5 L666.0 265.9 L665.7 264.3 L665.3 262.7 L664.9 261.1 L664.6 259.4 L664.2 257.8 L663.8 256.1 L663.4 254.4 L662.9 252.7 L662.5 250.9 L662.0 249.2 L661.5 247.4 L661.0 245.6 L660.5 243.8 L660.0 242.0 L659.4 240.2 L658.9 238.3 L658.3 236.5 L657.7 234.6 L657.0 232.7 L656.3 230.7 L655.7 228.8 L654.9 226.8 L654.2 224.8 L653.4 222.8 L652.6 220.8 L651.8 218.7 L650.9 216.6 L650.0 214.5 L649.1 212.4 L648.1 210.2 L647.1 208.0 L646.1 205.8 L645.0 203.6 L643.9 201.3 L642.7 199.0 L641.5 196.7 L640.2 194.4 L638.9 192.0 L637.5 189.6 L636.1 187.1 L634.6 184.6 L633.1 182.1 L631.5 179.6 L629.8 177.0 L628.1 174.4 L626.3 171.7 L624.5 169.0 L622.5 166.2 L620.5 163.5 L618.4 160.6 L616.2 157.8 L613.9 154.8 L611.6 151.9 L609.1 148.9 L606.6 145.8 L604.0 142.7 L601.3 139.5 L598.4 136.3 L595.5 133.0 L592.5 129.6 L589.3 126.2 L586.1 122.8 L582.8 119.2 L579.3 115.6 L575.8 111.9 L572.1 108.2 L568.3 104.3 L564.5 100.4 L560.5 96.4 L556.4 92.3 L552.2 88.1 L548.0 83.8 L543.6 79.4 L539.1 74.9"/>
<path d="M678.4 503.8 L678.4 503.4 L678.4 502.9 L678.5 502.5 L678.5 502.1 L678.5 501.6 L678.6 501.2 L678.6 500.7 L678.6 500.3 L678.7 499.8 L678.7 499.4 L678.7 499.0 L678.8 498.5 L678.8 498.1 L678.8 497.6 L678.9 497.2 L678.9 496.7 L678.9 496.3 L679.0 495.8 L679.0 495.4 L679.0 494.9 L679.1 494.4 L679.1 494.0 L679.1 493.5 L679.1 493.1 L679.2 492.6 L679.2 492.1 L679.2 491.7 L679.2 491.2 L679.3 490.7 L679.3 490.3 L679.3 489.8 L679.3 489.3 L679.4 488.9 L679.4 488.4 L679.4 487.9 L679.4 487.5 L679.5 487.0 L679.5 486.5 L679.5 486.0 L679.6 485.5 L679.6 485.1 L679.6 484.6 L679.6 484.1 L679.7 483.6 L679.7 483.1 L679.7 482.6 L679.7 482.2 L679.8 481.7 L679.8 481.2 L679.8 480.7 L679.9 480.2 L679.9 479.7 L679.9 479.2 L679.9 478.7 L680.0 478.2 L680.0 477.7 L680.0 477.2 L680.1 476.7 L680.1 476.2 L680.1 475.7 L680.1 475.2 L680.2 474.7 L680.2 474.2 L680.2 473.6 L680.3 473.1 L680.3 472.6 L680.3 472.1 L680.4 471.6 L680.4 471.1 L680.4 470.5 L680.4 470.0 L680.5 469.5 L680.5 469.0 L680.5 468.4 L680.6 467.9 L680.6 467.4 L680.6 466.9 L680.7 466.3 L680.7 465.8 L680.7 465.3 L680.7 464.7 L680.8 464.2 L680.8 463.6 L680.8 463.1 L680.9 462.6 L680.9 462.0 L680.9 461.5 L681.0 460.9 L681.0 460.4 L681.0 459.8 L681.1 459.3 L681.1 458.7 L681.1 458.1 L681.2 457.6 L681.2 457.0 L681.2 456.5 L681.3 455.9 L681.3 455.3 L681.3 454.8 L681.4 454.2 L681.4 453.6 L681.4 453.1 L681.5 452.5 L681.5 451.9 L681.5 451.3 L681.6 450.7 L681.6 450.2 L681.6 449.6 L681.7 449.0 L681.7 448.4 L681.7 447.8 L681.8 447.2 L681.8 446.6 L681.8 446.0 L681.9 445.4 L681.9 444.8 L681.9 444.2 L682.0 443.6 L682.0 443.0 L682.0 442.4 L682.1 441.8 L682.1 441.2 L682.1 440.6 L682.2 440.0 L682.2 439.4 L682.2 438.7 L682.3 438.1 L682.3 437.5 L682.3 436.9 L682.4 436.2 L682.4 435.6 L682.4 435.0 L682.5 434.3 L682.5 433.7 L682.5 433.1 L682.6 432.4 L682.6 431.8 L682.7 431.1 L682.7 430.5 L682.7 429.8 L682.8 429.2 L682.8 428.5 L682.8 427.9 L682.9 427.2 L682.9 426.6 L682.9 425.9 L683.0 425.2 L683.0 424.6 L683.0 423.9 L683.1 423.2 L683.1 422.5 L683.2 421.9 L683.2 421.2 L683.2 420.5 L683.3 419.8 L683.3 419.1 L683.3 418.4 L683.4 417.7 L683.4 417.0 L683.4 416.3 L683.5 415.6 L683.5 414.9 L683.5 414.2 L683.6 413.5 L683.6 412.8 L683.6 412.1 L683.7 411.3 L683.7 410.6 L683.8 409.9 L683.8 409.2 L683.8 408.4 L683.9 407.7 L683.9 407.0 L683.9 406.2 L684.0 405.5 L684.0 404.7 L684.0 404.0 L684.1 403.2 L684.1 402.5 L684.1 401.7 L684.2 401.0 L684.2 400.2 L684.2 399.4 L684.3 398.7 L684.3 397.9 L684.3 397.1 L684.4 396.3 L684.4 395.5 L684.4 394.8 L684.5 394.0 L684.5 393.2 L684.5 392.4 L684.6 391.6 L684.6 390.8 L684.6 390.0 L684.7 389.1 L684.7 388.3 L684.7 387.5 L684.8 386.7 L684.8 385.9 L684.8 385.0 L684.8 384.2 L684.9 383.3 L684.9 382.5 L684.9 381.7 L685.0 380.8 L685.0 380.0 L685.0 379.1 L685.0 378.2 L685.1 377.4 L685.1 376.5 L685.1 375.6 L685.2 374.7 L685.2 373.9 L685.2 373.0 L685.2 372.1 L685.3 371.2 L685.3 370.3 L685.3 369.4 L685.3 368.5 L685.3 367.6 L685.4 366.6 L685.4 365.7 L685.4 364.8 L685.4 363.8 L685.4 362.9 L685.5 362.0 L685.5 361.0 L685.5 360.1 L685.5 359.1 L685.5 358.1 L685.5 357.2 L685.6 356.2 L685.6 355.2 L685.6 354.2 L685.6 353.3 L685.6 352.3 L685.6 351.3 L685.6 350.3 L685.6 349.2 L685.6 348.2 L685.6 347.2 L685.6 346.2 L685.7 345.2 L685.7 344.1 L685.7 343.1 L685.7 342.0 L685.7 341.0 L685.6 339.9 L685.6 338.8 L685.6 337.7 L685.6 336.7 L685.6 335.6 L685.6 334.5 L685.6 333.4 L685.6 332.3 L685.6 331.2 L685.6 330.0 L685.5 328.9 L685.5 327.8 L685.5 326.6 L685.5 325.5 L685.4 324.3 L685.4 323.1 L685.4 322.0 L685.4 320.8 L685.3 319.6 L685.3 318.4 L685.2 317.2 L685.2 316.0 L685.2 314.8 L685.1 313.5 L685.1 312.3 L685.0 311.1 L684.9 309.8 L684.9 308.5 L684.8 307.3 L684.8 306.0 L684.7 304.7 L684.6 303.4 L684.5 302.1 L684.5 300.8 L684.4 299.5 L684.3 298.1 L684.2 296.8 L684.1 295.4 L684.0 294.1 L683.9 292.7 L683.8 291.3 L683.7 289.9 L683.5 288.5 L683.4 287.1 L683.3 285.6 L683.2 284.2 L683.0 282.7 L682.9 281.3 L682.7 279.8 L682.5 278.3 L682.4 276.8 L682.2 275.3 L682.0 273.8 L681.8 272.2 L681.6 270.7 L681.4 269.1 L681.2 267.5 L681.0 265.9 L680.8 264.3 L680.5 262.7 L680.3 261.1 L680.0 259.4 L679.7 257.8 L679.4 256.1 L679.2 254.4 L678.8 252.7 L678.5 250.9 L678.2 249.2 L677.9 247.4 L677.5 245.6 L677.1 243.8 L676.7 242.0 L676.3 240.2 L675.9 238.3 L675.5 236.5 L675.0 234.6 L674.5 232.7 L674.0 230.7 L673.5 228.8 L673.0 226.8 L672.4 224.8 L671.9 222.8 L671.3 220.8 L670.6 218.7 L670.0 216.6 L669.3 214.5 L668.6 212.4 L667.8 210.2 L667.1 208.0 L666.3 205.8 L665.4 203.6 L664.5 201.3 L663.6 199.0 L662.7 196.7 L661.7 194.4 L660.6 192.0 L659.6 189.6 L658.4 187.1 L657.2 184.6 L656.0 182.1 L654.7 179.6 L653.4 177.0 L652.0 174.4 L650.5 171.7 L649.0 169.0 L647.4 166.2 L645.7 163.5 L643.9 160.6 L642.1 157.8 L640.2 154.8 L638.2 151.9 L636.1 148.9 L633.9 145.8 L631.6 142.7 L629.3 139.5 L626.8 136.3 L624.2 133.0 L621.5 129.6 L618.7 126.2 L615.7 122.8 L612.7 119.2 L609.5 115.6 L606.2 111.9 L602.8 108.2 L599.2 104.3 L595.5 100.4 L591.7 96.4 L587.8 92.3 L583.7 88.1 L579.5 83.8 L575.1 79.4 L570.7 74.9"/>
<path d="M687.4 503.8 L687.4 503.4 L687.5 502.9 L687.5 502.5 L687.5 502.1 L687.6 501.6 L687.6 501.2 L687.7 500.7 L687.7 500.3 L687.7 499.8 L687.8 499.4 L687.8 499.0 L687.8 498.5 L687.9 498.1 L687.9 497.6 L688.0 497.2 L688.0 496.7 L688.0 496.3 L688.1 495.8 L688.1 495.4 L688.2 494.9 L688.2 494.4 L688.2 494.0 L688.3 493.5 L688.3 493.1 L688.3 492.6 L688.3 492.1 L688.4 491.7 L688.4 491.2 L688.4 490.7 L688.5 490.3 L688.5 489.8 L688.5 489.3 L688.6 488.9 L688.6 488.4 L688.6 487.9 L688.6 487.5 L688.7 487.0 L688.7 486.5 L688.7 486.0 L688.8 485.5 L688.8 485.1 L688.8 484.6 L688.9 484.1 L688.9 483.6 L688.9 483.1 L689.0 482.6 L689.0 482.2 L689.0 481.7 L689.1 481.2 L689.1 480.7 L689.1 480.2 L689.1 479.7 L689.2 479.2 L689.2 478.7 L689.2 478.2 L689.3 477.7 L689.3 477.2 L689.3 476.7 L689.4 476.2 L689.4 475.7 L689.4 475.2 L689.5 474.7 L689.5 474.2 L689.6 473.6 L689.6 473.1 L689.6 472.6 L689.7 472.1 L689.7 471.6 L689.7 471.1 L689.8 470.5 L689.8 470.0 L689.8 469.5 L689.9 469.0 L689.9 468.4 L689.9 467.9 L690.0 467.4 L690.0 466.9 L690.0 466.3 L690.1 465.8 L690.1 465.3 L690.2 464.7 L690.2 464.2 L690.2 463.6 L690.3 463.1 L690.3 462.6 L690.3 462.0 L690.4 461.5 L690.4 460.9 L690.5 460.4 L690.5 459.8 L690.5 459.3 L690.6 458.7 L690.6 458.1 L690.6 457.6 L690.7 457.0 L690.7 456.5 L690.8 455.9 L690.8 455.3 L690.8 454.8 L690.9 454.2 L690.9 453.6 L691.0 453.1 L691.0 452.5 L691.0 451.9 L691.1 451.3 L691.1 450.7 L691.2 450.2 L691.2 449.6 L691.2 449.0 L691.3 448.4 L691.3 447.8 L691.4 447.2 L691.4 446.6 L691.4 446.0 L691.5 445.4 L691.5 444.8 L691.6 444.2 L691.6 443.6 L691.6 443.0 L691.7 442.4 L691.7 441.8 L691.8 441.2 L691.8 440.6 L691.9 440.0 L691.9 439.4 L691.9 438.7 L692.0 438.1 L692.0 437.5 L692.1 436.9 L692.1 436.2 L692.2 435.6 L692.2 435.0 L692.2 434.3 L692.3 433.7 L692.3 433.1 L692.4 432.4 L692.4 431.8 L692.5 431.1 L692.5 430.5 L692.6 429.8 L692.6 429.2 L692.6 428.5 L692.7 427.9 L692.7 427.2 L692.8 426.6 L692.8 425.9 L692.9 425.2 L692.9 424.6 L693.0 423.9 L693.0 423.2 L693.1 422.5 L693.1 421.9 L693.1 421.2 L693.2 420.5 L693.2 419.8 L693.3 419.1 L693.3 418.4 L693.4 417.7 L693.4 417.0 L693.5 416.3 L693.5 415.6 L693.6 414.9 L693.6 414.2 L693.7 413.5 L693.7 412.8 L693.8 412.1 L693.8 411.3 L693.8 410.6 L693.9 409.9 L693.9 409.2 L694.0 408.4 L694.0 407.7 L694.1 407.0 L694.1 406.2 L694.2 405.5 L694.2 404.7 L694.3 404.0 L694.3 403.2 L694.4 402.5 L694.4 401.7 L694.5 401.0 L694.5 400.2 L694.6 399.4 L694.6 398.7 L694.7 397.9 L694.7 397.1 L694.8 396.3 L694.8 395.5 L694.9 394.8 L694.9 394.0 L695.0 393.2 L695.0 392.4 L695.0 391.6 L695.1 390.8 L695.1 390.0 L695.2 389.1 L695.2 388.3 L695.3 387.5 L695.3 386.7 L695.4 385.9 L695.4 385.0 L695.5 384.2 L695.5 383.3 L695.6 382.5 L695.6 381.7 L695.7 380.8 L695.7 380.0 L695.8 379.1 L695.8 378.2 L695.9 377.4 L695.9 376.5 L695.9 375.6 L696.0 374.7 L696.0 373.9 L696.1 373.0 L696.1 372.1 L696.2 371.2 L696.2 370.3 L696.3 369.4 L696.3 368.5 L696.4 367.6 L696.4 366.6 L696.4 365.7 L696.5 364.8 L696.5 363.8 L696.6 362.9 L696.6 362.0 L696.7 361.0 L696.7 360.1 L696.7 359.1 L696.8 358.1 L696.8 357.2 L696.9 356.2 L696.9 355.2 L696.9 354.2 L697.0 353.3 L697.0 352.3 L697.0 351.3 L697.1 350.3 L697.1 349.2 L697.2 348.2 L697.2 347.2 L697.2 346.2 L697.3 345.2 L697.3 344.1 L697.3 343.1 L697.4 342.0 L697.4 341.0 L697.4 339.9 L697.4 338.8 L697.5 337.7 L697.5 336.7 L697.5 335.6 L697.6 334.5 L697.6 333.4 L697.6 332.3 L697.6 331.2 L697.6 330.0 L697.7 328.9 L697.7 327.8 L697.7 326.6 L697.7 325.5 L697.7 324.3 L697.7 323.1 L697.8 322.0 L697.8 320.8 L697.8 319.6 L697.8 318.4 L697.8 317.2 L697.8 316.0 L697.8 314.8 L697.8 313.5 L697.8 312.3 L697.8 311.1 L697.8 309.8 L697.8 308.5 L697.8 307.3 L697.7 306.0 L697.7 304.7 L697.7 303.4 L697.7 302.1 L697.7 300.8 L697.6 299.5 L697.6 298.1 L697.6 296.8 L697.5 295.4 L697.5 294.1 L697.5 292.7 L697.4 291.3 L697.4 289.9 L697.3 288.5 L697.3 287.1 L697.2 285.6 L697.1 284.2 L697.1 282.7 L697.0 281.3 L696.9 279.8 L696.8 278.3 L696.7 276.8 L696.6 275.3 L696.5 273.8 L696.4 272.2 L696.3 270.7 L696.2 269.1 L696.1 267.5 L696.0 265.9 L695.8 264.3 L695.7 262.7 L695.5 261.1 L695.4 259.4 L695.2 257.8 L695.0 256.1 L694.8 254.4 L694.7 252.7 L694.5 250.9 L694.2 249.2 L694.0 247.4 L693.8 245.6 L693.5 243.8 L693.3 242.0 L693.0 240.2 L692.7 238.3 L692.4 236.5 L692.1 234.6 L691.8 232.7 L691.5 230.7 L691.1 228.8 L690.7 226.8 L690.4 224.8 L689.9 222.8 L689.5 220.8 L689.1 218.7 L688.6 216.6 L688.1 214.5 L687.6 212.4 L687.1 210.2 L686.5 208.0 L685.9 205.8 L685.3 203.6 L684.7 201.3 L684.0 199.0 L683.3 196.7 L682.5 194.4 L681.8 192.0 L680.9 189.6 L680.1 187.1 L679.2 184.6 L678.2 182.1 L677.3 179.6 L676.2 177.0 L675.1 174.4 L674.0 171.7 L672.8 169.0 L671.5 166.2 L670.2 163.5 L668.8 160.6 L667.4 157.8 L665.8 154.8 L664.2 151.9 L662.5 148.9 L660.7 145.8 L658.9 142.7 L656.9 139.5 L654.8 136.3 L652.7 133.0 L650.4 129.6 L648.0 126.2 L645.5 122.8 L642.8 119.2 L640.0 115.6 L637.1 111.9 L634.1 108.2 L630.9 104.3 L627.6 100.4 L624.1 96.4 L620.4 92.3 L616.6 88.1 L612.7 83.8 L608.5 79.4 L604.2 74.9"/>
<path d="M696.0 503.8 L696.0 503.4 L696.0 502.9 L696.1 502.5 L696.1 502.1 L696.2 501.6 L696.2 501.2 L696.3 500.7 L696.3 500.3 L696.3 499.8 L696.4 499.4 L696.4 499.0 L696.5 498.5 L696.5 498.1 L696.6 497.6 L696.6 497.2 L696.7 496.7 L696.7 496.3 L696.7 495.8 L696.8 495.4 L696.8 494.9 L696.9 494.4 L696.9 494.0 L696.9 493.5 L696.9 493.1 L697.0 492.6 L697.0 492.1 L697.0 491.7 L697.0 491.2 L697.1 490.7 L697.1 490.3 L697.1 489.8 L697.2 489.3 L697.2 488.9 L697.2 488.4 L697.2 487.9 L697.3 487.5 L697.3 487.0 L697.3 486.5 L697.3 486.0 L697.4 485.5 L697.4 485.1 L697.4 484.6 L697.5 484.1 L697.5 483.6 L697.5 483.1 L697.5 482.6 L697.6 482.2 L697.6 481.7 L697.6 481.2 L697.7 480.7 L697.7 480.2 L697.7 479.7 L697.8 479.2 L697.8 478.7 L697.8 478.2 L697.8 477.7 L697.9 477.2 L697.9 476.7 L697.9 476.2 L698.0 475.7 L698.0 475.2 L698.0 474.7 L698.1 474.2 L698.1 473.6 L698.1 473.1 L698.2 472.6 L698.2 472.1 L698.2 471.6 L698.3 471.1 L698.3 470.5 L698.3 470.0 L698.4 469.5 L698.4 469.0 L698.4 468.4 L698.5 467.9 L698.5 467.4 L698.5 466.9 L698.6 466.3 L698.6 465.8 L698.6 465.3 L698.7 464.7 L698.7 464.2 L698.7 463.6 L698.8 463.1 L698.8 462.6 L698.8 462.0 L698.9 461.5 L698.9 460.9 L698.9 460.4 L699.0 459.8 L699.0 459.3 L699.0 458.7 L699.1 458.1 L699.1 457.6 L699.2 457.0 L699.2 456.5 L699.2 455.9 L699.3 455.3 L699.3 454.8 L699.3 454.2 L699.4 453.6 L699.4 453.1 L699.4 452.5 L699.5 451.9 L699.5 451.3 L699.6 450.7 L699.6 450.2 L699.6 449.6 L699.7 449.0 L699.7 448.4 L699.8 447.8 L699.8 447.2 L699.8 446.6 L699.9 446.0 L699.9 445.4 L700.0 444.8 L700.0 444.2 L700.0 443.6 L700.1 443.0 L700.1 442.4 L700.2 441.8 L700.2 441.2 L700.2 440.6 L700.3 440.0 L700.3 439.4 L700.4 438.7 L700.4 438.1 L700.4 437.5 L700.5 436.9 L700.5 436.2 L700.6 435.6 L700.6 435.0 L700.7 434.3 L700.7 433.7 L700.7 433.1 L700.8 432.4 L700.8 431.8 L700.9 431.1 L700.9 430.5 L701.0 429.8 L701.0 429.2 L701.1 428.5 L701.1 427.9 L701.1 427.2 L701.2 426.6 L701.2 425.9 L701.3 425.2 L701.3 424.6 L701.4 423.9 L701.4 423.2 L701.5 422.5 L701.5 421.9 L701.6 421.2 L701.6 420.5 L701.6 419.8 L701.7 419.1 L701.7 418.4 L701.8 417.7 L701.8 417.0 L701.9 416.3 L701.9 415.6 L702.0 414.9 L702.0 414.2 L702.1 413.5 L702.1 412.8 L702.2 412.1 L702.2 411.3 L702.3 410.6 L702.3 409.9 L702.4 409.2 L702.4 408.4 L702.5 407.7 L702.5 407.0 L702.6 406.2 L702.6 405.5 L702.7 404.7 L702.7 404.0 L702.8 403.2 L702.8 402.5 L702.9 401.7 L702.9 401.0 L703.0 400.2 L703.0 399.4 L703.1 398.7 L703.1 397.9 L703.2 397.1 L703.2 396.3 L703.3 395.5 L703.3 394.8 L703.4 394.0 L703.4 393.2 L703.5 392.4 L703.5 391.6 L703.6 390.8 L703.6 390.0 L703.7 389.1 L703.7 388.3 L703.8 387.5 L703.8 386.7 L703.9 385.9 L703.9 385.0 L704.0 384.2 L704.0 383.3 L704.1 382.5 L704.1 381.7 L704.2 380.8 L704.2 380.0 L704.3 379.1 L704.3 378.2 L704.4 377.4 L704.4 376.5 L704.5 375.6 L704.5 374.7 L704.6 373.9 L704.6 373.0 L704.7 372.1 L704.8 371.2 L704.8 370.3 L704.9 369.4 L704.9 368.5 L705.0 367.6 L705.0 366.6 L705.1 365.7 L705.1 364.8 L705.2 363.8 L705.2 362.9 L705.3 362.0 L705.3 361.0 L705.4 360.1 L705.4 359.1 L705.5 358.1 L705.5 357.2 L705.6 356.2 L705.6 355.2 L705.7 354.2 L705.7 353.3 L705.8 352.3 L705.8 351.3 L705.9 350.3 L705.9 349.2 L706.0 348.2 L706.0 347.2 L706.0 346.2 L706.1 345.2 L706.1 344.1 L706.2 343.1 L706.2 342.0 L706.3 341.0 L706.3 339.9 L706.4 338.8 L706.4 337.7 L706.4 336.7 L706.5 335.6 L706.5 334.5 L706.6 333.4 L706.6 332.3 L706.7 331.2 L706.7 330.0 L706.7 328.9 L706.8 327.8 L706.8 326.6 L706.8 325.5 L706.9 324.3 L706.9 323.1 L706.9 322.0 L707.0 320.8 L707.0 319.6 L707.0 318.4 L707.1 317.2 L707.1 316.0 L707.1 314.8 L707.1 313.5 L707.2 312.3 L707.2 311.1 L707.2 309.8 L707.2 308.5 L707.2 307.3 L707.3 306.0 L707.3 304.7 L707.3 303.4 L707.3 302.1 L707.3 300.8 L707.3 299.5 L707.3 298.1 L707.3 296.8 L707.3 295.4 L707.3 294.1 L707.3 292.7 L707.3 291.3 L707.3 289.9 L707.3 288.5 L707.3 287.1 L707.2 285.6 L707.2 284.2 L707.2 282.7 L707.2 281.3 L707.1 279.8 L707.1 278.3 L707.1 276.8 L707.0 275.3 L707.0 273.8 L706.9 272.2 L706.9 270.7 L706.8 269.1 L706.7 267.5 L706.7 265.9 L706.6 264.3 L706.5 262.7 L706.4 261.1 L706.3 259.4 L706.2 257.8 L706.1 256.1 L706.0 254.4 L705.9 252.7 L705.8 250.9 L705.7 249.2 L705.5 247.4 L705.4 245.6 L705.2 243.8 L705.0 242.0 L704.9 240.2 L704.7 238.3 L704.5 236.5 L704.3 234.6 L704.1 232.7 L703.8 230.7 L703.6 228.8 L703.3 226.8 L703.1 224.8 L702.8 222.8 L702.5 220.8 L702.2 218.7 L701.8 216.6 L701.5 214.5 L701.1 212.4 L700.8 210.2 L700.3 208.0 L699.9 205.8 L699.5 203.6 L699.0 201.3 L698.5 199.0 L698.0 196.7 L697.4 194.4 L696.9 192.0 L696.2 189.6 L695.6 187.1 L694.9 184.6 L694.2 182.1 L693.5 179.6 L692.7 177.0 L691.9 174.4 L691.0 171.7 L690.1 169.0 L689.1 166.2 L688.1 163.5 L687.0 160.6 L685.8 157.8 L684.6 154.8 L683.4 151.9 L682.0 148.9 L680.6 145.8 L679.1 142.7 L677.5 139.5 L675.9 136.3 L674.1 133.0 L672.2 129.6 L670.2 126.2 L668.2 122.8 L665.9 119.2 L663.6 115.6 L661.1 111.9 L658.5 108.2 L655.8 104.3 L652.9 100.4 L649.8 96.4 L646.6 92.3 L643.2 88.1 L639.6 83.8 L635.8 79.4 L631.8 74.9"/>
</g>
<g stroke="#64009a" stroke-dasharray="8 9">
<path d="M147.7 503.8 L149.2 502.1 L150.7 500.3 L152.2 498.5 L153.8 496.7 L155.3 494.9 L156.9 493.1 L158.5 491.2 L160.1 489.3 L161.7 487.5 L163.3 485.5 L165.0 483.6 L166.7 481.7 L168.4 479.7 L170.1 477.7 L171.8 475.7 L173.6 473.6 L175.3 471.6 L177.1 469.5 L178.9 467.4 L180.8 465.3 L182.6 463.1 L184.5 460.9 L186.4 458.7 L188.4 456.5 L190.3 454.2 L192.3 451.9 L194.3 449.6 L196.3 447.2 L198.4 444.8 L200.5 442.4 L202.6 440.0 L204.8 437.5 L206.9 435.0 L209.2 432.4 L211.4 429.8 L213.7 427.2 L216.0 424.6 L218.3 421.9 L220.7 419.1 L223.1 416.3 L225.6 413.5 L228.1 410.6 L230.6 407.7 L233.2 404.7 L235.9 401.7 L238.5 398.7 L241.3 395.5 L244.0 392.4 L246.8 389.1 L249.7 385.9 L252.7 382.5 L255.6 379.1 L258.7 375.6 L261.8 372.1 L265.0 368.5 L268.2 364.8 L271.5 361.0 L274.9 357.2 L278.3 353.3 L281.9 349.2 L285.5 345.2 L289.2 341.0 L293.0 336.7 L296.8 332.3 L300.8 327.8 L304.9 323.1 L309.1 318.4 L313.4 313.5 L317.9 308.5 L322.4 303.4 L327.1 298.1 L332.0 292.7 L337.0 287.1 L342.1 281.3 L347.5 275.3 L353.0 269.1 L358.7 262.7 L364.6 256.1 L370.8 249.2 L377.2 242.0 L383.9 234.6 L390.9 226.8 L398.2 218.7 L405.8 210.2 L413.9 201.3 L422.3 192.0 L431.3 182.1 L440.7 171.7 L450.8 160.6 L461.5 148.9 L473.0 136.3 L485.3 122.8 L498.7 108.2 L513.3 92.3 L529.3 74.9"/>
<path d="M193.9 503.8 L195.4 502.1 L196.8 500.3 L198.3 498.5 L199.8 496.7 L201.3 494.9 L202.8 493.1 L204.4 491.2 L205.9 489.3 L207.5 487.5 L209.1 485.5 L210.7 483.6 L212.3 481.7 L214.0 479.7 L215.7 477.7 L217.3 475.7 L219.0 473.6 L220.8 471.6 L222.5 469.5 L224.3 467.4 L226.1 465.3 L227.9 463.1 L229.7 460.9 L231.6 458.7 L233.4 456.5 L235.3 454.2 L237.3 451.9 L239.2 449.6 L241.2 447.2 L243.2 444.8 L245.2 442.4 L247.3 440.0 L249.4 437.5 L251.5 435.0 L253.7 432.4 L255.9 429.8 L258.1 427.2 L260.3 424.6 L262.6 421.9 L264.9 419.1 L267.3 416.3 L269.7 413.5 L272.1 410.6 L274.6 407.7 L277.1 404.7 L279.7 401.7 L282.3 398.7 L284.9 395.5 L287.6 392.4 L290.4 389.1 L293.2 385.9 L296.0 382.5 L299.0 379.1 L301.9 375.6 L305.0 372.1 L308.0 368.5 L311.2 364.8 L314.4 361.0 L317.7 357.2 L321.1 353.3 L324.5 349.2 L328.1 345.2 L331.7 341.0 L335.4 336.7 L339.2 332.3 L343.0 327.8 L347.0 323.1 L351.1 318.4 L355.3 313.5 L359.7 308.5 L364.1 303.4 L368.7 298.1 L373.4 292.7 L378.3 287.1 L383.4 281.3 L388.6 275.3 L394.0 269.1 L399.6 262.7 L405.4 256.1 L411.4 249.2 L417.7 242.0 L424.2 234.6 L431.0 226.8 L438.2 218.7 L445.7 210.2 L453.5 201.3 L461.8 192.0 L470.6 182.1 L479.8 171.7 L489.7 160.6 L500.2 148.9 L511.4 136.3 L523.5 122.8 L536.6 108.2 L550.9 92.3 L566.6 74.9"/>
<path d="M260.0 503.8 L261.4 502.1 L262.8 500.3 L264.2 498.5 L265.6 496.7 L267.1 494.9 L268.5 493.1 L270.0 491.2 L271.5 489.3 L273.0 487.5 L274.5 485.5 L276.1 483.6 L277.6 481.7 L279.2 479.7 L280.8 477.7 L282.4 475.7 L284.0 473.6 L285.7 471.6 L287.3 469.5 L289.0 467.4 L290.8 465.3 L292.5 463.1 L294.2 460.9 L296.0 458.7 L297.8 456.5 L299.6 454.2 L301.5 451.9 L303.4 449.6 L305.3 447.2 L307.2 444.8 L309.1 442.4 L311.1 440.0 L313.1 437.5 L315.2 435.0 L317.2 432.4 L319.3 429.8 L321.5 427.2 L323.6 424.6 L325.8 421.9 L328.0 419.1 L330.3 416.3 L332.6 413.5 L334.9 410.6 L337.3 407.7 L339.7 404.7 L342.2 401.7 L344.7 398.7 L347.3 395.5 L349.9 392.4 L352.5 389.1 L355.2 385.9 L357.9 382.5 L360.7 379.1 L363.6 375.6 L366.5 372.1 L369.5 368.5 L372.5 364.8 L375.6 361.0 L378.8 357.2 L382.0 353.3 L385.4 349.2 L388.7 345.2 L392.2 341.0 L395.8 336.7 L399.4 332.3 L403.2 327.8 L407.0 323.1 L411.0 318.4 L415.0 313.5 L419.2 308.5 L423.5 303.4 L427.9 298.1 L432.5 292.7 L437.2 287.1 L442.1 281.3 L447.1 275.3 L452.3 269.1 L457.7 262.7 L463.3 256.1 L469.2 249.2 L475.2 242.0 L481.5 234.6 L488.2 226.8 L495.1 218.7 L502.3 210.2 L509.9 201.3 L517.9 192.0 L526.4 182.1 L535.4 171.7 L544.9 160.6 L555.1 148.9 L566.0 136.3 L577.7 122.8 L590.4 108.2 L604.3 92.3 L619.5 74.9"/>
<path d="M314.1 503.8 L315.5 502.1 L316.8 500.3 L318.2 498.5 L319.6 496.7 L321.0 494.9 L322.4 493.1 L323.8 491.2 L325.2 489.3 L326.7 487.5 L328.1 485.5 L329.6 483.6 L331.1 481.7 L332.6 479.7 L334.2 477.7 L335.7 475.7 L337.3 473.6 L338.9 471.6 L340.5 469.5 L342.1 467.4 L343.8 465.3 L345.4 463.1 L347.1 460.9 L348.8 458.7 L350.6 456.5 L352.3 454.2 L354.1 451.9 L355.9 449.6 L357.7 447.2 L359.6 444.8 L361.5 442.4 L363.4 440.0 L365.3 437.5 L367.3 435.0 L369.3 432.4 L371.3 429.8 L373.3 427.2 L375.4 424.6 L377.5 421.9 L379.7 419.1 L381.9 416.3 L384.1 413.5 L386.4 410.6 L388.7 407.7 L391.0 404.7 L393.4 401.7 L395.8 398.7 L398.3 395.5 L400.8 392.4 L403.3 389.1 L405.9 385.9 L408.6 382.5 L411.3 379.1 L414.0 375.6 L416.8 372.1 L419.7 368.5 L422.7 364.8 L425.7 361.0 L428.7 357.2 L431.9 353.3 L435.1 349.2 L438.3 345.2 L441.7 341.0 L445.2 336.7 L448.7 332.3 L452.3 327.8 L456.0 323.1 L459.9 318.4 L463.8 313.5 L467.8 308.5 L472.0 303.4 L476.3 298.1 L480.7 292.7 L485.3 287.1 L490.0 281.3 L494.9 275.3 L499.9 269.1 L505.2 262.7 L510.6 256.1 L516.3 249.2 L522.2 242.0 L528.3 234.6 L534.7 226.8 L541.4 218.7 L548.5 210.2 L555.9 201.3 L563.6 192.0 L571.9 182.1 L580.6 171.7 L589.9 160.6 L599.8 148.9 L610.4 136.3 L621.8 122.8 L634.2 108.2 L647.7 92.3 L662.6 74.9"/>
<path d="M347.7 503.8 L349.0 502.1 L350.3 500.3 L351.6 498.5 L353.0 496.7 L354.3 494.9 L355.7 493.1 L357.1 491.2 L358.5 489.3 L359.9 487.5 L361.3 485.5 L362.8 483.6 L364.2 481.7 L365.7 479.7 L367.2 477.7 L368.7 475.7 L370.2 473.6 L371.8 471.6 L373.4 469.5 L374.9 467.4 L376.6 465.3 L378.2 463.1 L379.8 460.9 L381.5 458.7 L383.2 456.5 L384.9 454.2 L386.6 451.9 L388.4 449.6 L390.2 447.2 L392.0 444.8 L393.8 442.4 L395.7 440.0 L397.6 437.5 L399.5 435.0 L401.5 432.4 L403.4 429.8 L405.4 427.2 L407.5 424.6 L409.5 421.9 L411.6 419.1 L413.8 416.3 L415.9 413.5 L418.1 410.6 L420.4 407.7 L422.7 404.7 L425.0 401.7 L427.4 398.7 L429.8 395.5 L432.2 392.4 L434.7 389.1 L437.3 385.9 L439.8 382.5 L442.5 379.1 L445.2 375.6 L447.9 372.1 L450.8 368.5 L453.6 364.8 L456.6 361.0 L459.6 357.2 L462.6 353.3 L465.8 349.2 L469.0 345.2 L472.3 341.0 L475.6 336.7 L479.1 332.3 L482.7 327.8 L486.3 323.1 L490.0 318.4 L493.9 313.5 L497.8 308.5 L501.9 303.4 L506.1 298.1 L510.5 292.7 L514.9 287.1 L519.6 281.3 L524.3 275.3 L529.3 269.1 L534.4 262.7 L539.8 256.1 L545.3 249.2 L551.1 242.0 L557.1 234.6 L563.4 226.8 L570.0 218.7 L576.9 210.2 L584.2 201.3 L591.8 192.0 L599.9 182.1 L608.5 171.7 L617.6 160.6 L627.3 148.9 L637.7 136.3 L649.0 122.8 L661.2 108.2 L674.5 92.3 L689.1 74.9"/>
<path d="M372.4 503.8 L373.6 502.1 L374.9 500.3 L376.2 498.5 L377.5 496.7 L378.9 494.9 L380.2 493.1 L381.6 491.2 L382.9 489.3 L384.3 487.5 L385.7 485.5 L387.1 483.6 L388.6 481.7 L390.0 479.7 L391.5 477.7 L393.0 475.7 L394.5 473.6 L396.0 471.6 L397.5 469.5 L399.1 467.4 L400.7 465.3 L402.3 463.1 L403.9 460.9 L405.5 458.7 L407.2 456.5 L408.9 454.2 L410.6 451.9 L412.3 449.6 L414.1 447.2 L415.8 444.8 L417.6 442.4 L419.5 440.0 L421.3 437.5 L423.2 435.0 L425.1 432.4 L427.0 429.8 L429.0 427.2 L431.0 424.6 L433.0 421.9 L435.1 419.1 L437.2 416.3 L439.3 413.5 L441.5 410.6 L443.7 407.7 L446.0 404.7 L448.2 401.7 L450.6 398.7 L452.9 395.5 L455.3 392.4 L457.8 389.1 L460.3 385.9 L462.8 382.5 L465.4 379.1 L468.1 375.6 L470.8 372.1 L473.6 368.5 L476.4 364.8 L479.3 361.0 L482.2 357.2 L485.2 353.3 L488.3 349.2 L491.5 345.2 L494.7 341.0 L498.0 336.7 L501.4 332.3 L504.9 327.8 L508.5 323.1 L512.2 318.4 L516.0 313.5 L519.9 308.5 L523.9 303.4 L528.0 298.1 L532.3 292.7 L536.7 287.1 L541.3 281.3 L546.0 275.3 L550.9 269.1 L555.9 262.7 L561.2 256.1 L566.6 249.2 L572.3 242.0 L578.3 234.6 L584.5 226.8 L591.0 218.7 L597.8 210.2 L604.9 201.3 L612.5 192.0 L620.4 182.1 L628.9 171.7 L637.9 160.6 L647.5 148.9 L657.8 136.3 L668.9 122.8 L680.9 108.2 L694.0 92.3 L708.5 74.9"/>
<path d="M408.4 503.8 L409.7 502.1 L410.9 500.3 L412.2 498.5 L413.5 496.7 L414.7 494.9 L416.0 493.1 L417.4 491.2 L418.7 489.3 L420.0 487.5 L421.4 485.5 L422.8 483.6 L424.2 481.7 L425.6 479.7 L427.0 477.7 L428.4 475.7 L429.9 473.6 L431.4 471.6 L432.9 469.5 L434.4 467.4 L435.9 465.3 L437.5 463.1 L439.0 460.9 L440.6 458.7 L442.3 456.5 L443.9 454.2 L445.5 451.9 L447.2 449.6 L448.9 447.2 L450.7 444.8 L452.4 442.4 L454.2 440.0 L456.0 437.5 L457.8 435.0 L459.7 432.4 L461.6 429.8 L463.5 427.2 L465.4 424.6 L467.4 421.9 L469.4 419.1 L471.4 416.3 L473.5 413.5 L475.6 410.6 L477.8 407.7 L480.0 404.7 L482.2 401.7 L484.4 398.7 L486.7 395.5 L489.1 392.4 L491.5 389.1 L493.9 385.9 L496.4 382.5 L498.9 379.1 L501.5 375.6 L504.1 372.1 L506.8 368.5 L509.6 364.8 L512.4 361.0 L515.3 357.2 L518.2 353.3 L521.2 349.2 L524.3 345.2 L527.5 341.0 L530.7 336.7 L534.0 332.3 L537.4 327.8 L540.9 323.1 L544.5 318.4 L548.2 313.5 L552.0 308.5 L556.0 303.4 L560.0 298.1 L564.2 292.7 L568.5 287.1 L572.9 281.3 L577.5 275.3 L582.3 269.1 L587.2 262.7 L592.4 256.1 L597.7 249.2 L603.3 242.0 L609.1 234.6 L615.2 226.8 L621.5 218.7 L628.2 210.2 L635.2 201.3 L642.6 192.0 L650.4 182.1 L658.7 171.7 L667.5 160.6 L676.9 148.9 L687.0 136.3 L697.9 122.8 L709.7 108.2 L722.6 92.3 L736.7 74.9"/>
<path d="M435.0 503.8 L436.2 502.1 L437.4 500.3 L438.7 498.5 L439.9 496.7 L441.2 494.9 L442.4 493.1 L443.7 491.2 L445.0 489.3 L446.3 487.5 L447.7 485.5 L449.0 483.6 L450.4 481.7 L451.7 479.7 L453.1 477.7 L454.5 475.7 L456.0 473.6 L457.4 471.6 L458.9 469.5 L460.4 467.4 L461.9 465.3 L463.4 463.1 L464.9 460.9 L466.5 458.7 L468.1 456.5 L469.7 454.2 L471.3 451.9 L472.9 449.6 L474.6 447.2 L476.3 444.8 L478.0 442.4 L479.7 440.0 L481.5 437.5 L483.3 435.0 L485.1 432.4 L486.9 429.8 L488.8 427.2 L490.7 424.6 L492.7 421.9 L494.6 419.1 L496.6 416.3 L498.7 413.5 L500.7 410.6 L502.8 407.7 L505.0 404.7 L507.1 401.7 L509.4 398.7 L511.6 395.5 L513.9 392.4 L516.2 389.1 L518.6 385.9 L521.1 382.5 L523.6 379.1 L526.1 375.6 L528.7 372.1 L531.3 368.5 L534.0 364.8 L536.8 361.0 L539.6 357.2 L542.5 353.3 L545.4 349.2 L548.5 345.2 L551.6 341.0 L554.7 336.7 L558.0 332.3 L561.3 327.8 L564.8 323.1 L568.3 318.4 L571.9 313.5 L575.7 308.5 L579.5 303.4 L583.5 298.1 L587.6 292.7 L591.8 287.1 L596.2 281.3 L600.7 275.3 L605.4 269.1 L610.2 262.7 L615.3 256.1 L620.6 249.2 L626.0 242.0 L631.7 234.6 L637.7 226.8 L644.0 218.7 L650.5 210.2 L657.4 201.3 L664.7 192.0 L672.4 182.1 L680.5 171.7 L689.2 160.6 L698.5 148.9 L708.4 136.3 L719.1 122.8 L730.8 108.2 L743.5 92.3 L757.4 74.9"/>
<path d="M473.8 503.8 L475.0 502.1 L476.2 500.3 L477.4 498.5 L478.6 496.7 L479.8 494.9 L481.0 493.1 L482.3 491.2 L483.5 489.3 L484.8 487.5 L486.1 485.5 L487.4 483.6 L488.7 481.7 L490.0 479.7 L491.4 477.7 L492.7 475.7 L494.1 473.6 L495.5 471.6 L496.9 469.5 L498.3 467.4 L499.8 465.3 L501.2 463.1 L502.7 460.9 L504.2 458.7 L505.8 456.5 L507.3 454.2 L508.9 451.9 L510.5 449.6 L512.1 447.2 L513.7 444.8 L515.4 442.4 L517.1 440.0 L518.8 437.5 L520.5 435.0 L522.3 432.4 L524.0 429.8 L525.9 427.2 L527.7 424.6 L529.6 421.9 L531.5 419.1 L533.4 416.3 L535.4 413.5 L537.4 410.6 L539.4 407.7 L541.5 404.7 L543.6 401.7 L545.7 398.7 L547.9 395.5 L550.2 392.4 L552.4 389.1 L554.7 385.9 L557.1 382.5 L559.5 379.1 L562.0 375.6 L564.5 372.1 L567.0 368.5 L569.7 364.8 L572.3 361.0 L575.1 357.2 L577.9 353.3 L580.7 349.2 L583.7 345.2 L586.7 341.0 L589.8 336.7 L592.9 332.3 L596.2 327.8 L599.5 323.1 L603.0 318.4 L606.5 313.5 L610.1 308.5 L613.9 303.4 L617.7 298.1 L621.7 292.7 L625.8 287.1 L630.1 281.3 L634.5 275.3 L639.1 269.1 L643.8 262.7 L648.7 256.1 L653.8 249.2 L659.2 242.0 L664.7 234.6 L670.6 226.8 L676.7 218.7 L683.0 210.2 L689.8 201.3 L696.9 192.0 L704.4 182.1 L712.3 171.7 L720.8 160.6 L729.9 148.9 L739.6 136.3 L750.1 122.8 L761.5 108.2 L773.9 92.3 L787.6 74.9"/>
<path d="M502.4 503.8 L503.6 502.1 L504.7 500.3 L505.9 498.5 L507.0 496.7 L508.2 494.9 L509.4 493.1 L510.6 491.2 L511.8 489.3 L513.1 487.5 L514.3 485.5 L515.6 483.6 L516.9 481.7 L518.2 479.7 L519.5 477.7 L520.8 475.7 L522.1 473.6 L523.5 471.6 L524.9 469.5 L526.3 467.4 L527.7 465.3 L529.1 463.1 L530.5 460.9 L532.0 458.7 L533.5 456.5 L535.0 454.2 L536.5 451.9 L538.1 449.6 L539.7 447.2 L541.2 444.8 L542.9 442.4 L544.5 440.0 L546.2 437.5 L547.9 435.0 L549.6 432.4 L551.3 429.8 L553.1 427.2 L554.9 424.6 L556.7 421.9 L558.6 419.1 L560.5 416.3 L562.4 413.5 L564.3 410.6 L566.3 407.7 L568.3 404.7 L570.4 401.7 L572.5 398.7 L574.6 395.5 L576.8 392.4 L579.0 389.1 L581.3 385.9 L583.6 382.5 L585.9 379.1 L588.3 375.6 L590.8 372.1 L593.3 368.5 L595.9 364.8 L598.5 361.0 L601.1 357.2 L603.9 353.3 L606.7 349.2 L609.6 345.2 L612.5 341.0 L615.5 336.7 L618.6 332.3 L621.8 327.8 L625.1 323.1 L628.4 318.4 L631.9 313.5 L635.4 308.5 L639.1 303.4 L642.9 298.1 L646.8 292.7 L650.8 287.1 L655.0 281.3 L659.3 275.3 L663.8 269.1 L668.4 262.7 L673.2 256.1 L678.3 249.2 L683.5 242.0 L688.9 234.6 L694.7 226.8 L700.6 218.7 L706.9 210.2 L713.5 201.3 L720.5 192.0 L727.9 182.1 L735.7 171.7 L744.0 160.6 L752.9 148.9 L762.5 136.3 L772.8 122.8 L784.0 108.2 L796.2 92.3 L809.6 74.9"/>
<path d="M525.2 503.8 L526.3 502.1 L527.4 500.3 L528.6 498.5 L529.7 496.7 L530.9 494.9 L532.0 493.1 L533.2 491.2 L534.4 489.3 L535.6 487.5 L536.8 485.5 L538.1 483.6 L539.3 481.7 L540.6 479.7 L541.9 477.7 L543.2 475.7 L544.5 473.6 L545.8 471.6 L547.1 469.5 L548.5 467.4 L549.9 465.3 L551.3 463.1 L552.7 460.9 L554.1 458.7 L555.6 456.5 L557.1 454.2 L558.6 451.9 L560.1 449.6 L561.6 447.2 L563.2 444.8 L564.8 442.4 L566.4 440.0 L568.0 437.5 L569.6 435.0 L571.3 432.4 L573.0 429.8 L574.8 427.2 L576.5 424.6 L578.3 421.9 L580.1 419.1 L582.0 416.3 L583.9 413.5 L585.8 410.6 L587.7 407.7 L589.7 404.7 L591.7 401.7 L593.8 398.7 L595.9 395.5 L598.0 392.4 L600.2 389.1 L602.4 385.9 L604.7 382.5 L607.0 379.1 L609.3 375.6 L611.7 372.1 L614.2 368.5 L616.7 364.8 L619.3 361.0 L621.9 357.2 L624.6 353.3 L627.3 349.2 L630.1 345.2 L633.0 341.0 L636.0 336.7 L639.0 332.3 L642.2 327.8 L645.4 323.1 L648.7 318.4 L652.1 313.5 L655.6 308.5 L659.2 303.4 L662.9 298.1 L666.7 292.7 L670.7 287.1 L674.8 281.3 L679.0 275.3 L683.4 269.1 L688.0 262.7 L692.7 256.1 L697.7 249.2 L702.8 242.0 L708.2 234.6 L713.8 226.8 L719.7 218.7 L725.9 210.2 L732.4 201.3 L739.2 192.0 L746.5 182.1 L754.2 171.7 L762.4 160.6 L771.2 148.9 L780.6 136.3 L790.8 122.8 L801.8 108.2 L813.9 92.3 L827.2 74.9"/>
<path d="M544.2 503.8 L545.3 502.1 L546.4 500.3 L547.5 498.5 L548.6 496.7 L549.7 494.9 L550.9 493.1 L552.0 491.2 L553.2 489.3 L554.4 487.5 L555.6 485.5 L556.8 483.6 L558.0 481.7 L559.3 479.7 L560.5 477.7 L561.8 475.7 L563.1 473.6 L564.4 471.6 L565.7 469.5 L567.1 467.4 L568.4 465.3 L569.8 463.1 L571.2 460.9 L572.6 458.7 L574.0 456.5 L575.5 454.2 L576.9 451.9 L578.4 449.6 L579.9 447.2 L581.5 444.8 L583.0 442.4 L584.6 440.0 L586.2 437.5 L587.8 435.0 L589.5 432.4 L591.1 429.8 L592.8 427.2 L594.6 424.6 L596.3 421.9 L598.1 419.1 L599.9 416.3 L601.8 413.5 L603.7 410.6 L605.6 407.7 L607.5 404.7 L609.5 401.7 L611.5 398.7 L613.6 395.5 L615.7 392.4 L617.8 389.1 L620.0 385.9 L622.2 382.5 L624.5 379.1 L626.8 375.6 L629.2 372.1 L631.6 368.5 L634.1 364.8 L636.6 361.0 L639.2 357.2 L641.8 353.3 L644.5 349.2 L647.3 345.2 L650.1 341.0 L653.1 336.7 L656.1 332.3 L659.1 327.8 L662.3 323.1 L665.5 318.4 L668.9 313.5 L672.3 308.5 L675.9 303.4 L679.5 298.1 L683.3 292.7 L687.2 287.1 L691.3 281.3 L695.4 275.3 L699.8 269.1 L704.3 262.7 L709.0 256.1 L713.8 249.2 L718.9 242.0 L724.2 234.6 L729.8 226.8 L735.6 218.7 L741.7 210.2 L748.1 201.3 L754.9 192.0 L762.0 182.1 L769.6 171.7 L777.7 160.6 L786.4 148.9 L795.7 136.3 L805.8 122.8 L816.7 108.2 L828.6 92.3 L841.7 74.9"/>
<path d="M567.9 503.8 L569.0 502.1 L570.1 500.3 L571.1 498.5 L572.2 496.7 L573.3 494.9 L574.4 493.1 L575.6 491.2 L576.7 489.3 L577.9 487.5 L579.0 485.5 L580.2 483.6 L581.4 481.7 L582.6 479.7 L583.9 477.7 L585.1 475.7 L586.3 473.6 L587.6 471.6 L588.9 469.5 L590.2 467.4 L591.5 465.3 L592.9 463.1 L594.2 460.9 L595.6 458.7 L597.0 456.5 L598.4 454.2 L599.8 451.9 L601.3 449.6 L602.8 447.2 L604.3 444.8 L605.8 442.4 L607.3 440.0 L608.9 437.5 L610.5 435.0 L612.1 432.4 L613.7 429.8 L615.4 427.2 L617.1 424.6 L618.8 421.9 L620.5 419.1 L622.3 416.3 L624.1 413.5 L626.0 410.6 L627.8 407.7 L629.7 404.7 L631.7 401.7 L633.7 398.7 L635.7 395.5 L637.7 392.4 L639.8 389.1 L642.0 385.9 L644.1 382.5 L646.4 379.1 L648.6 375.6 L650.9 372.1 L653.3 368.5 L655.7 364.8 L658.2 361.0 L660.7 357.2 L663.3 353.3 L666.0 349.2 L668.7 345.2 L671.5 341.0 L674.3 336.7 L677.3 332.3 L680.3 327.8 L683.4 323.1 L686.6 318.4 L689.9 313.5 L693.2 308.5 L696.7 303.4 L700.3 298.1 L704.0 292.7 L707.8 287.1 L711.8 281.3 L715.9 275.3 L720.2 269.1 L724.6 262.7 L729.2 256.1 L734.0 249.2 L739.0 242.0 L744.2 234.6 L749.6 226.8 L755.3 218.7 L761.3 210.2 L767.6 201.3 L774.3 192.0 L781.4 182.1 L788.9 171.7 L796.8 160.6 L805.4 148.9 L814.5 136.3 L824.4 122.8 L835.2 108.2 L846.9 92.3 L859.9 74.9"/>
<path d="M599.3 503.8 L600.3 502.1 L601.3 500.3 L602.4 498.5 L603.4 496.7 L604.5 494.9 L605.6 493.1 L606.7 491.2 L607.8 489.3 L608.9 487.5 L610.0 485.5 L611.1 483.6 L612.3 481.7 L613.5 479.7 L614.7 477.7 L615.9 475.7 L617.1 473.6 L618.3 471.6 L619.5 469.5 L620.8 467.4 L622.1 465.3 L623.4 463.1 L624.7 460.9 L626.0 458.7 L627.4 456.5 L628.7 454.2 L630.1 451.9 L631.5 449.6 L632.9 447.2 L634.4 444.8 L635.9 442.4 L637.4 440.0 L638.9 437.5 L640.4 435.0 L642.0 432.4 L643.6 429.8 L645.2 427.2 L646.8 424.6 L648.5 421.9 L650.2 419.1 L651.9 416.3 L653.6 413.5 L655.4 410.6 L657.2 407.7 L659.1 404.7 L661.0 401.7 L662.9 398.7 L664.8 395.5 L666.8 392.4 L668.9 389.1 L670.9 385.9 L673.0 382.5 L675.2 379.1 L677.4 375.6 L679.7 372.1 L682.0 368.5 L684.3 364.8 L686.7 361.0 L689.2 357.2 L691.7 353.3 L694.3 349.2 L696.9 345.2 L699.6 341.0 L702.4 336.7 L705.3 332.3 L708.2 327.8 L711.2 323.1 L714.3 318.4 L717.5 313.5 L720.8 308.5 L724.2 303.4 L727.7 298.1 L731.3 292.7 L735.0 287.1 L738.9 281.3 L742.9 275.3 L747.1 269.1 L751.4 262.7 L755.9 256.1 L760.5 249.2 L765.4 242.0 L770.5 234.6 L775.8 226.8 L781.4 218.7 L787.3 210.2 L793.4 201.3 L799.9 192.0 L806.8 182.1 L814.2 171.7 L822.0 160.6 L830.3 148.9 L839.3 136.3 L849.0 122.8 L859.5 108.2 L871.1 92.3 L883.8 74.9"/>
<path d="M624.2 503.8 L625.2 502.1 L626.2 500.3 L627.2 498.5 L628.2 496.7 L629.2 494.9 L630.3 493.1 L631.3 491.2 L632.4 489.3 L633.5 487.5 L634.6 485.5 L635.7 483.6 L636.8 481.7 L637.9 479.7 L639.1 477.7 L640.3 475.7 L641.4 473.6 L642.6 471.6 L643.8 469.5 L645.1 467.4 L646.3 465.3 L647.6 463.1 L648.8 460.9 L650.1 458.7 L651.5 456.5 L652.8 454.2 L654.1 451.9 L655.5 449.6 L656.9 447.2 L658.3 444.8 L659.7 442.4 L661.2 440.0 L662.7 437.5 L664.2 435.0 L665.7 432.4 L667.2 429.8 L668.8 427.2 L670.4 424.6 L672.0 421.9 L673.7 419.1 L675.3 416.3 L677.0 413.5 L678.8 410.6 L680.6 407.7 L682.4 404.7 L684.2 401.7 L686.1 398.7 L688.0 395.5 L689.9 392.4 L691.9 389.1 L693.9 385.9 L696.0 382.5 L698.1 379.1 L700.2 375.6 L702.4 372.1 L704.7 368.5 L707.0 364.8 L709.3 361.0 L711.7 357.2 L714.2 353.3 L716.7 349.2 L719.3 345.2 L721.9 341.0 L724.7 336.7 L727.4 332.3 L730.3 327.8 L733.3 323.1 L736.3 318.4 L739.4 313.5 L742.6 308.5 L746.0 303.4 L749.4 298.1 L752.9 292.7 L756.6 287.1 L760.4 281.3 L764.3 275.3 L768.4 269.1 L772.6 262.7 L777.0 256.1 L781.6 249.2 L786.3 242.0 L791.3 234.6 L796.5 226.8 L802.0 218.7 L807.8 210.2 L813.8 201.3 L820.2 192.0 L827.0 182.1 L834.2 171.7 L841.9 160.6 L850.1 148.9 L858.9 136.3 L868.4 122.8 L878.8 108.2 L890.1 92.3 L902.6 74.9"/>
<path d="M644.8 503.8 L645.8 502.1 L646.8 500.3 L647.8 498.5 L648.8 496.7 L649.8 494.9 L650.8 493.1 L651.8 491.2 L652.9 489.3 L653.9 487.5 L655.0 485.5 L656.1 483.6 L657.2 481.7 L658.3 479.7 L659.4 477.7 L660.5 475.7 L661.7 473.6 L662.9 471.6 L664.0 469.5 L665.2 467.4 L666.4 465.3 L667.7 463.1 L668.9 460.9 L670.2 458.7 L671.5 456.5 L672.8 454.2 L674.1 451.9 L675.4 449.6 L676.8 447.2 L678.2 444.8 L679.5 442.4 L681.0 440.0 L682.4 437.5 L683.9 435.0 L685.4 432.4 L686.9 429.8 L688.4 427.2 L690.0 424.6 L691.6 421.9 L693.2 419.1 L694.8 416.3 L696.5 413.5 L698.2 410.6 L699.9 407.7 L701.7 404.7 L703.5 401.7 L705.3 398.7 L707.2 395.5 L709.1 392.4 L711.0 389.1 L713.0 385.9 L715.0 382.5 L717.1 379.1 L719.2 375.6 L721.3 372.1 L723.5 368.5 L725.8 364.8 L728.1 361.0 L730.4 357.2 L732.8 353.3 L735.3 349.2 L737.8 345.2 L740.4 341.0 L743.1 336.7 L745.9 332.3 L748.7 327.8 L751.6 323.1 L754.5 318.4 L757.6 313.5 L760.8 308.5 L764.0 303.4 L767.4 298.1 L770.9 292.7 L774.5 287.1 L778.2 281.3 L782.0 275.3 L786.0 269.1 L790.2 262.7 L794.5 256.1 L799.0 249.2 L803.7 242.0 L808.6 234.6 L813.7 226.8 L819.1 218.7 L824.8 210.2 L830.7 201.3 L837.0 192.0 L843.7 182.1 L850.8 171.7 L858.4 160.6 L866.4 148.9 L875.1 136.3 L884.5 122.8 L894.8 108.2 L905.9 92.3 L918.3 74.9"/>
<path d="M678.1 503.8 L679.0 502.1 L679.9 500.3 L680.9 498.5 L681.8 496.7 L682.8 494.9 L683.7 493.1 L684.7 491.2 L685.7 489.3 L686.7 487.5 L687.8 485.5 L688.8 483.6 L689.9 481.7 L690.9 479.7 L692.0 477.7 L693.1 475.7 L694.2 473.6 L695.3 471.6 L696.4 469.5 L697.6 467.4 L698.8 465.3 L699.9 463.1 L701.1 460.9 L702.4 458.7 L703.6 456.5 L704.8 454.2 L706.1 451.9 L707.4 449.6 L708.7 447.2 L710.0 444.8 L711.4 442.4 L712.7 440.0 L714.1 437.5 L715.5 435.0 L716.9 432.4 L718.4 429.8 L719.9 427.2 L721.4 424.6 L722.9 421.9 L724.5 419.1 L726.0 416.3 L727.7 413.5 L729.3 410.6 L731.0 407.7 L732.7 404.7 L734.4 401.7 L736.2 398.7 L738.0 395.5 L739.8 392.4 L741.7 389.1 L743.6 385.9 L745.5 382.5 L747.5 379.1 L749.5 375.6 L751.6 372.1 L753.8 368.5 L755.9 364.8 L758.2 361.0 L760.4 357.2 L762.8 353.3 L765.2 349.2 L767.6 345.2 L770.1 341.0 L772.7 336.7 L775.4 332.3 L778.1 327.8 L780.9 323.1 L783.8 318.4 L786.7 313.5 L789.8 308.5 L793.0 303.4 L796.2 298.1 L799.6 292.7 L803.1 287.1 L806.7 281.3 L810.4 275.3 L814.3 269.1 L818.4 262.7 L822.6 256.1 L826.9 249.2 L831.5 242.0 L836.3 234.6 L841.3 226.8 L846.5 218.7 L852.0 210.2 L857.8 201.3 L864.0 192.0 L870.5 182.1 L877.4 171.7 L884.7 160.6 L892.6 148.9 L901.1 136.3 L910.3 122.8 L920.3 108.2 L931.2 92.3 L943.3 74.9"/>
</g>
<g stroke="#ff0000">
<path d="M-454.5 503.8 L63.6 74.9"/>
<path d="M-386.8 503.8 L131.4 74.9"/>
<path d="M-319.0 503.8 L199.1 74.9"/>
<path d="M-251.2 503.8 L266.9 74.9"/>
<path d="M-183.5 503.8 L334.6 74.9"/>
<path d="M-115.8 503.8 L402.4 74.9"/>
<path d="M-48.0 503.8 L470.1 74.9"/>
<path d="M19.8 503.8 L537.9 74.9"/>
<path d="M87.5 503.8 L605.6 74.9"/>
<path d="M155.2 503.8 L673.4 74.9"/>
<path d="M223.0 503.8 L741.1 74.9"/>
<path d="M290.8 503.8 L808.9 74.9"/>
<path d="M358.5 503.8 L876.6 74.9"/>
<path d="M426.2 503.8 L944.4 74.9"/>
<path d="M494.0 503.8 L1012.1 74.9"/>
<path d="M561.8 503.8 L1079.9 74.9"/>
<path d="M629.5 503.8 L1147.6 74.9"/>
<path d="M697.2 503.8 L1215.4 74.9"/>
</g>
</g>
<g stroke="#000" stroke-width="1" fill="none">
<path d="M87.5 74.9 H697.0"/>
<path d="M87.5 201.3 H697.0"/>
<path d="M87.5 275.3 H697.0"/>
<path d="M87.5 327.8 H697.0"/>
<path d="M87.5 368.5 H697.0"/>
<path d="M87.5 401.7 H697.0"/>
<path d="M87.5 429.8 H697.0"/>
<path d="M87.5 454.2 H697.0"/>
<path d="M87.5 475.7 H697.0"/>
<path d="M87.5 494.9 H697.0"/>
<path d="M87.5 503.8 H697.0"/>
<path d="M87.5 74.4 V504.3"/>
</g>
<g stroke="#64009a" stroke-width="1">
<path d="M599.9 483.8 H604.0"/>
<path d="M595.5 480.9 H603.5"/>
<path d="M593.5 477.9 H603.1"/>
<path d="M592.9 474.9 H602.9"/>
<path d="M592.3 471.8 H602.6"/>
<path d="M591.7 468.7 H602.3"/>
<path d="M591.1 465.5 H602.0"/>
<path d="M590.8 462.2 H601.8"/>
<path d="M590.8 458.9 H601.5"/>
<path d="M590.8 455.6 H601.0"/>
<path d="M590.8 452.1 H600.2"/>
<path d="M590.8 448.6 H599.4"/>
<path d="M590.8 445.1 H598.6"/>
<path d="M590.8 441.5 H597.8"/>
<path d="M590.8 437.7 H597.4"/>
<path d="M590.8 434.0 H597.0"/>
<path d="M590.8 430.1 H596.6"/>
<path d="M588.2 426.2 H596.0"/>
<path d="M585.1 422.1 H595.3"/>
<path d="M581.8 418.0 H594.5"/>
<path d="M578.5 413.8 H593.8"/>
<path d="M575.2 409.5 H593.0"/>
<path d="M571.7 405.0 H592.0"/>
<path d="M568.4 400.5 H590.8"/>
<path d="M566.1 395.9 H589.6"/>
<path d="M563.9 391.1 H588.4"/>
<path d="M561.7 386.2 H587.0"/>
<path d="M559.5 381.1 H585.5"/>
<path d="M557.2 376.0 H584.0"/>
<path d="M554.9 370.6 H582.4"/>
<path d="M551.9 365.2 H580.6"/>
<path d="M548.3 359.5 H578.7"/>
<path d="M544.7 353.7 H576.6"/>
<path d="M541.4 347.6 H573.5"/>
<path d="M538.5 341.4 H570.4"/>
<path d="M535.3 334.9 H566.8"/>
<path d="M532.0 328.2 H563.1"/>
<path d="M525.8 321.3 H559.0"/>
<path d="M519.8 314.0 H554.5"/>
<path d="M513.6 306.5 H549.4"/>
<path d="M507.1 298.7 H543.8"/>
<path d="M500.8 290.5 H537.1"/>
<path d="M494.2 281.9 H530.7"/>
<path d="M486.3 272.8 H523.6"/>
<path d="M477.9 263.4 H514.5"/>
<path d="M470.3 253.4 H506.2"/>
<path d="M461.6 242.8 H495.8"/>
<path d="M452.1 231.5 H484.7"/>
<path d="M443.1 219.5 H471.7"/>
<path d="M432.9 206.7 H457.1"/>
<path d="M422.7 192.9 H444.1"/>
<path d="M413.6 178.0 H429.5"/>
<path d="M401.2 161.8 H411.9"/>
</g>
<g fill="none" stroke-linejoin="round" stroke-linecap="round">
<path stroke="#64009a" stroke-width="1.8" d="M335.6 74.6 L365.1 109.5 L392.6 143.6 L410.6 161.5 L420.2 171.1 L428.0 177.5 L442.8 192.6 L452.0 201.9 L455.6 206.3 L470.3 219.2 L483.6 231.4 L494.3 242.2 L501.1 250.0 L505.3 253.4 L513.1 262.9 L525.0 275.4 L536.1 290.5 L542.5 298.2 L552.6 312.5 L560.0 324.5 L568.7 340.0 L576.1 354.7 L581.6 371.3 L587.1 389.7 L591.7 408.0 L595.4 428.3 L596.7 441.1 L600.3 456.8 L602.2 478.8 L603.7 488.1 L609.5 490.8 L619.7 496.3"/>
<path stroke="#ff0000" stroke-width="1" d="M395.0 74.6 L394.5 106.8"/>
<path stroke="#ff0000" stroke-width="1.8" d="M394.5 106.8 L393.6 110.5 L393.2 149.0 L400.5 160.9 L413.3 177.5 L422.5 192.6 L429.0 201.9 L432.6 206.3 L442.8 219.2 L452.0 231.4 L461.1 242.2 L470.3 253.4 L475.9 261.1 L486.4 273.0 L493.8 281.3 L506.7 298.2 L526.9 322.6 L531.5 327.2 L537.0 338.3 L543.0 351.0 L554.0 368.5 L563.2 389.7 L568.7 401.2 L579.8 415.4 L589.9 428.3 L590.8 430.1 L590.8 464.1 L593.0 475.2 L593.9 479.8 L602.2 485.3 L609.5 490.8 L619.7 496.3"/>
<path stroke="#0000ff" stroke-width="1" d="M362.3 74.6 L365.0 106.8"/>
<path stroke="#0000ff" stroke-width="1.8" d="M365.0 106.8 L368.7 146.3 L372.9 160.0 L377.0 171.1 L386.7 199.5 L387.6 201.9 L411.5 233.6 L417.0 241.8 L421.1 250.0 L428.0 261.1 L435.9 273.0 L451.5 312.5 L457.0 327.2 L461.1 340.0 L464.4 351.1 L471.3 368.5 L478.6 401.2 L479.5 403.4 L495.5 420.0 L504.4 428.3 L517.6 441.1 L542.4 464.1 L563.6 474.3 L576.4 479.8 L587.5 488.1 L600.3 496.9"/>
<path stroke="#64009a" stroke-width="1.85" d="M603.7 488.1 L609.5 490.8 L619.7 496.3"/>
</g>
<g font-family="'Liberation Sans', sans-serif" shape-rendering="auto" filter="url(#t2)">
<text y="51.5" font-size="16" stroke="#fff" stroke-width="0.3"><tspan x="86.4" textLength="33.1" lengthAdjust="spacingAndGlyphs">AIRS</tspan> <tspan x="128.2" textLength="46.5" lengthAdjust="spacingAndGlyphs">SkewT</tspan> <tspan x="184.8" textLength="62.7" lengthAdjust="spacingAndGlyphs">Diagram</tspan> <tspan x="258.0" textLength="212.2" lengthAdjust="spacingAndGlyphs">2010-08-16/15:20:26.33</tspan> <tspan x="480.3" textLength="68.1" lengthAdjust="spacingAndGlyphs">(Lat/Lon</tspan> <tspan x="558.2" textLength="99.8" lengthAdjust="spacingAndGlyphs">9.08/158.77</tspan> <tspan x="668.5" textLength="33.2" lengthAdjust="spacingAndGlyphs">deg)</tspan></text>
<text x="700.7" y="84.3" font-size="13.0" fill="#000" text-anchor="start" textLength="44.8" lengthAdjust="spacingAndGlyphs" stroke="#fff" stroke-width="0.25">TP:100</text>
<text x="700.7" y="100.0" font-size="13.0" fill="#000" text-anchor="start" textLength="50.3" lengthAdjust="spacingAndGlyphs" stroke="#fff" stroke-width="0.25">MW:N/A</text>
<text x="700.7" y="115.7" font-size="13.0" fill="#000" text-anchor="start" textLength="52.8" lengthAdjust="spacingAndGlyphs" stroke="#fff" stroke-width="0.25">FRZ:562</text>
<text x="699.7" y="131.5" font-size="13.0" fill="#000" text-anchor="start" textLength="56.0" lengthAdjust="spacingAndGlyphs" stroke="#fff" stroke-width="0.25">WB0:488</text>
<text x="699.7" y="147.2" font-size="13.0" fill="#000" text-anchor="start" textLength="60.0" lengthAdjust="spacingAndGlyphs" stroke="#fff" stroke-width="0.25">PW:33.42</text>
<text x="700.7" y="162.9" font-size="13.0" fill="#000" text-anchor="start" textLength="51.0" lengthAdjust="spacingAndGlyphs" stroke="#fff" stroke-width="0.25">RH:55.3</text>
<text x="699.7" y="178.6" font-size="13.0" fill="#000" text-anchor="start" textLength="64.0" lengthAdjust="spacingAndGlyphs" stroke="#fff" stroke-width="0.25">MAXT:31.5</text>
<text x="700.7" y="194.3" font-size="13.0" fill="#000" text-anchor="start" textLength="53.1" lengthAdjust="spacingAndGlyphs" stroke="#fff" stroke-width="0.25">TH:5463</text>
<text x="700.7" y="210.1" font-size="13.0" fill="#000" text-anchor="start" textLength="46.3" lengthAdjust="spacingAndGlyphs" stroke="#fff" stroke-width="0.25">L57:6.4</text>
<text x="700.7" y="225.8" font-size="13.0" fill="#000" text-anchor="start" textLength="51.5" lengthAdjust="spacingAndGlyphs" stroke="#fff" stroke-width="0.25">LCL:966</text>
<text x="702.0" y="241.5" font-size="13.0" fill="#000" text-anchor="start" textLength="44.8" lengthAdjust="spacingAndGlyphs" stroke="#fff" stroke-width="0.25">LI:-3.9</text>
<text x="702.0" y="257.2" font-size="13.0" fill="#000" text-anchor="start" textLength="36.3" lengthAdjust="spacingAndGlyphs" stroke="#fff" stroke-width="0.25">SI:4.7</text>
<text x="700.2" y="272.9" font-size="13.0" fill="#000" text-anchor="start" textLength="46.9" lengthAdjust="spacingAndGlyphs" stroke="#fff" stroke-width="0.25">TT:38.3</text>
<text x="702.0" y="288.7" font-size="13.0" fill="#000" text-anchor="start" textLength="40.3" lengthAdjust="spacingAndGlyphs" stroke="#fff" stroke-width="0.25">KI:293</text>
<text x="700.7" y="304.4" font-size="13.0" fill="#000" text-anchor="start" textLength="48.3" lengthAdjust="spacingAndGlyphs" stroke="#fff" stroke-width="0.25">SW:N/A</text>
<text x="703.4" y="320.1" font-size="13.0" fill="#000" text-anchor="start" textLength="34.3" lengthAdjust="spacingAndGlyphs" stroke="#fff" stroke-width="0.25">EI:0.2</text>
<text x="699.4" y="335.8" font-size="13.0" fill="#000" text-anchor="start" textLength="68.3" lengthAdjust="spacingAndGlyphs" stroke="#fff" stroke-width="0.25">-PARCEL-</text>
<text x="699.4" y="351.5" font-size="13.0" fill="#000" text-anchor="start" textLength="68.9" lengthAdjust="spacingAndGlyphs" stroke="#fff" stroke-width="0.25">CAPE:1687</text>
<text x="702.0" y="367.3" font-size="13.0" fill="#000" text-anchor="start" textLength="39.7" lengthAdjust="spacingAndGlyphs" stroke="#fff" stroke-width="0.25">CINH:1</text>
<text x="700.7" y="383.0" font-size="13.0" fill="#000" text-anchor="start" textLength="51.5" lengthAdjust="spacingAndGlyphs" stroke="#fff" stroke-width="0.25">LCL:966</text>
<text x="700.7" y="398.7" font-size="13.0" fill="#000" text-anchor="start" textLength="49.6" lengthAdjust="spacingAndGlyphs" stroke="#fff" stroke-width="0.25">CAP:0.0</text>
<text x="700.7" y="414.4" font-size="13.0" fill="#000" text-anchor="start" textLength="51.5" lengthAdjust="spacingAndGlyphs" stroke="#fff" stroke-width="0.25">LFC:956</text>
<text x="702.0" y="430.1" font-size="13.0" fill="#000" text-anchor="start" textLength="43.0" lengthAdjust="spacingAndGlyphs" stroke="#fff" stroke-width="0.25">EL:146</text>
<text x="700.7" y="445.9" font-size="13.0" fill="#000" text-anchor="start" textLength="52.3" lengthAdjust="spacingAndGlyphs" stroke="#fff" stroke-width="0.25">MPL:101</text>
<text x="700.7" y="461.6" font-size="13.0" fill="#000" text-anchor="start" textLength="51.5" lengthAdjust="spacingAndGlyphs" stroke="#fff" stroke-width="0.25">-WIND-</text>
<text x="704.0" y="477.3" font-size="13.0" fill="#000" text-anchor="start" textLength="22.2" lengthAdjust="spacingAndGlyphs" stroke="#fff" stroke-width="0.25">NOT</text>
<text x="702.0" y="493.0" font-size="13.0" fill="#000" text-anchor="start" textLength="30.9" lengthAdjust="spacingAndGlyphs" stroke="#fff" stroke-width="0.25">AVAIL</text>
<text x="67.3" y="75.6" font-size="10.8" fill="#000" text-anchor="end" textLength="19.2" lengthAdjust="spacingAndGlyphs">100</text>
<text x="67.3" y="202.0" font-size="10.8" fill="#000" text-anchor="end" textLength="19.2" lengthAdjust="spacingAndGlyphs">200</text>
<text x="67.3" y="276.0" font-size="10.8" fill="#000" text-anchor="end" textLength="19.2" lengthAdjust="spacingAndGlyphs">300</text>
<text x="67.3" y="328.5" font-size="10.8" fill="#000" text-anchor="end" textLength="19.2" lengthAdjust="spacingAndGlyphs">400</text>
<text x="67.3" y="369.2" font-size="10.8" fill="#000" text-anchor="end" textLength="19.2" lengthAdjust="spacingAndGlyphs">500</text>
<text x="67.3" y="402.4" font-size="10.8" fill="#000" text-anchor="end" textLength="19.2" lengthAdjust="spacingAndGlyphs">600</text>
<text x="67.3" y="430.5" font-size="10.8" fill="#000" text-anchor="end" textLength="19.2" lengthAdjust="spacingAndGlyphs">700</text>
<text x="67.3" y="454.9" font-size="10.8" fill="#000" text-anchor="end" textLength="19.2" lengthAdjust="spacingAndGlyphs">800</text>
<text x="67.3" y="476.4" font-size="10.8" fill="#000" text-anchor="end" textLength="19.2" lengthAdjust="spacingAndGlyphs">900</text>
<text x="67.3" y="495.6" font-size="10.8" fill="#000" text-anchor="end" textLength="25.5" lengthAdjust="spacingAndGlyphs">1000</text>
<text transform="translate(82.8 279.3) rotate(-90)" font-size="15.4" stroke="#fff" stroke-width="0.4" text-anchor="middle" textLength="104.7" lengthAdjust="spacingAndGlyphs">PRESSURE (MB)</text>
<text x="129.7" y="65.6" font-size="10.2" fill="#ff0000" text-anchor="middle" textLength="27.8" lengthAdjust="spacingAndGlyphs">-120</text>
<text x="197.4" y="65.6" font-size="10.2" fill="#ff0000" text-anchor="middle" textLength="27.8" lengthAdjust="spacingAndGlyphs">-110</text>
<text x="265.2" y="65.6" font-size="10.2" fill="#ff0000" text-anchor="middle" textLength="27.8" lengthAdjust="spacingAndGlyphs">-100</text>
<text x="335.0" y="65.6" font-size="10.2" fill="#ff0000" text-anchor="middle" textLength="21.0" lengthAdjust="spacingAndGlyphs">-90</text>
<text x="402.8" y="65.6" font-size="10.2" fill="#ff0000" text-anchor="middle" textLength="21.0" lengthAdjust="spacingAndGlyphs">-80</text>
<text x="470.5" y="65.6" font-size="10.2" fill="#ff0000" text-anchor="middle" textLength="21.0" lengthAdjust="spacingAndGlyphs">-70</text>
<text x="538.3" y="65.6" font-size="10.2" fill="#ff0000" text-anchor="middle" textLength="21.0" lengthAdjust="spacingAndGlyphs">-60</text>
<text x="606.0" y="65.6" font-size="10.2" fill="#ff0000" text-anchor="middle" textLength="21.0" lengthAdjust="spacingAndGlyphs">-50</text>
<text x="673.8" y="65.6" font-size="10.2" fill="#ff0000" text-anchor="middle" textLength="21.0" lengthAdjust="spacingAndGlyphs">-40</text>
<text x="98.8" y="516.3" font-size="10.2" fill="#ff0000" text-anchor="middle" textLength="20.8" lengthAdjust="spacingAndGlyphs">-50</text>
<text x="166.5" y="516.3" font-size="10.2" fill="#ff0000" text-anchor="middle" textLength="20.8" lengthAdjust="spacingAndGlyphs">-40</text>
<text x="234.3" y="516.3" font-size="10.2" fill="#ff0000" text-anchor="middle" textLength="20.8" lengthAdjust="spacingAndGlyphs">-30</text>
<text x="302.0" y="516.3" font-size="10.2" fill="#ff0000" text-anchor="middle" textLength="20.8" lengthAdjust="spacingAndGlyphs">-20</text>
<text x="369.8" y="516.3" font-size="10.2" fill="#ff0000" text-anchor="middle" textLength="20.8" lengthAdjust="spacingAndGlyphs">-10</text>
<text x="437.5" y="516.3" font-size="10.2" fill="#ff0000" text-anchor="middle" textLength="6.3" lengthAdjust="spacingAndGlyphs">0</text>
<text x="505.3" y="516.3" font-size="10.2" fill="#ff0000" text-anchor="middle" textLength="12.3" lengthAdjust="spacingAndGlyphs">10</text>
<text x="573.0" y="516.3" font-size="10.2" fill="#ff0000" text-anchor="middle" textLength="12.3" lengthAdjust="spacingAndGlyphs">20</text>
<text x="640.8" y="516.3" font-size="10.2" fill="#ff0000" text-anchor="middle" textLength="12.3" lengthAdjust="spacingAndGlyphs">30</text>
<text x="677.9" y="516.3" font-size="10.2" fill="#ff0000" text-anchor="start" textLength="20.3" lengthAdjust="spacingAndGlyphs">T(C)</text>
<text transform="translate(142.0 523) rotate(-45)" font-size="10.2" fill="#64009a" text-anchor="middle" textLength="15.0" lengthAdjust="spacingAndGlyphs" dy="3.6">0.1</text>
<text transform="translate(189.2 523) rotate(-45)" font-size="10.2" fill="#64009a" text-anchor="middle" textLength="15.0" lengthAdjust="spacingAndGlyphs" dy="3.6">0.2</text>
<text transform="translate(254.5 523) rotate(-45)" font-size="10.2" fill="#64009a" text-anchor="middle" textLength="15.0" lengthAdjust="spacingAndGlyphs" dy="3.6">0.5</text>
<text transform="translate(307.7 523) rotate(-45)" font-size="10.2" fill="#64009a" text-anchor="middle" textLength="5.5" lengthAdjust="spacingAndGlyphs" dy="3.6">1</text>
<text transform="translate(341.0 523) rotate(-45)" font-size="10.2" fill="#64009a" text-anchor="middle" textLength="15.0" lengthAdjust="spacingAndGlyphs" dy="3.6">1.5</text>
<text transform="translate(365.6 523) rotate(-45)" font-size="10.2" fill="#64009a" text-anchor="middle" textLength="5.5" lengthAdjust="spacingAndGlyphs" dy="3.6">2</text>
<text transform="translate(400.3 523) rotate(-45)" font-size="10.2" fill="#64009a" text-anchor="middle" textLength="5.5" lengthAdjust="spacingAndGlyphs" dy="3.6">3</text>
<text transform="translate(428.7 523) rotate(-45)" font-size="10.2" fill="#64009a" text-anchor="middle" textLength="5.5" lengthAdjust="spacingAndGlyphs" dy="3.6">4</text>
<text transform="translate(465.9 523) rotate(-45)" font-size="10.2" fill="#64009a" text-anchor="middle" textLength="5.5" lengthAdjust="spacingAndGlyphs" dy="3.6">6</text>
<text transform="translate(494.0 523) rotate(-45)" font-size="10.2" fill="#64009a" text-anchor="middle" textLength="5.5" lengthAdjust="spacingAndGlyphs" dy="3.6">8</text>
<text transform="translate(516.4 523) rotate(-45)" font-size="10.2" fill="#64009a" text-anchor="middle" textLength="11.5" lengthAdjust="spacingAndGlyphs" dy="3.6">10</text>
<text transform="translate(535.2 523) rotate(-45)" font-size="10.2" fill="#64009a" text-anchor="middle" textLength="11.5" lengthAdjust="spacingAndGlyphs" dy="3.6">12</text>
<text transform="translate(559.4 523) rotate(-45)" font-size="10.2" fill="#64009a" text-anchor="middle" textLength="11.5" lengthAdjust="spacingAndGlyphs" dy="3.6">15</text>
<text transform="translate(589.8 523) rotate(-45)" font-size="10.2" fill="#64009a" text-anchor="middle" textLength="11.5" lengthAdjust="spacingAndGlyphs" dy="3.6">20</text>
<text transform="translate(614.2 523) rotate(-45)" font-size="10.2" fill="#64009a" text-anchor="middle" textLength="11.5" lengthAdjust="spacingAndGlyphs" dy="3.6">25</text>
<text transform="translate(634.7 523) rotate(-45)" font-size="10.2" fill="#64009a" text-anchor="middle" textLength="11.5" lengthAdjust="spacingAndGlyphs" dy="3.6">30</text>
<text transform="translate(667.5 523) rotate(-45)" font-size="10.2" fill="#64009a" text-anchor="middle" textLength="11.5" lengthAdjust="spacingAndGlyphs" dy="3.6">40</text>
<text x="663.5" y="526.2" font-size="11.0" fill="#64009a" text-anchor="start" textLength="44.8" lengthAdjust="spacingAndGlyphs">w(g/kg)</text>
</g>
</svg>
</body></html>
